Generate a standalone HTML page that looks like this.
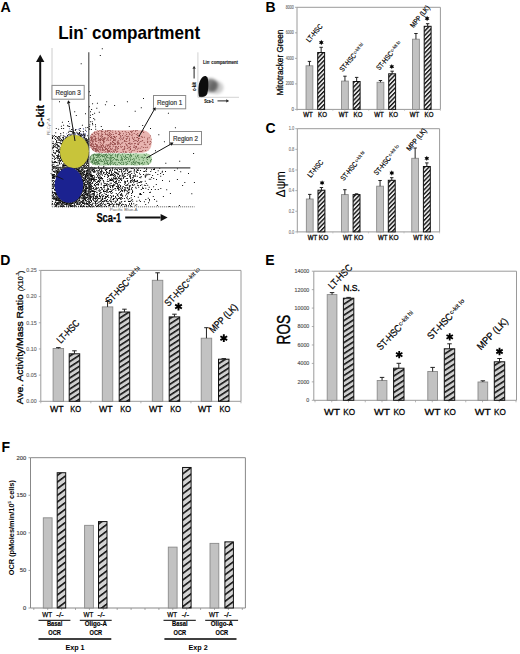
<!DOCTYPE html>
<html><head><meta charset="utf-8"><style>
html,body{margin:0;padding:0;background:#fff;}
svg{display:block;font-family:"Liberation Sans", sans-serif;}
</style></head><body>
<svg width="520" height="654" viewBox="0 0 520 654">
<defs>
<pattern id="hB" width="10" height="3.05" patternUnits="userSpaceOnUse" patternTransform="rotate(-46)"><rect width="10" height="3.05" fill="#e8e8e8"/><rect width="10" height="1.35" fill="#111"/></pattern>
<pattern id="hD" width="10" height="4.6" patternUnits="userSpaceOnUse" patternTransform="rotate(-33)"><rect width="10" height="4.6" fill="#cfcfcf"/><rect width="10" height="1.6" fill="#111"/></pattern>
<pattern id="hF" width="10" height="5.3" patternUnits="userSpaceOnUse" patternTransform="rotate(-37)"><rect width="10" height="5.3" fill="#d4d4d4"/><rect width="10" height="1.6" fill="#111"/></pattern>
</defs>
<rect width="520" height="654" fill="#fff"/>
<line x1="52" y1="48.5" x2="52" y2="207" stroke="#999" stroke-width="1" stroke-dasharray="1 1"/>
<line x1="52" y1="206.8" x2="194.6" y2="206.8" stroke="#777" stroke-width="1" stroke-dasharray="1.2 0.8"/>
<rect x="89.6" y="130.3" width="62" height="22.4" rx="9" ry="9" fill="#e8b4b0"/>
<rect x="89.6" y="153.4" width="62.4" height="11.8" rx="5.5" ry="5.5" fill="#b5d6ad"/>
<defs><filter id="soft" x="-5%" y="-5%" width="110%" height="110%"><feGaussianBlur stdDeviation="0.35"/></filter></defs>
<g filter="url(#soft)">
<path d="M101.8 48.2h1.0v1.0h-1.0zM99.8 54.9h1.0v1.0h-1.0zM80.7 63.2h1.0v1.0h-1.0zM88.9 91.2h1.0v1.0h-1.0zM58.8 93.8h1.0v1.0h-1.0zM89.8 95.0h1.0v1.0h-1.0zM79.8 97.3h1.0v1.0h-1.0zM143.0 98.0h1.0v1.0h-1.0zM59.0 101.3h1.0v1.0h-1.0zM106.2 101.3h1.0v1.0h-1.0zM126.9 101.2h1.0v1.0h-1.0zM92.1 103.3h1.0v1.0h-1.0zM96.9 102.7h1.0v1.0h-1.0zM104.9 104.2h1.0v1.0h-1.0zM114.1 105.1h1.0v1.0h-1.0zM89.0 106.3h1.0v1.0h-1.0zM140.8 107.2h1.0v1.0h-1.0zM96.3 107.7h1.0v1.0h-1.0zM91.1 109.0h1.0v1.0h-1.0zM74.2 111.2h1.0v1.0h-1.0zM90.0 111.2h1.0v1.0h-1.0zM134.7 110.8h1.0v1.0h-1.0zM98.8 111.8h1.0v1.0h-1.0zM85.0 113.2h1.0v1.0h-1.0zM94.1 112.8h1.0v1.0h-1.0zM167.9 112.8h1.0v1.0h-1.0zM92.2 113.9h1.0v1.0h-1.0zM75.8 115.0h1.0v1.0h-1.0zM90.0 114.8h1.0v1.0h-1.0zM89.8 117.1h1.0v1.0h-1.0zM93.2 118.0h1.0v1.0h-1.0zM94.2 119.3h1.0v1.0h-1.0zM68.0 120.9h1.0v1.0h-1.0zM89.9 121.3h1.0v1.0h-1.0zM91.7 121.2h1.0v1.0h-1.0zM61.9 121.8h1.0v1.0h-1.0zM92.0 123.0h1.0v1.0h-1.0zM89.3 124.3h1.0v1.0h-1.0zM92.2 124.2h1.0v1.0h-1.0zM95.0 124.3h1.0v1.0h-1.0zM63.1 124.7h1.0v1.0h-1.0zM67.0 125.2h1.0v1.0h-1.0zM81.9 124.8h1.0v1.0h-1.0zM142.2 125.0h1.0v1.0h-1.0zM60.9 125.8h1.0v1.0h-1.0zM67.9 125.8h1.0v1.0h-1.0zM69.1 125.9h1.0v1.0h-1.0zM89.1 126.1h1.0v1.0h-1.0zM95.1 126.3h1.0v1.0h-1.0zM100.8 126.1h1.0v1.0h-1.0zM128.8 126.1h1.0v1.0h-1.0zM85.3 127.2h1.0v1.0h-1.0zM87.2 126.9h1.0v1.0h-1.0zM174.9 127.2h1.0v1.0h-1.0zM55.8 128.1h1.0v1.0h-1.0zM61.1 127.9h1.0v1.0h-1.0zM63.1 127.9h1.0v1.0h-1.0zM79.9 127.9h1.0v1.0h-1.0zM88.8 128.2h1.0v1.0h-1.0zM150.0 128.0h1.0v1.0h-1.0zM58.1 128.7h1.0v1.0h-1.0zM71.1 128.9h1.0v1.0h-1.0zM71.7 129.0h1.0v1.0h-1.0zM75.1 129.1h1.0v1.0h-1.0zM89.1 128.8h1.0v1.0h-1.0zM90.9 129.1h1.0v1.0h-1.0zM95.2 128.8h1.0v1.0h-1.0zM102.1 129.1h1.0v1.0h-1.0zM74.8 130.1h1.0v1.0h-1.0zM78.9 129.8h1.0v1.0h-1.0zM85.1 129.8h1.0v1.0h-1.0zM68.8 130.7h1.0v1.0h-1.0zM70.0 130.7h1.0v1.0h-1.0zM70.9 131.1h1.0v1.0h-1.0zM72.1 131.3h1.0v1.0h-1.0zM80.1 130.8h1.0v1.0h-1.0zM82.8 130.9h1.0v1.0h-1.0zM55.2 132.3h1.0v1.0h-1.0zM62.9 132.3h1.0v1.0h-1.0zM67.9 131.8h1.0v1.0h-1.0zM71.9 131.7h1.0v1.0h-1.0zM72.8 132.1h1.0v1.0h-1.0zM74.2 131.9h1.0v1.0h-1.0zM76.3 131.7h1.0v1.0h-1.0zM79.0 132.1h1.0v1.0h-1.0zM60.2 132.9h1.0v1.0h-1.0zM72.2 133.3h1.0v1.0h-1.0zM72.8 133.2h1.0v1.0h-1.0zM74.2 132.8h1.0v1.0h-1.0zM76.8 133.1h1.0v1.0h-1.0zM78.3 133.1h1.0v1.0h-1.0zM79.2 133.0h1.0v1.0h-1.0zM83.2 133.2h1.0v1.0h-1.0zM68.0 134.2h1.0v1.0h-1.0zM69.3 133.8h1.0v1.0h-1.0zM71.3 133.7h1.0v1.0h-1.0zM78.1 134.0h1.0v1.0h-1.0zM78.7 133.9h1.0v1.0h-1.0zM80.3 134.3h1.0v1.0h-1.0zM81.2 133.9h1.0v1.0h-1.0zM83.1 133.9h1.0v1.0h-1.0zM84.2 133.8h1.0v1.0h-1.0zM158.3 134.2h1.0v1.0h-1.0zM51.9 135.3h1.0v1.0h-1.0zM53.8 135.0h1.0v1.0h-1.0zM60.3 134.7h1.0v1.0h-1.0zM62.8 135.2h1.0v1.0h-1.0zM67.0 135.0h1.0v1.0h-1.0zM70.2 134.9h1.0v1.0h-1.0zM70.7 134.9h1.0v1.0h-1.0zM74.2 134.8h1.0v1.0h-1.0zM79.2 135.3h1.0v1.0h-1.0zM79.8 135.0h1.0v1.0h-1.0zM80.7 134.9h1.0v1.0h-1.0zM82.1 135.1h1.0v1.0h-1.0zM83.9 135.1h1.0v1.0h-1.0zM87.2 135.2h1.0v1.0h-1.0zM52.7 136.1h1.0v1.0h-1.0zM55.0 136.0h1.0v1.0h-1.0zM55.8 136.2h1.0v1.0h-1.0zM57.9 136.1h1.0v1.0h-1.0zM59.3 135.9h1.0v1.0h-1.0zM63.7 135.8h1.0v1.0h-1.0zM67.2 136.3h1.0v1.0h-1.0zM74.9 136.3h1.0v1.0h-1.0zM76.2 135.9h1.0v1.0h-1.0zM76.8 135.9h1.0v1.0h-1.0zM77.9 136.2h1.0v1.0h-1.0zM78.7 135.8h1.0v1.0h-1.0zM80.0 136.0h1.0v1.0h-1.0zM81.0 136.2h1.0v1.0h-1.0zM84.3 136.0h1.0v1.0h-1.0zM52.0 137.0h1.0v1.0h-1.0zM56.9 137.1h1.0v1.0h-1.0zM58.9 136.8h1.0v1.0h-1.0zM62.2 137.1h1.0v1.0h-1.0zM62.9 136.9h1.0v1.0h-1.0zM65.3 137.2h1.0v1.0h-1.0zM65.9 137.0h1.0v1.0h-1.0zM66.8 137.1h1.0v1.0h-1.0zM67.8 137.0h1.0v1.0h-1.0zM71.3 137.2h1.0v1.0h-1.0zM71.8 137.0h1.0v1.0h-1.0zM72.7 137.0h1.0v1.0h-1.0zM74.0 136.7h1.0v1.0h-1.0zM76.1 137.3h1.0v1.0h-1.0zM80.0 136.9h1.0v1.0h-1.0zM83.1 136.7h1.0v1.0h-1.0zM84.1 137.1h1.0v1.0h-1.0zM88.0 137.3h1.0v1.0h-1.0zM193.0 136.9h1.0v1.0h-1.0zM52.0 138.0h1.0v1.0h-1.0zM53.9 137.8h1.0v1.0h-1.0zM56.8 137.9h1.0v1.0h-1.0zM58.2 137.8h1.0v1.0h-1.0zM59.9 137.8h1.0v1.0h-1.0zM62.8 138.1h1.0v1.0h-1.0zM64.9 138.1h1.0v1.0h-1.0zM67.1 138.0h1.0v1.0h-1.0zM71.1 138.0h1.0v1.0h-1.0zM71.7 138.1h1.0v1.0h-1.0zM72.9 137.8h1.0v1.0h-1.0zM74.1 138.0h1.0v1.0h-1.0zM75.0 138.0h1.0v1.0h-1.0zM76.9 138.0h1.0v1.0h-1.0zM79.1 137.8h1.0v1.0h-1.0zM82.0 138.0h1.0v1.0h-1.0zM84.2 137.8h1.0v1.0h-1.0zM85.2 138.3h1.0v1.0h-1.0zM85.8 138.0h1.0v1.0h-1.0zM88.1 137.9h1.0v1.0h-1.0zM181.8 137.9h1.0v1.0h-1.0zM55.0 139.0h1.0v1.0h-1.0zM57.8 139.2h1.0v1.0h-1.0zM58.9 138.7h1.0v1.0h-1.0zM61.1 138.9h1.0v1.0h-1.0zM63.1 139.1h1.0v1.0h-1.0zM65.0 139.3h1.0v1.0h-1.0zM67.1 138.8h1.0v1.0h-1.0zM68.8 139.0h1.0v1.0h-1.0zM70.8 139.1h1.0v1.0h-1.0zM73.7 139.1h1.0v1.0h-1.0zM75.2 138.9h1.0v1.0h-1.0zM79.2 139.0h1.0v1.0h-1.0zM79.9 139.3h1.0v1.0h-1.0zM81.1 138.9h1.0v1.0h-1.0zM82.2 138.8h1.0v1.0h-1.0zM83.1 139.0h1.0v1.0h-1.0zM84.8 139.3h1.0v1.0h-1.0zM86.1 139.2h1.0v1.0h-1.0zM86.7 139.1h1.0v1.0h-1.0zM88.1 138.9h1.0v1.0h-1.0zM187.1 139.3h1.0v1.0h-1.0zM56.2 140.1h1.0v1.0h-1.0zM58.7 140.1h1.0v1.0h-1.0zM60.1 139.8h1.0v1.0h-1.0zM61.3 139.7h1.0v1.0h-1.0zM61.9 140.1h1.0v1.0h-1.0zM62.8 139.8h1.0v1.0h-1.0zM64.3 140.3h1.0v1.0h-1.0zM64.8 140.1h1.0v1.0h-1.0zM65.9 139.9h1.0v1.0h-1.0zM67.3 140.0h1.0v1.0h-1.0zM67.9 140.3h1.0v1.0h-1.0zM68.7 140.1h1.0v1.0h-1.0zM70.1 140.2h1.0v1.0h-1.0zM71.2 140.0h1.0v1.0h-1.0zM72.8 140.0h1.0v1.0h-1.0zM75.0 140.1h1.0v1.0h-1.0zM75.9 139.9h1.0v1.0h-1.0zM76.8 139.7h1.0v1.0h-1.0zM77.9 140.2h1.0v1.0h-1.0zM78.9 139.8h1.0v1.0h-1.0zM79.8 140.3h1.0v1.0h-1.0zM80.8 139.8h1.0v1.0h-1.0zM82.2 139.9h1.0v1.0h-1.0zM83.2 139.8h1.0v1.0h-1.0zM83.9 140.0h1.0v1.0h-1.0zM84.8 140.2h1.0v1.0h-1.0zM86.0 139.9h1.0v1.0h-1.0zM86.8 140.1h1.0v1.0h-1.0zM52.7 141.2h1.0v1.0h-1.0zM56.0 140.9h1.0v1.0h-1.0zM60.3 140.8h1.0v1.0h-1.0zM61.9 141.2h1.0v1.0h-1.0zM63.0 141.1h1.0v1.0h-1.0zM63.9 141.2h1.0v1.0h-1.0zM64.9 141.2h1.0v1.0h-1.0zM65.9 141.0h1.0v1.0h-1.0zM67.2 141.2h1.0v1.0h-1.0zM68.1 141.2h1.0v1.0h-1.0zM69.1 140.9h1.0v1.0h-1.0zM70.0 141.3h1.0v1.0h-1.0zM70.9 141.2h1.0v1.0h-1.0zM73.2 140.8h1.0v1.0h-1.0zM73.7 141.1h1.0v1.0h-1.0zM75.0 141.1h1.0v1.0h-1.0zM75.8 140.9h1.0v1.0h-1.0zM77.2 140.8h1.0v1.0h-1.0zM77.8 141.0h1.0v1.0h-1.0zM78.7 140.9h1.0v1.0h-1.0zM80.0 141.3h1.0v1.0h-1.0zM80.8 141.3h1.0v1.0h-1.0zM82.9 141.1h1.0v1.0h-1.0zM84.1 141.2h1.0v1.0h-1.0zM85.0 141.0h1.0v1.0h-1.0zM86.1 141.2h1.0v1.0h-1.0zM86.8 141.1h1.0v1.0h-1.0zM88.2 140.9h1.0v1.0h-1.0zM163.9 141.3h1.0v1.0h-1.0zM55.9 142.0h1.0v1.0h-1.0zM57.1 142.2h1.0v1.0h-1.0zM57.8 142.0h1.0v1.0h-1.0zM59.0 142.2h1.0v1.0h-1.0zM59.7 142.2h1.0v1.0h-1.0zM62.1 142.2h1.0v1.0h-1.0zM62.9 142.0h1.0v1.0h-1.0zM64.0 142.2h1.0v1.0h-1.0zM64.7 142.0h1.0v1.0h-1.0zM65.8 142.0h1.0v1.0h-1.0zM67.1 141.9h1.0v1.0h-1.0zM68.3 141.8h1.0v1.0h-1.0zM68.8 141.9h1.0v1.0h-1.0zM69.8 142.1h1.0v1.0h-1.0zM70.9 142.1h1.0v1.0h-1.0zM72.2 142.2h1.0v1.0h-1.0zM74.2 141.9h1.0v1.0h-1.0zM74.8 142.0h1.0v1.0h-1.0zM76.2 141.9h1.0v1.0h-1.0zM76.8 142.1h1.0v1.0h-1.0zM78.1 141.9h1.0v1.0h-1.0zM79.0 142.2h1.0v1.0h-1.0zM80.2 142.1h1.0v1.0h-1.0zM80.8 141.9h1.0v1.0h-1.0zM82.1 142.2h1.0v1.0h-1.0zM83.1 142.0h1.0v1.0h-1.0zM83.8 141.9h1.0v1.0h-1.0zM85.0 142.0h1.0v1.0h-1.0zM86.0 142.0h1.0v1.0h-1.0zM87.1 141.9h1.0v1.0h-1.0zM52.2 142.9h1.0v1.0h-1.0zM53.2 143.2h1.0v1.0h-1.0zM55.3 142.9h1.0v1.0h-1.0zM60.2 142.9h1.0v1.0h-1.0zM61.0 142.9h1.0v1.0h-1.0zM62.1 142.8h1.0v1.0h-1.0zM62.7 142.9h1.0v1.0h-1.0zM64.0 143.1h1.0v1.0h-1.0zM65.9 143.0h1.0v1.0h-1.0zM67.3 142.8h1.0v1.0h-1.0zM67.9 142.8h1.0v1.0h-1.0zM69.0 142.9h1.0v1.0h-1.0zM69.9 142.8h1.0v1.0h-1.0zM70.9 143.0h1.0v1.0h-1.0zM72.1 143.0h1.0v1.0h-1.0zM72.8 143.1h1.0v1.0h-1.0zM73.7 142.9h1.0v1.0h-1.0zM74.8 142.9h1.0v1.0h-1.0zM75.9 142.7h1.0v1.0h-1.0zM77.2 143.0h1.0v1.0h-1.0zM78.1 143.3h1.0v1.0h-1.0zM79.0 143.2h1.0v1.0h-1.0zM79.9 143.1h1.0v1.0h-1.0zM81.2 142.8h1.0v1.0h-1.0zM81.9 142.9h1.0v1.0h-1.0zM83.1 142.8h1.0v1.0h-1.0zM84.2 142.8h1.0v1.0h-1.0zM85.1 142.8h1.0v1.0h-1.0zM86.2 142.7h1.0v1.0h-1.0zM86.8 142.8h1.0v1.0h-1.0zM88.1 143.3h1.0v1.0h-1.0zM54.2 144.3h1.0v1.0h-1.0zM55.7 144.0h1.0v1.0h-1.0zM56.8 143.9h1.0v1.0h-1.0zM60.8 144.1h1.0v1.0h-1.0zM62.9 144.1h1.0v1.0h-1.0zM63.7 144.0h1.0v1.0h-1.0zM64.8 144.3h1.0v1.0h-1.0zM66.0 144.1h1.0v1.0h-1.0zM66.8 143.7h1.0v1.0h-1.0zM68.3 144.2h1.0v1.0h-1.0zM69.2 143.9h1.0v1.0h-1.0zM70.0 144.3h1.0v1.0h-1.0zM71.2 144.2h1.0v1.0h-1.0zM72.1 144.1h1.0v1.0h-1.0zM73.3 143.8h1.0v1.0h-1.0zM74.2 144.2h1.0v1.0h-1.0zM75.1 143.7h1.0v1.0h-1.0zM76.1 143.8h1.0v1.0h-1.0zM77.0 144.2h1.0v1.0h-1.0zM78.3 144.1h1.0v1.0h-1.0zM79.1 144.1h1.0v1.0h-1.0zM79.9 144.2h1.0v1.0h-1.0zM81.2 143.8h1.0v1.0h-1.0zM82.2 144.1h1.0v1.0h-1.0zM83.0 143.9h1.0v1.0h-1.0zM85.3 144.1h1.0v1.0h-1.0zM86.1 143.7h1.0v1.0h-1.0zM87.1 143.8h1.0v1.0h-1.0zM88.0 144.3h1.0v1.0h-1.0zM52.9 144.9h1.0v1.0h-1.0zM55.2 145.2h1.0v1.0h-1.0zM56.9 144.8h1.0v1.0h-1.0zM58.2 145.1h1.0v1.0h-1.0zM60.9 144.8h1.0v1.0h-1.0zM62.1 144.8h1.0v1.0h-1.0zM63.1 144.7h1.0v1.0h-1.0zM63.9 144.8h1.0v1.0h-1.0zM65.3 145.1h1.0v1.0h-1.0zM67.8 145.0h1.0v1.0h-1.0zM70.1 144.8h1.0v1.0h-1.0zM71.1 144.7h1.0v1.0h-1.0zM72.0 145.0h1.0v1.0h-1.0zM73.3 145.0h1.0v1.0h-1.0zM75.0 145.0h1.0v1.0h-1.0zM76.2 144.7h1.0v1.0h-1.0zM77.2 144.8h1.0v1.0h-1.0zM78.2 145.1h1.0v1.0h-1.0zM79.1 145.0h1.0v1.0h-1.0zM80.1 144.7h1.0v1.0h-1.0zM81.1 144.8h1.0v1.0h-1.0zM81.8 144.9h1.0v1.0h-1.0zM82.8 145.1h1.0v1.0h-1.0zM83.8 144.8h1.0v1.0h-1.0zM84.8 145.2h1.0v1.0h-1.0zM87.1 145.2h1.0v1.0h-1.0zM88.3 144.8h1.0v1.0h-1.0zM53.1 146.2h1.0v1.0h-1.0zM54.2 145.9h1.0v1.0h-1.0zM57.3 145.8h1.0v1.0h-1.0zM57.9 146.0h1.0v1.0h-1.0zM59.0 146.2h1.0v1.0h-1.0zM61.1 145.9h1.0v1.0h-1.0zM62.3 145.8h1.0v1.0h-1.0zM62.8 146.2h1.0v1.0h-1.0zM65.2 146.1h1.0v1.0h-1.0zM65.8 145.7h1.0v1.0h-1.0zM67.7 145.8h1.0v1.0h-1.0zM68.8 145.8h1.0v1.0h-1.0zM69.7 146.2h1.0v1.0h-1.0zM71.3 145.8h1.0v1.0h-1.0zM72.1 146.1h1.0v1.0h-1.0zM73.0 145.7h1.0v1.0h-1.0zM73.8 145.9h1.0v1.0h-1.0zM74.8 146.1h1.0v1.0h-1.0zM76.3 145.9h1.0v1.0h-1.0zM76.7 146.0h1.0v1.0h-1.0zM78.2 146.1h1.0v1.0h-1.0zM79.0 145.7h1.0v1.0h-1.0zM80.2 146.3h1.0v1.0h-1.0zM81.0 145.8h1.0v1.0h-1.0zM81.8 145.9h1.0v1.0h-1.0zM83.0 145.9h1.0v1.0h-1.0zM84.2 146.2h1.0v1.0h-1.0zM86.1 145.7h1.0v1.0h-1.0zM87.2 146.2h1.0v1.0h-1.0zM87.8 145.7h1.0v1.0h-1.0zM52.1 146.8h1.0v1.0h-1.0zM53.0 147.3h1.0v1.0h-1.0zM54.8 146.7h1.0v1.0h-1.0zM56.0 147.3h1.0v1.0h-1.0zM57.2 147.2h1.0v1.0h-1.0zM60.1 147.3h1.0v1.0h-1.0zM61.3 147.1h1.0v1.0h-1.0zM61.9 147.0h1.0v1.0h-1.0zM63.1 147.0h1.0v1.0h-1.0zM63.9 146.8h1.0v1.0h-1.0zM65.0 146.7h1.0v1.0h-1.0zM66.3 146.8h1.0v1.0h-1.0zM66.7 146.8h1.0v1.0h-1.0zM67.7 146.7h1.0v1.0h-1.0zM68.9 147.1h1.0v1.0h-1.0zM69.9 147.0h1.0v1.0h-1.0zM70.8 146.9h1.0v1.0h-1.0zM72.2 147.3h1.0v1.0h-1.0zM73.0 147.3h1.0v1.0h-1.0zM73.8 146.9h1.0v1.0h-1.0zM75.2 147.3h1.0v1.0h-1.0zM76.2 146.9h1.0v1.0h-1.0zM77.0 147.0h1.0v1.0h-1.0zM77.8 147.1h1.0v1.0h-1.0zM79.1 146.9h1.0v1.0h-1.0zM79.8 146.7h1.0v1.0h-1.0zM81.1 146.8h1.0v1.0h-1.0zM82.2 147.1h1.0v1.0h-1.0zM83.1 146.9h1.0v1.0h-1.0zM84.0 147.2h1.0v1.0h-1.0zM84.9 146.9h1.0v1.0h-1.0zM86.1 147.3h1.0v1.0h-1.0zM87.0 146.7h1.0v1.0h-1.0zM88.2 147.2h1.0v1.0h-1.0zM52.0 148.2h1.0v1.0h-1.0zM57.1 148.0h1.0v1.0h-1.0zM59.7 147.7h1.0v1.0h-1.0zM61.3 148.0h1.0v1.0h-1.0zM62.3 148.0h1.0v1.0h-1.0zM63.1 147.7h1.0v1.0h-1.0zM64.0 148.2h1.0v1.0h-1.0zM64.9 148.0h1.0v1.0h-1.0zM66.0 147.9h1.0v1.0h-1.0zM67.1 148.0h1.0v1.0h-1.0zM68.0 148.1h1.0v1.0h-1.0zM69.2 148.1h1.0v1.0h-1.0zM70.0 148.1h1.0v1.0h-1.0zM71.2 148.2h1.0v1.0h-1.0zM72.3 147.8h1.0v1.0h-1.0zM72.8 148.0h1.0v1.0h-1.0zM74.3 147.8h1.0v1.0h-1.0zM75.3 148.0h1.0v1.0h-1.0zM75.8 148.2h1.0v1.0h-1.0zM77.2 147.8h1.0v1.0h-1.0zM79.0 148.2h1.0v1.0h-1.0zM80.3 148.3h1.0v1.0h-1.0zM80.8 147.9h1.0v1.0h-1.0zM82.1 147.7h1.0v1.0h-1.0zM82.8 148.0h1.0v1.0h-1.0zM84.0 148.2h1.0v1.0h-1.0zM84.7 148.3h1.0v1.0h-1.0zM86.8 148.1h1.0v1.0h-1.0zM87.7 148.2h1.0v1.0h-1.0zM57.8 149.0h1.0v1.0h-1.0zM59.2 148.7h1.0v1.0h-1.0zM59.8 149.1h1.0v1.0h-1.0zM60.8 149.1h1.0v1.0h-1.0zM61.9 149.2h1.0v1.0h-1.0zM62.9 149.2h1.0v1.0h-1.0zM64.0 149.1h1.0v1.0h-1.0zM65.0 149.0h1.0v1.0h-1.0zM66.2 149.0h1.0v1.0h-1.0zM67.2 149.1h1.0v1.0h-1.0zM68.3 148.8h1.0v1.0h-1.0zM69.0 149.0h1.0v1.0h-1.0zM70.3 149.0h1.0v1.0h-1.0zM70.8 149.1h1.0v1.0h-1.0zM72.1 148.9h1.0v1.0h-1.0zM75.2 148.8h1.0v1.0h-1.0zM76.3 149.3h1.0v1.0h-1.0zM76.7 148.8h1.0v1.0h-1.0zM77.7 149.1h1.0v1.0h-1.0zM79.1 149.2h1.0v1.0h-1.0zM79.8 149.1h1.0v1.0h-1.0zM80.8 148.9h1.0v1.0h-1.0zM82.3 149.0h1.0v1.0h-1.0zM83.2 148.8h1.0v1.0h-1.0zM83.8 149.3h1.0v1.0h-1.0zM85.8 149.2h1.0v1.0h-1.0zM86.7 148.8h1.0v1.0h-1.0zM88.0 149.2h1.0v1.0h-1.0zM53.0 150.2h1.0v1.0h-1.0zM55.9 150.1h1.0v1.0h-1.0zM56.8 150.2h1.0v1.0h-1.0zM58.0 150.1h1.0v1.0h-1.0zM59.8 150.2h1.0v1.0h-1.0zM61.1 150.3h1.0v1.0h-1.0zM61.8 149.8h1.0v1.0h-1.0zM63.0 149.8h1.0v1.0h-1.0zM64.2 149.7h1.0v1.0h-1.0zM64.7 149.8h1.0v1.0h-1.0zM65.9 149.8h1.0v1.0h-1.0zM66.9 149.9h1.0v1.0h-1.0zM68.3 150.2h1.0v1.0h-1.0zM68.7 150.2h1.0v1.0h-1.0zM70.3 150.2h1.0v1.0h-1.0zM70.7 150.2h1.0v1.0h-1.0zM72.1 149.8h1.0v1.0h-1.0zM73.0 149.8h1.0v1.0h-1.0zM73.8 149.9h1.0v1.0h-1.0zM74.7 150.3h1.0v1.0h-1.0zM76.1 149.9h1.0v1.0h-1.0zM77.2 150.0h1.0v1.0h-1.0zM77.8 149.9h1.0v1.0h-1.0zM78.9 150.2h1.0v1.0h-1.0zM81.1 149.8h1.0v1.0h-1.0zM81.8 150.1h1.0v1.0h-1.0zM83.0 149.8h1.0v1.0h-1.0zM83.8 149.9h1.0v1.0h-1.0zM85.1 149.9h1.0v1.0h-1.0zM85.8 150.3h1.0v1.0h-1.0zM87.2 150.0h1.0v1.0h-1.0zM155.0 150.3h1.0v1.0h-1.0zM56.0 151.2h1.0v1.0h-1.0zM57.2 151.0h1.0v1.0h-1.0zM58.3 150.8h1.0v1.0h-1.0zM58.9 151.2h1.0v1.0h-1.0zM62.0 151.2h1.0v1.0h-1.0zM63.0 151.3h1.0v1.0h-1.0zM63.8 150.8h1.0v1.0h-1.0zM65.0 151.2h1.0v1.0h-1.0zM67.2 150.9h1.0v1.0h-1.0zM68.1 151.2h1.0v1.0h-1.0zM68.8 150.8h1.0v1.0h-1.0zM69.9 150.9h1.0v1.0h-1.0zM70.8 151.0h1.0v1.0h-1.0zM71.7 150.9h1.0v1.0h-1.0zM72.7 151.0h1.0v1.0h-1.0zM75.1 151.1h1.0v1.0h-1.0zM76.0 151.0h1.0v1.0h-1.0zM77.2 150.7h1.0v1.0h-1.0zM77.9 151.2h1.0v1.0h-1.0zM78.7 151.3h1.0v1.0h-1.0zM80.0 150.9h1.0v1.0h-1.0zM81.3 151.2h1.0v1.0h-1.0zM82.2 150.9h1.0v1.0h-1.0zM83.0 150.9h1.0v1.0h-1.0zM84.0 151.2h1.0v1.0h-1.0zM84.9 150.8h1.0v1.0h-1.0zM85.8 150.8h1.0v1.0h-1.0zM87.0 150.9h1.0v1.0h-1.0zM53.1 152.0h1.0v1.0h-1.0zM54.8 152.2h1.0v1.0h-1.0zM58.0 152.3h1.0v1.0h-1.0zM58.7 152.2h1.0v1.0h-1.0zM59.7 152.2h1.0v1.0h-1.0zM60.8 151.7h1.0v1.0h-1.0zM61.9 152.1h1.0v1.0h-1.0zM62.8 151.8h1.0v1.0h-1.0zM64.1 152.1h1.0v1.0h-1.0zM65.1 151.8h1.0v1.0h-1.0zM66.1 152.0h1.0v1.0h-1.0zM67.1 151.9h1.0v1.0h-1.0zM67.9 152.1h1.0v1.0h-1.0zM69.3 152.1h1.0v1.0h-1.0zM69.7 152.1h1.0v1.0h-1.0zM71.0 151.8h1.0v1.0h-1.0zM73.0 152.2h1.0v1.0h-1.0zM74.0 151.7h1.0v1.0h-1.0zM75.2 151.9h1.0v1.0h-1.0zM76.2 151.9h1.0v1.0h-1.0zM76.9 151.9h1.0v1.0h-1.0zM77.9 152.0h1.0v1.0h-1.0zM79.1 151.9h1.0v1.0h-1.0zM79.9 151.9h1.0v1.0h-1.0zM80.7 152.2h1.0v1.0h-1.0zM82.3 151.7h1.0v1.0h-1.0zM83.0 152.0h1.0v1.0h-1.0zM86.9 152.2h1.0v1.0h-1.0zM88.1 152.0h1.0v1.0h-1.0zM53.9 152.8h1.0v1.0h-1.0zM55.0 153.3h1.0v1.0h-1.0zM60.1 153.3h1.0v1.0h-1.0zM61.7 153.2h1.0v1.0h-1.0zM63.3 153.2h1.0v1.0h-1.0zM64.9 153.0h1.0v1.0h-1.0zM68.2 153.0h1.0v1.0h-1.0zM69.8 153.3h1.0v1.0h-1.0zM71.0 152.7h1.0v1.0h-1.0zM71.8 153.2h1.0v1.0h-1.0zM74.2 152.8h1.0v1.0h-1.0zM74.7 153.2h1.0v1.0h-1.0zM76.3 153.0h1.0v1.0h-1.0zM76.8 152.9h1.0v1.0h-1.0zM77.9 153.0h1.0v1.0h-1.0zM80.9 152.9h1.0v1.0h-1.0zM81.9 152.9h1.0v1.0h-1.0zM83.2 153.2h1.0v1.0h-1.0zM84.1 153.0h1.0v1.0h-1.0zM85.2 152.8h1.0v1.0h-1.0zM86.1 153.0h1.0v1.0h-1.0zM86.8 153.1h1.0v1.0h-1.0zM87.9 152.9h1.0v1.0h-1.0zM193.1 153.0h1.0v1.0h-1.0zM51.8 153.9h1.0v1.0h-1.0zM57.9 154.0h1.0v1.0h-1.0zM60.2 154.2h1.0v1.0h-1.0zM61.0 154.1h1.0v1.0h-1.0zM61.7 154.0h1.0v1.0h-1.0zM62.9 153.7h1.0v1.0h-1.0zM64.7 154.0h1.0v1.0h-1.0zM65.8 153.8h1.0v1.0h-1.0zM66.9 154.2h1.0v1.0h-1.0zM68.0 153.7h1.0v1.0h-1.0zM70.0 153.8h1.0v1.0h-1.0zM70.8 153.9h1.0v1.0h-1.0zM72.1 154.0h1.0v1.0h-1.0zM72.9 154.2h1.0v1.0h-1.0zM73.7 154.2h1.0v1.0h-1.0zM75.3 153.9h1.0v1.0h-1.0zM76.3 154.1h1.0v1.0h-1.0zM77.3 153.7h1.0v1.0h-1.0zM77.9 153.8h1.0v1.0h-1.0zM79.2 154.2h1.0v1.0h-1.0zM80.2 154.3h1.0v1.0h-1.0zM81.1 154.3h1.0v1.0h-1.0zM82.2 153.9h1.0v1.0h-1.0zM83.8 153.8h1.0v1.0h-1.0zM85.1 154.1h1.0v1.0h-1.0zM86.1 154.0h1.0v1.0h-1.0zM87.9 154.0h1.0v1.0h-1.0zM52.3 154.9h1.0v1.0h-1.0zM56.2 155.1h1.0v1.0h-1.0zM56.8 155.3h1.0v1.0h-1.0zM57.8 155.1h1.0v1.0h-1.0zM59.8 154.8h1.0v1.0h-1.0zM61.3 154.7h1.0v1.0h-1.0zM61.9 155.3h1.0v1.0h-1.0zM62.7 155.0h1.0v1.0h-1.0zM64.0 155.1h1.0v1.0h-1.0zM65.2 155.0h1.0v1.0h-1.0zM65.8 155.1h1.0v1.0h-1.0zM66.7 155.0h1.0v1.0h-1.0zM69.0 155.3h1.0v1.0h-1.0zM70.1 155.0h1.0v1.0h-1.0zM70.9 154.9h1.0v1.0h-1.0zM72.0 155.1h1.0v1.0h-1.0zM72.9 154.8h1.0v1.0h-1.0zM74.0 155.0h1.0v1.0h-1.0zM74.9 155.0h1.0v1.0h-1.0zM76.9 155.2h1.0v1.0h-1.0zM78.0 155.0h1.0v1.0h-1.0zM79.3 155.0h1.0v1.0h-1.0zM80.2 154.8h1.0v1.0h-1.0zM81.1 154.9h1.0v1.0h-1.0zM81.8 155.3h1.0v1.0h-1.0zM83.1 154.7h1.0v1.0h-1.0zM83.8 155.0h1.0v1.0h-1.0zM85.0 154.9h1.0v1.0h-1.0zM86.7 154.7h1.0v1.0h-1.0zM88.0 155.3h1.0v1.0h-1.0zM52.9 155.8h1.0v1.0h-1.0zM53.9 155.8h1.0v1.0h-1.0zM57.1 155.8h1.0v1.0h-1.0zM58.2 156.1h1.0v1.0h-1.0zM59.3 155.8h1.0v1.0h-1.0zM60.0 155.8h1.0v1.0h-1.0zM60.9 156.2h1.0v1.0h-1.0zM62.0 156.2h1.0v1.0h-1.0zM63.1 156.0h1.0v1.0h-1.0zM64.1 156.1h1.0v1.0h-1.0zM65.1 155.7h1.0v1.0h-1.0zM65.9 155.7h1.0v1.0h-1.0zM67.0 156.1h1.0v1.0h-1.0zM67.7 155.9h1.0v1.0h-1.0zM69.2 156.1h1.0v1.0h-1.0zM70.0 155.8h1.0v1.0h-1.0zM71.1 156.2h1.0v1.0h-1.0zM72.2 156.0h1.0v1.0h-1.0zM73.1 156.3h1.0v1.0h-1.0zM74.2 156.1h1.0v1.0h-1.0zM75.1 155.7h1.0v1.0h-1.0zM76.2 155.9h1.0v1.0h-1.0zM76.7 156.3h1.0v1.0h-1.0zM78.0 156.1h1.0v1.0h-1.0zM81.0 156.2h1.0v1.0h-1.0zM82.1 156.2h1.0v1.0h-1.0zM83.0 156.3h1.0v1.0h-1.0zM85.3 156.2h1.0v1.0h-1.0zM86.2 156.3h1.0v1.0h-1.0zM86.8 156.3h1.0v1.0h-1.0zM87.8 156.0h1.0v1.0h-1.0zM54.1 157.3h1.0v1.0h-1.0zM56.2 157.2h1.0v1.0h-1.0zM57.1 156.8h1.0v1.0h-1.0zM57.9 156.7h1.0v1.0h-1.0zM60.0 157.1h1.0v1.0h-1.0zM61.0 157.2h1.0v1.0h-1.0zM62.2 157.1h1.0v1.0h-1.0zM62.9 157.0h1.0v1.0h-1.0zM64.0 157.0h1.0v1.0h-1.0zM65.0 157.2h1.0v1.0h-1.0zM66.1 157.0h1.0v1.0h-1.0zM67.9 157.3h1.0v1.0h-1.0zM68.9 157.0h1.0v1.0h-1.0zM70.3 156.9h1.0v1.0h-1.0zM70.8 157.0h1.0v1.0h-1.0zM72.2 156.9h1.0v1.0h-1.0zM74.1 157.0h1.0v1.0h-1.0zM75.0 157.1h1.0v1.0h-1.0zM76.0 156.9h1.0v1.0h-1.0zM77.1 157.2h1.0v1.0h-1.0zM78.2 156.9h1.0v1.0h-1.0zM79.0 157.0h1.0v1.0h-1.0zM80.2 156.8h1.0v1.0h-1.0zM81.2 156.7h1.0v1.0h-1.0zM81.7 157.1h1.0v1.0h-1.0zM83.2 157.0h1.0v1.0h-1.0zM84.1 157.0h1.0v1.0h-1.0zM84.7 157.1h1.0v1.0h-1.0zM86.0 156.8h1.0v1.0h-1.0zM86.7 156.9h1.0v1.0h-1.0zM88.1 157.2h1.0v1.0h-1.0zM52.2 158.1h1.0v1.0h-1.0zM54.9 157.9h1.0v1.0h-1.0zM57.0 158.2h1.0v1.0h-1.0zM58.2 158.0h1.0v1.0h-1.0zM59.0 158.2h1.0v1.0h-1.0zM60.3 157.9h1.0v1.0h-1.0zM60.8 157.8h1.0v1.0h-1.0zM62.2 157.7h1.0v1.0h-1.0zM63.9 157.7h1.0v1.0h-1.0zM64.9 157.9h1.0v1.0h-1.0zM66.1 157.7h1.0v1.0h-1.0zM66.7 158.2h1.0v1.0h-1.0zM69.1 157.9h1.0v1.0h-1.0zM70.0 157.7h1.0v1.0h-1.0zM72.3 157.8h1.0v1.0h-1.0zM72.7 158.3h1.0v1.0h-1.0zM73.8 158.1h1.0v1.0h-1.0zM75.2 158.2h1.0v1.0h-1.0zM75.9 157.9h1.0v1.0h-1.0zM77.0 157.8h1.0v1.0h-1.0zM77.8 157.9h1.0v1.0h-1.0zM79.3 158.0h1.0v1.0h-1.0zM80.2 158.0h1.0v1.0h-1.0zM81.0 157.9h1.0v1.0h-1.0zM82.0 157.8h1.0v1.0h-1.0zM83.0 157.7h1.0v1.0h-1.0zM84.2 158.1h1.0v1.0h-1.0zM85.2 158.0h1.0v1.0h-1.0zM86.3 158.1h1.0v1.0h-1.0zM87.1 158.2h1.0v1.0h-1.0zM54.1 158.9h1.0v1.0h-1.0zM59.2 158.8h1.0v1.0h-1.0zM60.9 159.0h1.0v1.0h-1.0zM62.2 159.1h1.0v1.0h-1.0zM63.9 158.7h1.0v1.0h-1.0zM65.3 159.2h1.0v1.0h-1.0zM65.8 159.1h1.0v1.0h-1.0zM67.2 158.8h1.0v1.0h-1.0zM68.2 158.8h1.0v1.0h-1.0zM68.9 158.8h1.0v1.0h-1.0zM70.0 159.0h1.0v1.0h-1.0zM72.2 158.8h1.0v1.0h-1.0zM72.8 159.1h1.0v1.0h-1.0zM74.0 159.0h1.0v1.0h-1.0zM75.2 159.1h1.0v1.0h-1.0zM75.7 158.8h1.0v1.0h-1.0zM77.8 159.2h1.0v1.0h-1.0zM80.0 158.9h1.0v1.0h-1.0zM80.9 159.3h1.0v1.0h-1.0zM81.9 159.0h1.0v1.0h-1.0zM82.8 159.3h1.0v1.0h-1.0zM84.3 159.0h1.0v1.0h-1.0zM85.0 159.0h1.0v1.0h-1.0zM86.2 159.3h1.0v1.0h-1.0zM86.7 158.7h1.0v1.0h-1.0zM87.7 159.0h1.0v1.0h-1.0zM57.7 160.3h1.0v1.0h-1.0zM58.8 159.8h1.0v1.0h-1.0zM60.0 160.1h1.0v1.0h-1.0zM60.7 159.9h1.0v1.0h-1.0zM61.9 160.3h1.0v1.0h-1.0zM63.2 160.1h1.0v1.0h-1.0zM63.9 160.1h1.0v1.0h-1.0zM65.2 159.9h1.0v1.0h-1.0zM66.1 159.9h1.0v1.0h-1.0zM67.0 160.1h1.0v1.0h-1.0zM68.2 159.9h1.0v1.0h-1.0zM69.8 159.8h1.0v1.0h-1.0zM72.0 159.9h1.0v1.0h-1.0zM73.3 159.8h1.0v1.0h-1.0zM74.2 160.0h1.0v1.0h-1.0zM75.2 160.3h1.0v1.0h-1.0zM76.2 160.3h1.0v1.0h-1.0zM77.0 160.2h1.0v1.0h-1.0zM78.2 160.2h1.0v1.0h-1.0zM78.9 160.1h1.0v1.0h-1.0zM80.3 159.9h1.0v1.0h-1.0zM81.0 159.9h1.0v1.0h-1.0zM82.9 160.0h1.0v1.0h-1.0zM83.7 160.2h1.0v1.0h-1.0zM84.7 160.1h1.0v1.0h-1.0zM85.8 159.7h1.0v1.0h-1.0zM87.0 160.1h1.0v1.0h-1.0zM51.7 160.7h1.0v1.0h-1.0zM53.9 161.3h1.0v1.0h-1.0zM54.9 161.0h1.0v1.0h-1.0zM58.8 160.7h1.0v1.0h-1.0zM60.0 160.8h1.0v1.0h-1.0zM62.1 161.1h1.0v1.0h-1.0zM63.0 160.9h1.0v1.0h-1.0zM64.2 160.9h1.0v1.0h-1.0zM64.8 161.2h1.0v1.0h-1.0zM65.7 160.9h1.0v1.0h-1.0zM68.1 161.1h1.0v1.0h-1.0zM68.8 161.2h1.0v1.0h-1.0zM70.2 161.0h1.0v1.0h-1.0zM70.9 161.1h1.0v1.0h-1.0zM72.0 160.7h1.0v1.0h-1.0zM74.1 160.9h1.0v1.0h-1.0zM75.1 160.7h1.0v1.0h-1.0zM76.2 160.9h1.0v1.0h-1.0zM76.7 161.1h1.0v1.0h-1.0zM78.0 161.1h1.0v1.0h-1.0zM79.1 160.9h1.0v1.0h-1.0zM81.2 161.2h1.0v1.0h-1.0zM81.8 161.3h1.0v1.0h-1.0zM82.7 160.7h1.0v1.0h-1.0zM83.7 160.8h1.0v1.0h-1.0zM84.8 160.9h1.0v1.0h-1.0zM85.7 160.9h1.0v1.0h-1.0zM87.0 160.8h1.0v1.0h-1.0zM179.2 160.8h1.0v1.0h-1.0zM51.9 162.0h1.0v1.0h-1.0zM53.2 161.9h1.0v1.0h-1.0zM54.2 162.1h1.0v1.0h-1.0zM55.2 161.7h1.0v1.0h-1.0zM56.0 162.1h1.0v1.0h-1.0zM57.3 162.2h1.0v1.0h-1.0zM58.9 162.1h1.0v1.0h-1.0zM63.7 162.0h1.0v1.0h-1.0zM64.8 161.9h1.0v1.0h-1.0zM66.2 162.1h1.0v1.0h-1.0zM68.0 161.8h1.0v1.0h-1.0zM70.2 161.9h1.0v1.0h-1.0zM71.3 162.3h1.0v1.0h-1.0zM72.0 162.3h1.0v1.0h-1.0zM72.8 161.9h1.0v1.0h-1.0zM73.7 162.1h1.0v1.0h-1.0zM75.3 161.8h1.0v1.0h-1.0zM75.9 161.8h1.0v1.0h-1.0zM76.7 161.9h1.0v1.0h-1.0zM78.0 162.1h1.0v1.0h-1.0zM79.1 161.8h1.0v1.0h-1.0zM80.1 162.2h1.0v1.0h-1.0zM81.1 162.3h1.0v1.0h-1.0zM81.9 162.3h1.0v1.0h-1.0zM83.2 162.2h1.0v1.0h-1.0zM83.8 161.9h1.0v1.0h-1.0zM84.9 161.8h1.0v1.0h-1.0zM86.2 162.3h1.0v1.0h-1.0zM87.0 161.8h1.0v1.0h-1.0zM59.0 163.1h1.0v1.0h-1.0zM60.9 162.8h1.0v1.0h-1.0zM63.2 163.2h1.0v1.0h-1.0zM64.2 163.0h1.0v1.0h-1.0zM65.3 163.1h1.0v1.0h-1.0zM67.0 163.1h1.0v1.0h-1.0zM68.2 163.1h1.0v1.0h-1.0zM69.3 163.0h1.0v1.0h-1.0zM70.0 162.8h1.0v1.0h-1.0zM71.2 162.9h1.0v1.0h-1.0zM72.0 163.1h1.0v1.0h-1.0zM72.8 162.9h1.0v1.0h-1.0zM74.0 162.7h1.0v1.0h-1.0zM75.2 163.1h1.0v1.0h-1.0zM75.9 162.9h1.0v1.0h-1.0zM77.2 162.9h1.0v1.0h-1.0zM78.2 162.8h1.0v1.0h-1.0zM79.0 163.1h1.0v1.0h-1.0zM80.3 163.2h1.0v1.0h-1.0zM81.2 163.1h1.0v1.0h-1.0zM82.0 162.8h1.0v1.0h-1.0zM83.2 163.1h1.0v1.0h-1.0zM83.9 162.9h1.0v1.0h-1.0zM85.2 162.8h1.0v1.0h-1.0zM86.3 162.7h1.0v1.0h-1.0zM86.7 163.1h1.0v1.0h-1.0zM87.9 162.9h1.0v1.0h-1.0zM165.3 162.8h1.0v1.0h-1.0zM51.9 163.8h1.0v1.0h-1.0zM53.3 163.7h1.0v1.0h-1.0zM59.3 163.7h1.0v1.0h-1.0zM62.2 164.2h1.0v1.0h-1.0zM63.2 163.8h1.0v1.0h-1.0zM63.8 164.2h1.0v1.0h-1.0zM65.2 163.7h1.0v1.0h-1.0zM65.7 164.1h1.0v1.0h-1.0zM66.8 163.9h1.0v1.0h-1.0zM68.1 164.2h1.0v1.0h-1.0zM68.7 164.1h1.0v1.0h-1.0zM70.1 164.2h1.0v1.0h-1.0zM70.7 164.1h1.0v1.0h-1.0zM72.0 163.8h1.0v1.0h-1.0zM72.8 163.9h1.0v1.0h-1.0zM74.0 163.9h1.0v1.0h-1.0zM75.2 163.8h1.0v1.0h-1.0zM75.7 164.1h1.0v1.0h-1.0zM77.1 163.7h1.0v1.0h-1.0zM79.2 164.2h1.0v1.0h-1.0zM79.8 163.8h1.0v1.0h-1.0zM80.9 164.1h1.0v1.0h-1.0zM82.0 164.1h1.0v1.0h-1.0zM82.7 163.8h1.0v1.0h-1.0zM84.0 163.8h1.0v1.0h-1.0zM85.9 164.0h1.0v1.0h-1.0zM51.7 165.0h1.0v1.0h-1.0zM56.1 165.3h1.0v1.0h-1.0zM57.1 164.8h1.0v1.0h-1.0zM57.8 164.8h1.0v1.0h-1.0zM62.3 165.2h1.0v1.0h-1.0zM63.0 165.0h1.0v1.0h-1.0zM64.1 164.9h1.0v1.0h-1.0zM64.9 165.0h1.0v1.0h-1.0zM65.9 164.9h1.0v1.0h-1.0zM67.2 164.8h1.0v1.0h-1.0zM68.1 165.0h1.0v1.0h-1.0zM68.8 165.0h1.0v1.0h-1.0zM69.9 165.0h1.0v1.0h-1.0zM70.9 165.1h1.0v1.0h-1.0zM72.8 164.8h1.0v1.0h-1.0zM74.2 165.0h1.0v1.0h-1.0zM75.1 164.8h1.0v1.0h-1.0zM76.0 164.8h1.0v1.0h-1.0zM77.1 165.2h1.0v1.0h-1.0zM78.0 165.2h1.0v1.0h-1.0zM79.1 165.2h1.0v1.0h-1.0zM80.2 165.3h1.0v1.0h-1.0zM81.1 164.9h1.0v1.0h-1.0zM82.0 165.0h1.0v1.0h-1.0zM83.1 165.1h1.0v1.0h-1.0zM83.9 165.2h1.0v1.0h-1.0zM85.2 165.1h1.0v1.0h-1.0zM86.9 165.1h1.0v1.0h-1.0zM87.9 164.8h1.0v1.0h-1.0zM52.3 166.1h1.0v1.0h-1.0zM53.1 165.9h1.0v1.0h-1.0zM54.0 165.8h1.0v1.0h-1.0zM55.2 166.0h1.0v1.0h-1.0zM62.2 166.3h1.0v1.0h-1.0zM63.1 165.8h1.0v1.0h-1.0zM64.3 165.8h1.0v1.0h-1.0zM65.8 165.7h1.0v1.0h-1.0zM67.1 165.8h1.0v1.0h-1.0zM67.9 166.2h1.0v1.0h-1.0zM69.1 166.1h1.0v1.0h-1.0zM71.2 166.2h1.0v1.0h-1.0zM72.3 165.8h1.0v1.0h-1.0zM73.0 166.1h1.0v1.0h-1.0zM74.2 166.1h1.0v1.0h-1.0zM74.9 166.3h1.0v1.0h-1.0zM75.7 166.2h1.0v1.0h-1.0zM77.2 166.0h1.0v1.0h-1.0zM78.2 166.1h1.0v1.0h-1.0zM80.1 166.0h1.0v1.0h-1.0zM80.9 166.3h1.0v1.0h-1.0zM82.8 166.2h1.0v1.0h-1.0zM83.9 165.8h1.0v1.0h-1.0zM85.8 166.0h1.0v1.0h-1.0zM87.9 166.0h1.0v1.0h-1.0zM98.1 166.3h1.0v1.0h-1.0zM103.3 165.9h1.0v1.0h-1.0zM52.1 167.2h1.0v1.0h-1.0zM53.1 167.3h1.0v1.0h-1.0zM54.1 167.2h1.0v1.0h-1.0zM55.8 166.9h1.0v1.0h-1.0zM57.1 166.7h1.0v1.0h-1.0zM57.8 166.8h1.0v1.0h-1.0zM59.3 167.1h1.0v1.0h-1.0zM59.8 166.7h1.0v1.0h-1.0zM62.2 166.7h1.0v1.0h-1.0zM63.2 167.2h1.0v1.0h-1.0zM64.0 167.2h1.0v1.0h-1.0zM64.8 166.9h1.0v1.0h-1.0zM65.9 167.3h1.0v1.0h-1.0zM66.9 167.0h1.0v1.0h-1.0zM68.2 167.0h1.0v1.0h-1.0zM68.9 167.0h1.0v1.0h-1.0zM70.0 167.2h1.0v1.0h-1.0zM70.8 167.2h1.0v1.0h-1.0zM72.1 166.9h1.0v1.0h-1.0zM73.9 167.0h1.0v1.0h-1.0zM76.0 167.3h1.0v1.0h-1.0zM78.0 167.0h1.0v1.0h-1.0zM79.0 167.1h1.0v1.0h-1.0zM80.0 166.8h1.0v1.0h-1.0zM80.9 167.2h1.0v1.0h-1.0zM82.2 167.2h1.0v1.0h-1.0zM83.3 167.0h1.0v1.0h-1.0zM83.7 166.8h1.0v1.0h-1.0zM85.0 166.7h1.0v1.0h-1.0zM85.8 167.3h1.0v1.0h-1.0zM86.7 166.9h1.0v1.0h-1.0zM88.2 167.0h1.0v1.0h-1.0zM89.9 167.0h1.0v1.0h-1.0zM90.9 166.8h1.0v1.0h-1.0zM91.9 166.9h1.0v1.0h-1.0zM93.7 167.1h1.0v1.0h-1.0zM98.2 166.9h1.0v1.0h-1.0zM103.1 167.1h1.0v1.0h-1.0zM105.3 167.2h1.0v1.0h-1.0zM112.2 167.2h1.0v1.0h-1.0zM52.9 168.0h1.0v1.0h-1.0zM55.2 168.3h1.0v1.0h-1.0zM56.0 167.9h1.0v1.0h-1.0zM57.7 168.1h1.0v1.0h-1.0zM60.2 167.8h1.0v1.0h-1.0zM62.3 167.8h1.0v1.0h-1.0zM62.7 168.1h1.0v1.0h-1.0zM64.2 167.9h1.0v1.0h-1.0zM65.0 167.9h1.0v1.0h-1.0zM66.1 168.2h1.0v1.0h-1.0zM67.0 168.0h1.0v1.0h-1.0zM67.9 167.8h1.0v1.0h-1.0zM69.2 167.8h1.0v1.0h-1.0zM70.1 168.1h1.0v1.0h-1.0zM71.3 167.8h1.0v1.0h-1.0zM72.1 167.7h1.0v1.0h-1.0zM73.3 167.8h1.0v1.0h-1.0zM74.2 168.1h1.0v1.0h-1.0zM74.9 168.0h1.0v1.0h-1.0zM76.0 168.0h1.0v1.0h-1.0zM76.8 167.8h1.0v1.0h-1.0zM78.0 167.8h1.0v1.0h-1.0zM79.0 168.0h1.0v1.0h-1.0zM81.9 168.0h1.0v1.0h-1.0zM83.8 167.9h1.0v1.0h-1.0zM84.7 167.9h1.0v1.0h-1.0zM85.7 168.0h1.0v1.0h-1.0zM87.2 168.0h1.0v1.0h-1.0zM89.1 168.3h1.0v1.0h-1.0zM89.7 167.8h1.0v1.0h-1.0zM91.3 168.2h1.0v1.0h-1.0zM92.2 168.3h1.0v1.0h-1.0zM92.9 168.2h1.0v1.0h-1.0zM94.1 168.1h1.0v1.0h-1.0zM94.8 167.7h1.0v1.0h-1.0zM95.7 167.9h1.0v1.0h-1.0zM98.2 167.9h1.0v1.0h-1.0zM99.7 167.9h1.0v1.0h-1.0zM100.9 167.9h1.0v1.0h-1.0zM102.0 167.8h1.0v1.0h-1.0zM102.9 167.8h1.0v1.0h-1.0zM103.9 168.2h1.0v1.0h-1.0zM105.8 168.2h1.0v1.0h-1.0zM107.0 168.2h1.0v1.0h-1.0zM108.2 167.9h1.0v1.0h-1.0zM108.8 168.1h1.0v1.0h-1.0zM111.9 168.0h1.0v1.0h-1.0zM115.0 168.3h1.0v1.0h-1.0zM118.3 167.8h1.0v1.0h-1.0zM123.2 167.9h1.0v1.0h-1.0zM123.8 167.9h1.0v1.0h-1.0zM125.0 168.2h1.0v1.0h-1.0zM125.8 167.9h1.0v1.0h-1.0zM127.1 167.8h1.0v1.0h-1.0zM130.7 167.9h1.0v1.0h-1.0zM131.7 168.1h1.0v1.0h-1.0zM132.9 167.8h1.0v1.0h-1.0zM136.1 168.2h1.0v1.0h-1.0zM138.2 168.1h1.0v1.0h-1.0zM144.1 168.1h1.0v1.0h-1.0zM146.0 167.8h1.0v1.0h-1.0zM153.9 168.1h1.0v1.0h-1.0zM159.2 168.0h1.0v1.0h-1.0zM176.9 168.2h1.0v1.0h-1.0zM51.8 168.9h1.0v1.0h-1.0zM56.9 168.8h1.0v1.0h-1.0zM58.1 169.1h1.0v1.0h-1.0zM59.7 168.9h1.0v1.0h-1.0zM61.1 168.8h1.0v1.0h-1.0zM62.0 169.2h1.0v1.0h-1.0zM63.2 169.0h1.0v1.0h-1.0zM64.0 169.0h1.0v1.0h-1.0zM65.2 168.7h1.0v1.0h-1.0zM65.8 169.0h1.0v1.0h-1.0zM66.9 168.9h1.0v1.0h-1.0zM67.8 168.7h1.0v1.0h-1.0zM68.9 169.1h1.0v1.0h-1.0zM70.2 168.8h1.0v1.0h-1.0zM71.0 169.1h1.0v1.0h-1.0zM72.3 168.7h1.0v1.0h-1.0zM72.8 169.3h1.0v1.0h-1.0zM74.1 169.1h1.0v1.0h-1.0zM74.7 169.3h1.0v1.0h-1.0zM76.2 168.9h1.0v1.0h-1.0zM77.1 169.0h1.0v1.0h-1.0zM78.2 168.9h1.0v1.0h-1.0zM78.7 169.3h1.0v1.0h-1.0zM81.1 169.1h1.0v1.0h-1.0zM82.3 169.1h1.0v1.0h-1.0zM82.8 169.2h1.0v1.0h-1.0zM87.0 169.3h1.0v1.0h-1.0zM88.0 168.8h1.0v1.0h-1.0zM88.8 169.3h1.0v1.0h-1.0zM90.3 168.8h1.0v1.0h-1.0zM92.2 169.3h1.0v1.0h-1.0zM93.1 168.9h1.0v1.0h-1.0zM93.7 168.8h1.0v1.0h-1.0zM99.2 169.0h1.0v1.0h-1.0zM101.1 168.8h1.0v1.0h-1.0zM104.8 168.7h1.0v1.0h-1.0zM106.0 169.0h1.0v1.0h-1.0zM110.0 168.7h1.0v1.0h-1.0zM111.9 169.2h1.0v1.0h-1.0zM114.1 169.2h1.0v1.0h-1.0zM115.8 168.9h1.0v1.0h-1.0zM116.9 168.8h1.0v1.0h-1.0zM119.1 169.1h1.0v1.0h-1.0zM120.1 168.8h1.0v1.0h-1.0zM121.0 168.8h1.0v1.0h-1.0zM122.9 169.0h1.0v1.0h-1.0zM125.1 168.7h1.0v1.0h-1.0zM126.0 168.8h1.0v1.0h-1.0zM127.3 169.3h1.0v1.0h-1.0zM133.9 169.1h1.0v1.0h-1.0zM137.1 169.2h1.0v1.0h-1.0zM146.1 169.0h1.0v1.0h-1.0zM151.1 169.2h1.0v1.0h-1.0zM153.0 168.9h1.0v1.0h-1.0zM154.0 169.1h1.0v1.0h-1.0zM52.3 169.7h1.0v1.0h-1.0zM54.7 169.8h1.0v1.0h-1.0zM56.1 169.9h1.0v1.0h-1.0zM57.3 170.2h1.0v1.0h-1.0zM57.8 169.7h1.0v1.0h-1.0zM59.2 170.3h1.0v1.0h-1.0zM61.0 169.8h1.0v1.0h-1.0zM62.2 169.9h1.0v1.0h-1.0zM63.1 169.8h1.0v1.0h-1.0zM63.9 169.7h1.0v1.0h-1.0zM65.7 170.2h1.0v1.0h-1.0zM67.0 170.2h1.0v1.0h-1.0zM68.3 170.2h1.0v1.0h-1.0zM69.2 169.9h1.0v1.0h-1.0zM69.7 170.1h1.0v1.0h-1.0zM71.0 170.0h1.0v1.0h-1.0zM71.9 169.8h1.0v1.0h-1.0zM72.9 169.7h1.0v1.0h-1.0zM73.8 169.8h1.0v1.0h-1.0zM76.0 169.7h1.0v1.0h-1.0zM77.2 169.8h1.0v1.0h-1.0zM78.1 170.0h1.0v1.0h-1.0zM79.2 170.2h1.0v1.0h-1.0zM80.2 169.8h1.0v1.0h-1.0zM81.2 169.8h1.0v1.0h-1.0zM82.3 169.9h1.0v1.0h-1.0zM84.1 170.2h1.0v1.0h-1.0zM85.9 170.0h1.0v1.0h-1.0zM87.0 170.1h1.0v1.0h-1.0zM88.2 170.0h1.0v1.0h-1.0zM88.7 170.0h1.0v1.0h-1.0zM90.8 169.8h1.0v1.0h-1.0zM92.1 169.9h1.0v1.0h-1.0zM94.1 169.9h1.0v1.0h-1.0zM96.2 169.9h1.0v1.0h-1.0zM96.7 169.7h1.0v1.0h-1.0zM98.0 170.2h1.0v1.0h-1.0zM98.9 169.8h1.0v1.0h-1.0zM101.1 169.9h1.0v1.0h-1.0zM105.0 170.0h1.0v1.0h-1.0zM109.0 169.9h1.0v1.0h-1.0zM110.1 170.1h1.0v1.0h-1.0zM111.9 170.0h1.0v1.0h-1.0zM117.0 170.0h1.0v1.0h-1.0zM121.3 170.1h1.0v1.0h-1.0zM124.8 170.1h1.0v1.0h-1.0zM126.8 170.1h1.0v1.0h-1.0zM133.8 170.0h1.0v1.0h-1.0zM136.9 170.1h1.0v1.0h-1.0zM138.1 169.8h1.0v1.0h-1.0zM140.0 170.1h1.0v1.0h-1.0zM145.3 170.2h1.0v1.0h-1.0zM157.7 170.2h1.0v1.0h-1.0zM174.2 170.0h1.0v1.0h-1.0zM52.9 171.1h1.0v1.0h-1.0zM53.8 171.0h1.0v1.0h-1.0zM54.9 171.2h1.0v1.0h-1.0zM56.2 170.9h1.0v1.0h-1.0zM57.1 170.9h1.0v1.0h-1.0zM58.1 171.2h1.0v1.0h-1.0zM58.9 170.7h1.0v1.0h-1.0zM59.8 171.0h1.0v1.0h-1.0zM61.1 170.7h1.0v1.0h-1.0zM63.0 171.0h1.0v1.0h-1.0zM63.7 170.8h1.0v1.0h-1.0zM65.2 171.0h1.0v1.0h-1.0zM66.2 171.2h1.0v1.0h-1.0zM66.9 171.2h1.0v1.0h-1.0zM68.1 170.8h1.0v1.0h-1.0zM68.8 171.3h1.0v1.0h-1.0zM70.0 171.3h1.0v1.0h-1.0zM70.7 171.0h1.0v1.0h-1.0zM71.9 171.3h1.0v1.0h-1.0zM73.0 171.0h1.0v1.0h-1.0zM73.7 170.8h1.0v1.0h-1.0zM75.0 170.9h1.0v1.0h-1.0zM76.2 171.2h1.0v1.0h-1.0zM76.7 171.1h1.0v1.0h-1.0zM77.9 171.0h1.0v1.0h-1.0zM79.0 171.0h1.0v1.0h-1.0zM80.1 171.1h1.0v1.0h-1.0zM81.2 170.9h1.0v1.0h-1.0zM82.9 171.1h1.0v1.0h-1.0zM84.0 171.2h1.0v1.0h-1.0zM85.3 170.8h1.0v1.0h-1.0zM86.0 171.2h1.0v1.0h-1.0zM87.1 171.3h1.0v1.0h-1.0zM87.8 171.1h1.0v1.0h-1.0zM89.3 170.9h1.0v1.0h-1.0zM90.0 170.8h1.0v1.0h-1.0zM91.7 170.7h1.0v1.0h-1.0zM93.1 170.8h1.0v1.0h-1.0zM93.9 171.1h1.0v1.0h-1.0zM95.2 171.2h1.0v1.0h-1.0zM97.2 171.2h1.0v1.0h-1.0zM99.8 170.9h1.0v1.0h-1.0zM100.9 171.0h1.0v1.0h-1.0zM102.2 170.8h1.0v1.0h-1.0zM106.1 170.8h1.0v1.0h-1.0zM108.9 171.2h1.0v1.0h-1.0zM110.8 171.0h1.0v1.0h-1.0zM114.3 171.0h1.0v1.0h-1.0zM117.8 171.2h1.0v1.0h-1.0zM119.0 171.2h1.0v1.0h-1.0zM120.9 170.9h1.0v1.0h-1.0zM123.1 171.3h1.0v1.0h-1.0zM124.3 171.1h1.0v1.0h-1.0zM127.2 170.8h1.0v1.0h-1.0zM129.2 170.9h1.0v1.0h-1.0zM130.2 170.8h1.0v1.0h-1.0zM130.7 170.8h1.0v1.0h-1.0zM133.7 171.3h1.0v1.0h-1.0zM135.8 170.8h1.0v1.0h-1.0zM143.3 171.0h1.0v1.0h-1.0zM144.0 171.1h1.0v1.0h-1.0zM145.8 170.9h1.0v1.0h-1.0zM150.2 171.1h1.0v1.0h-1.0zM161.9 170.8h1.0v1.0h-1.0zM165.0 170.9h1.0v1.0h-1.0zM180.2 171.2h1.0v1.0h-1.0zM54.3 172.1h1.0v1.0h-1.0zM55.8 172.2h1.0v1.0h-1.0zM56.9 172.1h1.0v1.0h-1.0zM57.8 172.0h1.0v1.0h-1.0zM59.0 172.0h1.0v1.0h-1.0zM60.3 171.8h1.0v1.0h-1.0zM61.0 171.8h1.0v1.0h-1.0zM61.9 172.0h1.0v1.0h-1.0zM62.7 172.3h1.0v1.0h-1.0zM63.8 171.9h1.0v1.0h-1.0zM64.9 171.9h1.0v1.0h-1.0zM66.0 171.9h1.0v1.0h-1.0zM67.2 171.9h1.0v1.0h-1.0zM68.3 172.1h1.0v1.0h-1.0zM68.8 172.3h1.0v1.0h-1.0zM69.8 172.3h1.0v1.0h-1.0zM71.2 172.3h1.0v1.0h-1.0zM71.9 172.2h1.0v1.0h-1.0zM72.8 172.3h1.0v1.0h-1.0zM73.7 171.9h1.0v1.0h-1.0zM74.7 172.2h1.0v1.0h-1.0zM76.0 172.1h1.0v1.0h-1.0zM76.7 172.2h1.0v1.0h-1.0zM77.8 172.2h1.0v1.0h-1.0zM79.1 171.8h1.0v1.0h-1.0zM80.0 172.2h1.0v1.0h-1.0zM81.3 172.2h1.0v1.0h-1.0zM81.7 171.9h1.0v1.0h-1.0zM82.7 172.1h1.0v1.0h-1.0zM84.1 172.3h1.0v1.0h-1.0zM86.1 171.8h1.0v1.0h-1.0zM86.7 171.9h1.0v1.0h-1.0zM89.2 171.7h1.0v1.0h-1.0zM90.3 171.9h1.0v1.0h-1.0zM93.1 171.8h1.0v1.0h-1.0zM94.1 171.8h1.0v1.0h-1.0zM97.9 172.3h1.0v1.0h-1.0zM100.3 172.1h1.0v1.0h-1.0zM100.8 171.8h1.0v1.0h-1.0zM103.1 172.1h1.0v1.0h-1.0zM103.7 171.9h1.0v1.0h-1.0zM105.9 171.8h1.0v1.0h-1.0zM106.9 171.9h1.0v1.0h-1.0zM108.7 172.2h1.0v1.0h-1.0zM111.1 172.1h1.0v1.0h-1.0zM114.2 171.9h1.0v1.0h-1.0zM115.1 172.0h1.0v1.0h-1.0zM115.8 172.1h1.0v1.0h-1.0zM121.3 171.7h1.0v1.0h-1.0zM128.1 172.1h1.0v1.0h-1.0zM129.3 171.9h1.0v1.0h-1.0zM136.1 171.7h1.0v1.0h-1.0zM136.8 172.1h1.0v1.0h-1.0zM155.1 172.0h1.0v1.0h-1.0zM161.7 171.8h1.0v1.0h-1.0zM56.2 173.0h1.0v1.0h-1.0zM57.1 172.8h1.0v1.0h-1.0zM57.9 173.0h1.0v1.0h-1.0zM59.2 173.1h1.0v1.0h-1.0zM59.7 173.1h1.0v1.0h-1.0zM61.1 172.7h1.0v1.0h-1.0zM61.8 173.2h1.0v1.0h-1.0zM63.0 172.9h1.0v1.0h-1.0zM63.9 173.1h1.0v1.0h-1.0zM64.9 172.9h1.0v1.0h-1.0zM66.2 173.0h1.0v1.0h-1.0zM67.0 173.1h1.0v1.0h-1.0zM67.9 173.2h1.0v1.0h-1.0zM68.7 172.8h1.0v1.0h-1.0zM70.1 173.1h1.0v1.0h-1.0zM71.3 173.2h1.0v1.0h-1.0zM72.2 173.1h1.0v1.0h-1.0zM73.3 172.8h1.0v1.0h-1.0zM74.0 172.9h1.0v1.0h-1.0zM74.8 173.0h1.0v1.0h-1.0zM76.0 173.0h1.0v1.0h-1.0zM77.3 173.0h1.0v1.0h-1.0zM78.1 173.3h1.0v1.0h-1.0zM79.2 173.0h1.0v1.0h-1.0zM79.8 173.2h1.0v1.0h-1.0zM80.7 172.9h1.0v1.0h-1.0zM82.0 173.2h1.0v1.0h-1.0zM83.1 173.0h1.0v1.0h-1.0zM86.0 173.0h1.0v1.0h-1.0zM87.0 173.1h1.0v1.0h-1.0zM87.9 172.8h1.0v1.0h-1.0zM89.0 173.0h1.0v1.0h-1.0zM90.2 173.2h1.0v1.0h-1.0zM97.3 172.7h1.0v1.0h-1.0zM97.9 172.8h1.0v1.0h-1.0zM99.1 172.8h1.0v1.0h-1.0zM100.7 172.8h1.0v1.0h-1.0zM103.1 173.0h1.0v1.0h-1.0zM105.9 173.0h1.0v1.0h-1.0zM108.2 173.0h1.0v1.0h-1.0zM109.0 173.1h1.0v1.0h-1.0zM111.2 173.2h1.0v1.0h-1.0zM112.8 173.1h1.0v1.0h-1.0zM115.7 173.0h1.0v1.0h-1.0zM116.8 172.7h1.0v1.0h-1.0zM117.9 173.3h1.0v1.0h-1.0zM121.9 173.0h1.0v1.0h-1.0zM124.2 173.0h1.0v1.0h-1.0zM125.2 172.8h1.0v1.0h-1.0zM126.9 172.9h1.0v1.0h-1.0zM131.2 172.9h1.0v1.0h-1.0zM133.9 172.7h1.0v1.0h-1.0zM139.0 172.8h1.0v1.0h-1.0zM160.1 173.1h1.0v1.0h-1.0zM188.0 172.9h1.0v1.0h-1.0zM52.2 173.9h1.0v1.0h-1.0zM53.2 174.1h1.0v1.0h-1.0zM54.0 174.0h1.0v1.0h-1.0zM56.1 174.0h1.0v1.0h-1.0zM56.9 174.2h1.0v1.0h-1.0zM58.2 174.0h1.0v1.0h-1.0zM59.0 174.2h1.0v1.0h-1.0zM59.8 174.2h1.0v1.0h-1.0zM61.0 174.1h1.0v1.0h-1.0zM62.1 174.2h1.0v1.0h-1.0zM63.2 174.2h1.0v1.0h-1.0zM64.1 173.8h1.0v1.0h-1.0zM64.8 174.0h1.0v1.0h-1.0zM66.0 174.2h1.0v1.0h-1.0zM66.9 174.3h1.0v1.0h-1.0zM67.8 174.3h1.0v1.0h-1.0zM69.1 174.2h1.0v1.0h-1.0zM70.2 174.1h1.0v1.0h-1.0zM71.0 174.1h1.0v1.0h-1.0zM71.8 174.1h1.0v1.0h-1.0zM73.0 174.3h1.0v1.0h-1.0zM74.3 173.7h1.0v1.0h-1.0zM75.3 174.3h1.0v1.0h-1.0zM75.9 174.0h1.0v1.0h-1.0zM77.0 173.7h1.0v1.0h-1.0zM78.0 174.0h1.0v1.0h-1.0zM79.2 174.3h1.0v1.0h-1.0zM79.8 173.8h1.0v1.0h-1.0zM81.1 173.8h1.0v1.0h-1.0zM81.8 173.7h1.0v1.0h-1.0zM83.1 174.1h1.0v1.0h-1.0zM84.1 173.9h1.0v1.0h-1.0zM85.2 173.7h1.0v1.0h-1.0zM85.8 174.1h1.0v1.0h-1.0zM86.7 174.1h1.0v1.0h-1.0zM88.1 173.9h1.0v1.0h-1.0zM89.3 174.0h1.0v1.0h-1.0zM90.2 174.1h1.0v1.0h-1.0zM91.1 173.8h1.0v1.0h-1.0zM96.0 173.8h1.0v1.0h-1.0zM97.9 173.9h1.0v1.0h-1.0zM99.8 173.7h1.0v1.0h-1.0zM101.3 173.8h1.0v1.0h-1.0zM104.3 174.2h1.0v1.0h-1.0zM105.3 173.9h1.0v1.0h-1.0zM107.1 173.9h1.0v1.0h-1.0zM110.2 174.0h1.0v1.0h-1.0zM111.2 173.9h1.0v1.0h-1.0zM112.1 174.1h1.0v1.0h-1.0zM113.9 174.1h1.0v1.0h-1.0zM117.2 173.8h1.0v1.0h-1.0zM118.2 173.9h1.0v1.0h-1.0zM121.7 173.7h1.0v1.0h-1.0zM123.8 174.2h1.0v1.0h-1.0zM128.3 173.7h1.0v1.0h-1.0zM129.8 173.9h1.0v1.0h-1.0zM134.9 174.3h1.0v1.0h-1.0zM139.8 173.9h1.0v1.0h-1.0zM143.0 174.0h1.0v1.0h-1.0zM145.8 173.8h1.0v1.0h-1.0zM147.2 174.2h1.0v1.0h-1.0zM147.7 173.8h1.0v1.0h-1.0zM149.3 174.0h1.0v1.0h-1.0zM157.3 174.1h1.0v1.0h-1.0zM162.9 173.9h1.0v1.0h-1.0zM51.8 174.9h1.0v1.0h-1.0zM52.8 174.9h1.0v1.0h-1.0zM56.2 175.3h1.0v1.0h-1.0zM56.9 175.1h1.0v1.0h-1.0zM57.8 174.7h1.0v1.0h-1.0zM58.8 174.8h1.0v1.0h-1.0zM59.9 175.1h1.0v1.0h-1.0zM61.2 175.1h1.0v1.0h-1.0zM61.7 174.9h1.0v1.0h-1.0zM63.2 175.0h1.0v1.0h-1.0zM64.2 174.8h1.0v1.0h-1.0zM64.7 175.2h1.0v1.0h-1.0zM65.7 175.0h1.0v1.0h-1.0zM67.2 174.9h1.0v1.0h-1.0zM68.2 175.0h1.0v1.0h-1.0zM69.1 175.2h1.0v1.0h-1.0zM70.0 174.8h1.0v1.0h-1.0zM71.0 175.3h1.0v1.0h-1.0zM71.8 175.0h1.0v1.0h-1.0zM73.1 175.2h1.0v1.0h-1.0zM73.9 175.0h1.0v1.0h-1.0zM75.0 175.2h1.0v1.0h-1.0zM75.9 174.9h1.0v1.0h-1.0zM77.2 175.0h1.0v1.0h-1.0zM78.2 174.9h1.0v1.0h-1.0zM78.7 175.1h1.0v1.0h-1.0zM80.3 174.8h1.0v1.0h-1.0zM80.8 174.8h1.0v1.0h-1.0zM81.8 175.2h1.0v1.0h-1.0zM82.9 175.1h1.0v1.0h-1.0zM84.9 174.9h1.0v1.0h-1.0zM85.8 174.9h1.0v1.0h-1.0zM87.0 174.9h1.0v1.0h-1.0zM88.0 175.2h1.0v1.0h-1.0zM89.2 174.8h1.0v1.0h-1.0zM89.9 175.0h1.0v1.0h-1.0zM91.0 175.1h1.0v1.0h-1.0zM92.0 175.1h1.0v1.0h-1.0zM93.1 174.9h1.0v1.0h-1.0zM97.1 174.9h1.0v1.0h-1.0zM98.7 174.9h1.0v1.0h-1.0zM101.9 174.8h1.0v1.0h-1.0zM107.1 175.2h1.0v1.0h-1.0zM108.2 175.0h1.0v1.0h-1.0zM109.8 174.9h1.0v1.0h-1.0zM110.7 174.9h1.0v1.0h-1.0zM112.3 174.8h1.0v1.0h-1.0zM113.0 174.9h1.0v1.0h-1.0zM114.8 174.7h1.0v1.0h-1.0zM119.1 175.2h1.0v1.0h-1.0zM120.2 175.2h1.0v1.0h-1.0zM122.3 174.8h1.0v1.0h-1.0zM122.7 174.9h1.0v1.0h-1.0zM126.9 174.8h1.0v1.0h-1.0zM129.3 175.2h1.0v1.0h-1.0zM129.9 174.7h1.0v1.0h-1.0zM132.8 175.0h1.0v1.0h-1.0zM134.3 175.2h1.0v1.0h-1.0zM144.7 174.7h1.0v1.0h-1.0zM145.7 175.3h1.0v1.0h-1.0zM152.1 175.1h1.0v1.0h-1.0zM52.1 175.7h1.0v1.0h-1.0zM53.1 175.9h1.0v1.0h-1.0zM53.9 175.9h1.0v1.0h-1.0zM54.9 176.2h1.0v1.0h-1.0zM56.1 176.1h1.0v1.0h-1.0zM56.9 176.2h1.0v1.0h-1.0zM57.9 176.1h1.0v1.0h-1.0zM58.9 176.2h1.0v1.0h-1.0zM59.8 175.9h1.0v1.0h-1.0zM61.1 175.9h1.0v1.0h-1.0zM62.0 176.1h1.0v1.0h-1.0zM63.1 176.0h1.0v1.0h-1.0zM63.9 175.8h1.0v1.0h-1.0zM64.7 176.0h1.0v1.0h-1.0zM65.9 176.1h1.0v1.0h-1.0zM66.9 175.9h1.0v1.0h-1.0zM67.9 176.2h1.0v1.0h-1.0zM68.9 175.9h1.0v1.0h-1.0zM70.0 176.0h1.0v1.0h-1.0zM71.0 175.9h1.0v1.0h-1.0zM72.0 176.2h1.0v1.0h-1.0zM72.8 176.1h1.0v1.0h-1.0zM74.3 175.8h1.0v1.0h-1.0zM75.0 175.8h1.0v1.0h-1.0zM76.1 176.1h1.0v1.0h-1.0zM77.2 175.8h1.0v1.0h-1.0zM78.1 176.2h1.0v1.0h-1.0zM78.7 176.1h1.0v1.0h-1.0zM80.1 175.8h1.0v1.0h-1.0zM81.2 176.1h1.0v1.0h-1.0zM81.7 176.1h1.0v1.0h-1.0zM84.3 175.7h1.0v1.0h-1.0zM85.0 175.9h1.0v1.0h-1.0zM86.2 176.0h1.0v1.0h-1.0zM86.9 176.2h1.0v1.0h-1.0zM89.8 176.0h1.0v1.0h-1.0zM90.9 176.0h1.0v1.0h-1.0zM91.9 176.0h1.0v1.0h-1.0zM94.1 175.8h1.0v1.0h-1.0zM97.1 175.8h1.0v1.0h-1.0zM99.8 175.7h1.0v1.0h-1.0zM104.1 176.1h1.0v1.0h-1.0zM108.0 175.9h1.0v1.0h-1.0zM113.8 175.7h1.0v1.0h-1.0zM114.8 175.8h1.0v1.0h-1.0zM117.0 175.8h1.0v1.0h-1.0zM118.9 175.9h1.0v1.0h-1.0zM121.8 175.8h1.0v1.0h-1.0zM123.3 176.2h1.0v1.0h-1.0zM124.1 176.2h1.0v1.0h-1.0zM124.8 176.0h1.0v1.0h-1.0zM129.2 176.0h1.0v1.0h-1.0zM129.8 176.0h1.0v1.0h-1.0zM133.3 175.9h1.0v1.0h-1.0zM134.9 175.8h1.0v1.0h-1.0zM136.8 175.7h1.0v1.0h-1.0zM140.7 176.1h1.0v1.0h-1.0zM144.8 176.0h1.0v1.0h-1.0zM160.2 175.7h1.0v1.0h-1.0zM52.0 177.1h1.0v1.0h-1.0zM52.9 176.9h1.0v1.0h-1.0zM53.9 177.2h1.0v1.0h-1.0zM55.9 177.1h1.0v1.0h-1.0zM56.9 177.1h1.0v1.0h-1.0zM57.9 177.0h1.0v1.0h-1.0zM59.3 177.2h1.0v1.0h-1.0zM60.2 176.8h1.0v1.0h-1.0zM60.9 177.1h1.0v1.0h-1.0zM62.1 177.1h1.0v1.0h-1.0zM62.8 177.1h1.0v1.0h-1.0zM63.9 177.0h1.0v1.0h-1.0zM66.1 177.0h1.0v1.0h-1.0zM67.0 176.9h1.0v1.0h-1.0zM67.9 177.1h1.0v1.0h-1.0zM68.9 176.8h1.0v1.0h-1.0zM69.8 177.0h1.0v1.0h-1.0zM70.7 177.3h1.0v1.0h-1.0zM71.9 177.3h1.0v1.0h-1.0zM73.0 176.9h1.0v1.0h-1.0zM73.7 177.1h1.0v1.0h-1.0zM75.0 176.7h1.0v1.0h-1.0zM76.2 176.8h1.0v1.0h-1.0zM77.1 177.3h1.0v1.0h-1.0zM77.7 176.8h1.0v1.0h-1.0zM78.9 177.0h1.0v1.0h-1.0zM80.0 176.9h1.0v1.0h-1.0zM81.0 177.3h1.0v1.0h-1.0zM81.8 177.3h1.0v1.0h-1.0zM82.8 177.0h1.0v1.0h-1.0zM84.3 177.2h1.0v1.0h-1.0zM84.9 177.1h1.0v1.0h-1.0zM85.7 176.7h1.0v1.0h-1.0zM86.8 176.8h1.0v1.0h-1.0zM88.0 176.8h1.0v1.0h-1.0zM89.3 177.0h1.0v1.0h-1.0zM91.3 177.2h1.0v1.0h-1.0zM92.2 176.8h1.0v1.0h-1.0zM92.7 177.2h1.0v1.0h-1.0zM94.2 176.9h1.0v1.0h-1.0zM96.2 177.1h1.0v1.0h-1.0zM98.0 176.8h1.0v1.0h-1.0zM99.1 176.8h1.0v1.0h-1.0zM100.2 177.2h1.0v1.0h-1.0zM101.0 177.1h1.0v1.0h-1.0zM107.1 177.1h1.0v1.0h-1.0zM113.0 177.2h1.0v1.0h-1.0zM115.2 177.2h1.0v1.0h-1.0zM115.8 177.2h1.0v1.0h-1.0zM118.2 176.9h1.0v1.0h-1.0zM123.0 177.2h1.0v1.0h-1.0zM129.8 177.1h1.0v1.0h-1.0zM131.9 177.2h1.0v1.0h-1.0zM132.9 177.2h1.0v1.0h-1.0zM139.2 177.0h1.0v1.0h-1.0zM140.3 177.2h1.0v1.0h-1.0zM144.9 176.7h1.0v1.0h-1.0zM151.1 176.9h1.0v1.0h-1.0zM52.2 178.1h1.0v1.0h-1.0zM53.0 177.8h1.0v1.0h-1.0zM53.9 178.0h1.0v1.0h-1.0zM56.2 178.0h1.0v1.0h-1.0zM57.2 178.2h1.0v1.0h-1.0zM57.7 178.2h1.0v1.0h-1.0zM58.7 178.2h1.0v1.0h-1.0zM60.2 177.9h1.0v1.0h-1.0zM61.2 177.9h1.0v1.0h-1.0zM62.0 177.8h1.0v1.0h-1.0zM62.8 178.2h1.0v1.0h-1.0zM63.9 178.3h1.0v1.0h-1.0zM65.2 178.0h1.0v1.0h-1.0zM66.0 177.8h1.0v1.0h-1.0zM67.0 177.8h1.0v1.0h-1.0zM67.9 178.1h1.0v1.0h-1.0zM69.1 177.8h1.0v1.0h-1.0zM70.1 177.7h1.0v1.0h-1.0zM71.3 178.2h1.0v1.0h-1.0zM71.9 178.0h1.0v1.0h-1.0zM72.8 177.8h1.0v1.0h-1.0zM74.0 177.7h1.0v1.0h-1.0zM74.7 178.0h1.0v1.0h-1.0zM75.9 177.8h1.0v1.0h-1.0zM76.9 178.2h1.0v1.0h-1.0zM77.7 178.1h1.0v1.0h-1.0zM79.0 178.3h1.0v1.0h-1.0zM79.9 177.9h1.0v1.0h-1.0zM81.1 178.2h1.0v1.0h-1.0zM83.2 177.9h1.0v1.0h-1.0zM83.7 177.9h1.0v1.0h-1.0zM85.0 178.0h1.0v1.0h-1.0zM86.9 178.0h1.0v1.0h-1.0zM87.9 177.9h1.0v1.0h-1.0zM89.2 178.1h1.0v1.0h-1.0zM89.8 178.1h1.0v1.0h-1.0zM91.0 178.2h1.0v1.0h-1.0zM91.8 178.3h1.0v1.0h-1.0zM93.1 178.0h1.0v1.0h-1.0zM93.8 178.3h1.0v1.0h-1.0zM98.1 177.8h1.0v1.0h-1.0zM98.8 178.2h1.0v1.0h-1.0zM100.0 178.3h1.0v1.0h-1.0zM101.1 178.1h1.0v1.0h-1.0zM102.1 178.0h1.0v1.0h-1.0zM108.8 178.2h1.0v1.0h-1.0zM111.2 177.7h1.0v1.0h-1.0zM113.3 178.3h1.0v1.0h-1.0zM114.2 177.8h1.0v1.0h-1.0zM115.2 178.3h1.0v1.0h-1.0zM116.3 178.2h1.0v1.0h-1.0zM118.1 177.8h1.0v1.0h-1.0zM119.1 177.8h1.0v1.0h-1.0zM119.7 178.0h1.0v1.0h-1.0zM120.9 177.8h1.0v1.0h-1.0zM122.8 177.9h1.0v1.0h-1.0zM125.8 178.0h1.0v1.0h-1.0zM127.1 178.1h1.0v1.0h-1.0zM130.1 177.9h1.0v1.0h-1.0zM153.2 178.0h1.0v1.0h-1.0zM56.1 178.9h1.0v1.0h-1.0zM57.2 178.8h1.0v1.0h-1.0zM58.0 179.0h1.0v1.0h-1.0zM59.1 179.0h1.0v1.0h-1.0zM59.8 179.0h1.0v1.0h-1.0zM60.9 178.8h1.0v1.0h-1.0zM62.1 178.8h1.0v1.0h-1.0zM63.1 179.2h1.0v1.0h-1.0zM64.3 179.0h1.0v1.0h-1.0zM65.2 179.0h1.0v1.0h-1.0zM66.3 178.8h1.0v1.0h-1.0zM67.3 179.0h1.0v1.0h-1.0zM68.0 179.3h1.0v1.0h-1.0zM68.9 179.1h1.0v1.0h-1.0zM70.2 178.7h1.0v1.0h-1.0zM70.9 179.1h1.0v1.0h-1.0zM72.0 179.2h1.0v1.0h-1.0zM73.1 178.8h1.0v1.0h-1.0zM74.3 179.2h1.0v1.0h-1.0zM74.9 179.2h1.0v1.0h-1.0zM75.8 178.9h1.0v1.0h-1.0zM77.0 178.7h1.0v1.0h-1.0zM78.3 179.0h1.0v1.0h-1.0zM78.8 178.7h1.0v1.0h-1.0zM79.7 179.0h1.0v1.0h-1.0zM81.2 178.9h1.0v1.0h-1.0zM82.1 179.0h1.0v1.0h-1.0zM82.7 179.2h1.0v1.0h-1.0zM84.0 178.8h1.0v1.0h-1.0zM84.9 178.7h1.0v1.0h-1.0zM85.9 178.9h1.0v1.0h-1.0zM88.8 178.8h1.0v1.0h-1.0zM89.8 179.0h1.0v1.0h-1.0zM91.0 178.9h1.0v1.0h-1.0zM92.0 179.0h1.0v1.0h-1.0zM93.0 179.1h1.0v1.0h-1.0zM93.9 178.9h1.0v1.0h-1.0zM95.2 178.9h1.0v1.0h-1.0zM95.9 179.0h1.0v1.0h-1.0zM99.0 179.3h1.0v1.0h-1.0zM101.7 179.2h1.0v1.0h-1.0zM107.1 179.2h1.0v1.0h-1.0zM110.0 178.9h1.0v1.0h-1.0zM111.1 178.8h1.0v1.0h-1.0zM112.1 179.0h1.0v1.0h-1.0zM114.7 178.8h1.0v1.0h-1.0zM116.9 178.7h1.0v1.0h-1.0zM119.9 179.0h1.0v1.0h-1.0zM121.2 179.2h1.0v1.0h-1.0zM131.8 179.1h1.0v1.0h-1.0zM134.0 178.9h1.0v1.0h-1.0zM148.8 178.8h1.0v1.0h-1.0zM150.2 178.8h1.0v1.0h-1.0zM156.0 179.0h1.0v1.0h-1.0zM176.9 178.9h1.0v1.0h-1.0zM51.8 180.2h1.0v1.0h-1.0zM52.9 180.1h1.0v1.0h-1.0zM55.1 180.2h1.0v1.0h-1.0zM55.9 180.1h1.0v1.0h-1.0zM57.2 180.2h1.0v1.0h-1.0zM58.2 179.8h1.0v1.0h-1.0zM59.0 179.9h1.0v1.0h-1.0zM59.9 180.1h1.0v1.0h-1.0zM61.2 179.9h1.0v1.0h-1.0zM62.2 179.7h1.0v1.0h-1.0zM63.1 180.1h1.0v1.0h-1.0zM63.7 180.1h1.0v1.0h-1.0zM64.9 179.8h1.0v1.0h-1.0zM65.8 180.2h1.0v1.0h-1.0zM66.7 180.3h1.0v1.0h-1.0zM68.3 180.2h1.0v1.0h-1.0zM69.1 179.9h1.0v1.0h-1.0zM69.7 180.1h1.0v1.0h-1.0zM71.2 180.0h1.0v1.0h-1.0zM72.2 179.8h1.0v1.0h-1.0zM73.1 180.1h1.0v1.0h-1.0zM74.2 180.2h1.0v1.0h-1.0zM74.8 180.2h1.0v1.0h-1.0zM76.0 179.8h1.0v1.0h-1.0zM77.2 180.0h1.0v1.0h-1.0zM77.8 179.8h1.0v1.0h-1.0zM79.1 180.2h1.0v1.0h-1.0zM80.0 180.3h1.0v1.0h-1.0zM81.0 180.0h1.0v1.0h-1.0zM82.1 179.9h1.0v1.0h-1.0zM83.1 180.1h1.0v1.0h-1.0zM84.0 179.9h1.0v1.0h-1.0zM85.2 180.3h1.0v1.0h-1.0zM86.3 179.8h1.0v1.0h-1.0zM86.8 179.8h1.0v1.0h-1.0zM88.1 180.2h1.0v1.0h-1.0zM89.0 179.8h1.0v1.0h-1.0zM90.3 180.1h1.0v1.0h-1.0zM91.0 180.1h1.0v1.0h-1.0zM93.1 180.3h1.0v1.0h-1.0zM93.9 180.0h1.0v1.0h-1.0zM97.8 180.1h1.0v1.0h-1.0zM99.9 180.0h1.0v1.0h-1.0zM102.9 180.0h1.0v1.0h-1.0zM109.0 179.8h1.0v1.0h-1.0zM110.0 180.0h1.0v1.0h-1.0zM110.9 179.9h1.0v1.0h-1.0zM111.9 179.8h1.0v1.0h-1.0zM112.9 179.8h1.0v1.0h-1.0zM116.1 180.3h1.0v1.0h-1.0zM118.1 180.3h1.0v1.0h-1.0zM119.0 180.2h1.0v1.0h-1.0zM121.0 179.9h1.0v1.0h-1.0zM127.1 180.1h1.0v1.0h-1.0zM130.2 180.1h1.0v1.0h-1.0zM131.3 180.0h1.0v1.0h-1.0zM133.1 180.2h1.0v1.0h-1.0zM134.1 180.0h1.0v1.0h-1.0zM136.9 180.0h1.0v1.0h-1.0zM162.0 180.0h1.0v1.0h-1.0zM52.1 180.8h1.0v1.0h-1.0zM54.0 180.8h1.0v1.0h-1.0zM54.8 180.9h1.0v1.0h-1.0zM56.2 180.9h1.0v1.0h-1.0zM56.9 180.9h1.0v1.0h-1.0zM57.8 181.2h1.0v1.0h-1.0zM58.9 181.0h1.0v1.0h-1.0zM60.1 180.9h1.0v1.0h-1.0zM60.9 181.0h1.0v1.0h-1.0zM61.8 180.7h1.0v1.0h-1.0zM63.2 181.2h1.0v1.0h-1.0zM63.8 180.8h1.0v1.0h-1.0zM65.0 180.8h1.0v1.0h-1.0zM66.3 181.0h1.0v1.0h-1.0zM66.8 181.1h1.0v1.0h-1.0zM68.3 181.1h1.0v1.0h-1.0zM69.0 180.8h1.0v1.0h-1.0zM70.2 181.2h1.0v1.0h-1.0zM70.8 180.9h1.0v1.0h-1.0zM71.8 180.8h1.0v1.0h-1.0zM73.0 181.1h1.0v1.0h-1.0zM73.8 181.0h1.0v1.0h-1.0zM74.8 181.0h1.0v1.0h-1.0zM76.1 180.7h1.0v1.0h-1.0zM76.9 181.2h1.0v1.0h-1.0zM77.9 181.0h1.0v1.0h-1.0zM79.3 181.1h1.0v1.0h-1.0zM80.2 181.1h1.0v1.0h-1.0zM81.1 180.9h1.0v1.0h-1.0zM82.0 181.0h1.0v1.0h-1.0zM83.1 181.0h1.0v1.0h-1.0zM85.3 181.2h1.0v1.0h-1.0zM87.0 181.0h1.0v1.0h-1.0zM87.8 181.1h1.0v1.0h-1.0zM89.7 181.2h1.0v1.0h-1.0zM91.0 180.8h1.0v1.0h-1.0zM93.3 181.1h1.0v1.0h-1.0zM94.9 180.7h1.0v1.0h-1.0zM97.2 181.1h1.0v1.0h-1.0zM98.0 181.1h1.0v1.0h-1.0zM99.2 180.8h1.0v1.0h-1.0zM103.2 180.9h1.0v1.0h-1.0zM106.8 180.9h1.0v1.0h-1.0zM108.2 181.1h1.0v1.0h-1.0zM112.9 181.1h1.0v1.0h-1.0zM114.9 181.1h1.0v1.0h-1.0zM116.0 181.2h1.0v1.0h-1.0zM124.0 180.8h1.0v1.0h-1.0zM125.1 180.9h1.0v1.0h-1.0zM126.9 181.1h1.0v1.0h-1.0zM130.1 181.0h1.0v1.0h-1.0zM132.1 180.7h1.0v1.0h-1.0zM133.9 181.2h1.0v1.0h-1.0zM135.1 180.9h1.0v1.0h-1.0zM135.8 180.8h1.0v1.0h-1.0zM136.8 181.0h1.0v1.0h-1.0zM140.0 181.2h1.0v1.0h-1.0zM141.3 181.0h1.0v1.0h-1.0zM144.8 180.7h1.0v1.0h-1.0zM169.0 180.7h1.0v1.0h-1.0zM53.2 182.1h1.0v1.0h-1.0zM55.1 181.8h1.0v1.0h-1.0zM55.8 182.2h1.0v1.0h-1.0zM57.3 181.8h1.0v1.0h-1.0zM57.8 181.7h1.0v1.0h-1.0zM59.2 181.7h1.0v1.0h-1.0zM60.2 182.1h1.0v1.0h-1.0zM61.2 181.8h1.0v1.0h-1.0zM62.1 182.2h1.0v1.0h-1.0zM63.0 181.8h1.0v1.0h-1.0zM64.1 182.2h1.0v1.0h-1.0zM64.9 181.9h1.0v1.0h-1.0zM65.7 181.7h1.0v1.0h-1.0zM67.3 181.7h1.0v1.0h-1.0zM67.9 182.1h1.0v1.0h-1.0zM69.0 181.7h1.0v1.0h-1.0zM70.1 181.8h1.0v1.0h-1.0zM70.8 181.9h1.0v1.0h-1.0zM72.2 181.9h1.0v1.0h-1.0zM73.2 181.8h1.0v1.0h-1.0zM74.0 182.0h1.0v1.0h-1.0zM74.7 181.8h1.0v1.0h-1.0zM75.8 182.2h1.0v1.0h-1.0zM77.1 181.8h1.0v1.0h-1.0zM78.1 181.9h1.0v1.0h-1.0zM79.0 182.0h1.0v1.0h-1.0zM80.2 182.2h1.0v1.0h-1.0zM80.8 182.1h1.0v1.0h-1.0zM82.0 181.9h1.0v1.0h-1.0zM83.2 181.8h1.0v1.0h-1.0zM84.3 182.2h1.0v1.0h-1.0zM85.2 181.8h1.0v1.0h-1.0zM86.1 181.8h1.0v1.0h-1.0zM87.1 181.8h1.0v1.0h-1.0zM88.1 182.1h1.0v1.0h-1.0zM89.0 182.0h1.0v1.0h-1.0zM90.0 182.0h1.0v1.0h-1.0zM92.1 181.9h1.0v1.0h-1.0zM96.0 182.1h1.0v1.0h-1.0zM96.9 181.7h1.0v1.0h-1.0zM99.1 181.7h1.0v1.0h-1.0zM103.2 181.8h1.0v1.0h-1.0zM114.0 182.1h1.0v1.0h-1.0zM115.1 181.8h1.0v1.0h-1.0zM118.2 182.1h1.0v1.0h-1.0zM119.8 181.9h1.0v1.0h-1.0zM124.3 182.1h1.0v1.0h-1.0zM124.8 182.1h1.0v1.0h-1.0zM129.8 181.8h1.0v1.0h-1.0zM130.7 181.8h1.0v1.0h-1.0zM133.1 182.2h1.0v1.0h-1.0zM138.3 182.1h1.0v1.0h-1.0zM139.1 182.1h1.0v1.0h-1.0zM140.7 181.9h1.0v1.0h-1.0zM184.3 181.9h1.0v1.0h-1.0zM193.9 182.0h1.0v1.0h-1.0zM53.0 182.8h1.0v1.0h-1.0zM55.2 182.9h1.0v1.0h-1.0zM56.2 183.2h1.0v1.0h-1.0zM57.1 182.8h1.0v1.0h-1.0zM57.8 183.2h1.0v1.0h-1.0zM58.9 182.7h1.0v1.0h-1.0zM60.3 183.0h1.0v1.0h-1.0zM61.2 183.3h1.0v1.0h-1.0zM62.1 183.0h1.0v1.0h-1.0zM63.3 182.8h1.0v1.0h-1.0zM64.1 182.9h1.0v1.0h-1.0zM65.2 183.0h1.0v1.0h-1.0zM65.8 183.3h1.0v1.0h-1.0zM67.2 182.8h1.0v1.0h-1.0zM68.0 183.0h1.0v1.0h-1.0zM69.2 182.8h1.0v1.0h-1.0zM70.7 183.1h1.0v1.0h-1.0zM72.0 183.2h1.0v1.0h-1.0zM73.0 182.9h1.0v1.0h-1.0zM73.7 183.3h1.0v1.0h-1.0zM75.1 183.0h1.0v1.0h-1.0zM75.9 182.9h1.0v1.0h-1.0zM77.1 182.8h1.0v1.0h-1.0zM77.7 182.9h1.0v1.0h-1.0zM78.9 182.8h1.0v1.0h-1.0zM79.8 182.9h1.0v1.0h-1.0zM80.9 183.0h1.0v1.0h-1.0zM82.0 183.1h1.0v1.0h-1.0zM83.1 183.1h1.0v1.0h-1.0zM84.1 183.2h1.0v1.0h-1.0zM87.1 182.9h1.0v1.0h-1.0zM87.8 183.3h1.0v1.0h-1.0zM88.9 183.1h1.0v1.0h-1.0zM89.8 182.8h1.0v1.0h-1.0zM91.2 183.0h1.0v1.0h-1.0zM92.1 182.8h1.0v1.0h-1.0zM94.9 182.9h1.0v1.0h-1.0zM97.8 183.0h1.0v1.0h-1.0zM100.8 182.8h1.0v1.0h-1.0zM103.8 183.0h1.0v1.0h-1.0zM105.3 183.1h1.0v1.0h-1.0zM106.8 183.2h1.0v1.0h-1.0zM109.7 182.8h1.0v1.0h-1.0zM110.9 182.8h1.0v1.0h-1.0zM115.3 182.9h1.0v1.0h-1.0zM115.9 182.7h1.0v1.0h-1.0zM116.9 183.0h1.0v1.0h-1.0zM124.9 182.7h1.0v1.0h-1.0zM128.1 182.7h1.0v1.0h-1.0zM136.7 182.7h1.0v1.0h-1.0zM145.8 183.0h1.0v1.0h-1.0zM52.0 183.8h1.0v1.0h-1.0zM53.0 184.2h1.0v1.0h-1.0zM54.2 184.1h1.0v1.0h-1.0zM55.1 184.1h1.0v1.0h-1.0zM56.1 183.9h1.0v1.0h-1.0zM57.1 184.2h1.0v1.0h-1.0zM58.3 184.1h1.0v1.0h-1.0zM58.8 183.9h1.0v1.0h-1.0zM59.9 183.9h1.0v1.0h-1.0zM61.0 183.8h1.0v1.0h-1.0zM61.9 184.1h1.0v1.0h-1.0zM62.8 183.8h1.0v1.0h-1.0zM64.0 184.1h1.0v1.0h-1.0zM64.7 184.2h1.0v1.0h-1.0zM66.3 184.1h1.0v1.0h-1.0zM67.1 184.0h1.0v1.0h-1.0zM68.2 184.0h1.0v1.0h-1.0zM69.3 184.0h1.0v1.0h-1.0zM70.2 183.9h1.0v1.0h-1.0zM70.7 184.0h1.0v1.0h-1.0zM72.3 183.8h1.0v1.0h-1.0zM73.1 184.1h1.0v1.0h-1.0zM74.3 184.0h1.0v1.0h-1.0zM75.0 184.1h1.0v1.0h-1.0zM76.0 183.9h1.0v1.0h-1.0zM76.9 183.9h1.0v1.0h-1.0zM78.0 184.2h1.0v1.0h-1.0zM78.9 183.9h1.0v1.0h-1.0zM80.0 183.8h1.0v1.0h-1.0zM81.0 184.2h1.0v1.0h-1.0zM82.1 184.3h1.0v1.0h-1.0zM83.2 183.7h1.0v1.0h-1.0zM83.9 183.9h1.0v1.0h-1.0zM85.1 184.1h1.0v1.0h-1.0zM86.2 184.0h1.0v1.0h-1.0zM86.8 183.8h1.0v1.0h-1.0zM88.0 183.9h1.0v1.0h-1.0zM89.1 183.7h1.0v1.0h-1.0zM90.1 184.1h1.0v1.0h-1.0zM94.0 183.9h1.0v1.0h-1.0zM96.1 184.1h1.0v1.0h-1.0zM96.9 184.0h1.0v1.0h-1.0zM98.1 184.1h1.0v1.0h-1.0zM100.8 184.2h1.0v1.0h-1.0zM105.9 184.0h1.0v1.0h-1.0zM108.3 184.1h1.0v1.0h-1.0zM113.1 183.8h1.0v1.0h-1.0zM114.3 184.2h1.0v1.0h-1.0zM117.2 183.9h1.0v1.0h-1.0zM118.9 184.3h1.0v1.0h-1.0zM124.1 183.8h1.0v1.0h-1.0zM127.2 183.9h1.0v1.0h-1.0zM131.9 184.0h1.0v1.0h-1.0zM134.1 184.3h1.0v1.0h-1.0zM141.3 184.3h1.0v1.0h-1.0zM155.8 183.9h1.0v1.0h-1.0zM52.2 184.8h1.0v1.0h-1.0zM54.3 184.7h1.0v1.0h-1.0zM55.9 185.1h1.0v1.0h-1.0zM57.2 185.1h1.0v1.0h-1.0zM58.1 185.1h1.0v1.0h-1.0zM59.0 185.0h1.0v1.0h-1.0zM59.9 184.7h1.0v1.0h-1.0zM61.3 185.1h1.0v1.0h-1.0zM62.2 185.1h1.0v1.0h-1.0zM62.8 184.7h1.0v1.0h-1.0zM63.9 185.2h1.0v1.0h-1.0zM65.1 185.1h1.0v1.0h-1.0zM66.1 185.1h1.0v1.0h-1.0zM67.2 185.1h1.0v1.0h-1.0zM67.7 185.0h1.0v1.0h-1.0zM69.2 185.2h1.0v1.0h-1.0zM70.2 184.8h1.0v1.0h-1.0zM70.9 185.2h1.0v1.0h-1.0zM71.8 184.9h1.0v1.0h-1.0zM72.7 184.7h1.0v1.0h-1.0zM73.7 184.9h1.0v1.0h-1.0zM75.0 185.2h1.0v1.0h-1.0zM75.8 184.7h1.0v1.0h-1.0zM77.2 184.7h1.0v1.0h-1.0zM79.1 185.2h1.0v1.0h-1.0zM79.7 185.1h1.0v1.0h-1.0zM80.8 185.1h1.0v1.0h-1.0zM81.9 184.9h1.0v1.0h-1.0zM83.3 184.9h1.0v1.0h-1.0zM83.9 184.7h1.0v1.0h-1.0zM84.9 184.8h1.0v1.0h-1.0zM86.2 184.7h1.0v1.0h-1.0zM88.3 185.1h1.0v1.0h-1.0zM89.3 185.1h1.0v1.0h-1.0zM89.7 184.7h1.0v1.0h-1.0zM91.1 184.8h1.0v1.0h-1.0zM93.8 184.9h1.0v1.0h-1.0zM95.2 185.0h1.0v1.0h-1.0zM97.8 184.8h1.0v1.0h-1.0zM103.3 184.9h1.0v1.0h-1.0zM104.2 184.8h1.0v1.0h-1.0zM105.0 185.0h1.0v1.0h-1.0zM105.8 184.9h1.0v1.0h-1.0zM107.2 184.8h1.0v1.0h-1.0zM109.7 184.8h1.0v1.0h-1.0zM111.3 184.9h1.0v1.0h-1.0zM111.9 185.1h1.0v1.0h-1.0zM113.0 185.1h1.0v1.0h-1.0zM113.7 184.8h1.0v1.0h-1.0zM117.2 185.3h1.0v1.0h-1.0zM117.9 185.3h1.0v1.0h-1.0zM120.1 185.0h1.0v1.0h-1.0zM125.3 184.9h1.0v1.0h-1.0zM126.1 184.8h1.0v1.0h-1.0zM127.3 184.8h1.0v1.0h-1.0zM129.0 185.2h1.0v1.0h-1.0zM130.1 185.2h1.0v1.0h-1.0zM132.3 184.9h1.0v1.0h-1.0zM132.7 184.8h1.0v1.0h-1.0zM137.1 184.8h1.0v1.0h-1.0zM137.8 185.0h1.0v1.0h-1.0zM140.0 184.9h1.0v1.0h-1.0zM143.9 184.7h1.0v1.0h-1.0zM145.2 185.0h1.0v1.0h-1.0zM147.2 184.8h1.0v1.0h-1.0zM182.1 185.1h1.0v1.0h-1.0zM52.2 186.2h1.0v1.0h-1.0zM53.0 185.8h1.0v1.0h-1.0zM53.9 185.8h1.0v1.0h-1.0zM55.1 186.2h1.0v1.0h-1.0zM57.9 185.7h1.0v1.0h-1.0zM59.1 185.7h1.0v1.0h-1.0zM60.0 186.1h1.0v1.0h-1.0zM61.2 186.2h1.0v1.0h-1.0zM62.2 186.1h1.0v1.0h-1.0zM64.1 186.1h1.0v1.0h-1.0zM64.9 185.8h1.0v1.0h-1.0zM65.9 185.8h1.0v1.0h-1.0zM66.9 185.9h1.0v1.0h-1.0zM68.8 185.8h1.0v1.0h-1.0zM70.2 185.7h1.0v1.0h-1.0zM70.8 186.0h1.0v1.0h-1.0zM71.7 186.2h1.0v1.0h-1.0zM73.1 185.9h1.0v1.0h-1.0zM74.0 186.3h1.0v1.0h-1.0zM74.8 186.0h1.0v1.0h-1.0zM75.9 186.1h1.0v1.0h-1.0zM77.2 186.2h1.0v1.0h-1.0zM77.8 185.9h1.0v1.0h-1.0zM79.2 186.0h1.0v1.0h-1.0zM80.0 186.1h1.0v1.0h-1.0zM81.3 185.7h1.0v1.0h-1.0zM82.1 186.1h1.0v1.0h-1.0zM82.8 186.0h1.0v1.0h-1.0zM83.7 185.7h1.0v1.0h-1.0zM85.1 186.0h1.0v1.0h-1.0zM86.0 186.1h1.0v1.0h-1.0zM88.1 186.2h1.0v1.0h-1.0zM88.9 186.0h1.0v1.0h-1.0zM89.9 185.8h1.0v1.0h-1.0zM90.9 185.8h1.0v1.0h-1.0zM91.9 186.0h1.0v1.0h-1.0zM95.1 186.3h1.0v1.0h-1.0zM103.8 185.7h1.0v1.0h-1.0zM107.1 186.2h1.0v1.0h-1.0zM109.2 185.7h1.0v1.0h-1.0zM109.8 185.7h1.0v1.0h-1.0zM112.0 186.0h1.0v1.0h-1.0zM112.7 186.3h1.0v1.0h-1.0zM115.9 185.9h1.0v1.0h-1.0zM117.3 186.0h1.0v1.0h-1.0zM118.0 185.9h1.0v1.0h-1.0zM120.0 185.9h1.0v1.0h-1.0zM122.8 186.1h1.0v1.0h-1.0zM129.1 186.0h1.0v1.0h-1.0zM153.1 186.2h1.0v1.0h-1.0zM53.0 187.3h1.0v1.0h-1.0zM55.7 186.8h1.0v1.0h-1.0zM57.0 186.9h1.0v1.0h-1.0zM58.2 187.0h1.0v1.0h-1.0zM58.8 187.0h1.0v1.0h-1.0zM60.3 187.2h1.0v1.0h-1.0zM62.0 187.2h1.0v1.0h-1.0zM62.8 187.0h1.0v1.0h-1.0zM64.1 187.2h1.0v1.0h-1.0zM65.0 187.1h1.0v1.0h-1.0zM65.7 186.7h1.0v1.0h-1.0zM67.0 186.8h1.0v1.0h-1.0zM67.7 187.1h1.0v1.0h-1.0zM68.8 186.9h1.0v1.0h-1.0zM70.1 187.0h1.0v1.0h-1.0zM71.1 186.9h1.0v1.0h-1.0zM72.3 187.3h1.0v1.0h-1.0zM72.8 187.0h1.0v1.0h-1.0zM73.9 187.2h1.0v1.0h-1.0zM74.7 187.1h1.0v1.0h-1.0zM76.2 187.0h1.0v1.0h-1.0zM76.9 187.0h1.0v1.0h-1.0zM78.1 187.0h1.0v1.0h-1.0zM78.8 187.2h1.0v1.0h-1.0zM80.0 186.8h1.0v1.0h-1.0zM80.8 186.8h1.0v1.0h-1.0zM82.2 187.2h1.0v1.0h-1.0zM83.0 186.9h1.0v1.0h-1.0zM84.3 187.2h1.0v1.0h-1.0zM84.9 187.3h1.0v1.0h-1.0zM86.2 186.9h1.0v1.0h-1.0zM87.2 186.8h1.0v1.0h-1.0zM88.1 186.8h1.0v1.0h-1.0zM89.0 187.1h1.0v1.0h-1.0zM89.8 186.8h1.0v1.0h-1.0zM90.8 187.0h1.0v1.0h-1.0zM93.2 186.9h1.0v1.0h-1.0zM96.0 187.2h1.0v1.0h-1.0zM97.8 186.9h1.0v1.0h-1.0zM100.1 186.9h1.0v1.0h-1.0zM101.0 187.0h1.0v1.0h-1.0zM103.1 186.7h1.0v1.0h-1.0zM103.9 187.3h1.0v1.0h-1.0zM110.0 186.9h1.0v1.0h-1.0zM112.1 187.3h1.0v1.0h-1.0zM117.2 187.2h1.0v1.0h-1.0zM117.7 187.1h1.0v1.0h-1.0zM119.1 187.0h1.0v1.0h-1.0zM121.8 186.8h1.0v1.0h-1.0zM124.0 187.2h1.0v1.0h-1.0zM125.3 186.9h1.0v1.0h-1.0zM127.2 187.1h1.0v1.0h-1.0zM128.9 186.7h1.0v1.0h-1.0zM131.8 186.9h1.0v1.0h-1.0zM135.2 186.8h1.0v1.0h-1.0zM138.2 186.8h1.0v1.0h-1.0zM142.1 186.7h1.0v1.0h-1.0zM148.7 186.8h1.0v1.0h-1.0zM51.9 188.1h1.0v1.0h-1.0zM52.7 188.1h1.0v1.0h-1.0zM54.8 187.8h1.0v1.0h-1.0zM56.0 187.7h1.0v1.0h-1.0zM56.9 187.9h1.0v1.0h-1.0zM57.9 188.0h1.0v1.0h-1.0zM58.8 187.9h1.0v1.0h-1.0zM59.8 188.0h1.0v1.0h-1.0zM61.2 187.8h1.0v1.0h-1.0zM62.1 187.8h1.0v1.0h-1.0zM63.0 188.3h1.0v1.0h-1.0zM64.2 188.0h1.0v1.0h-1.0zM65.0 188.1h1.0v1.0h-1.0zM66.2 187.9h1.0v1.0h-1.0zM67.2 187.8h1.0v1.0h-1.0zM67.8 188.3h1.0v1.0h-1.0zM69.1 188.0h1.0v1.0h-1.0zM70.2 187.8h1.0v1.0h-1.0zM71.2 187.7h1.0v1.0h-1.0zM71.8 188.1h1.0v1.0h-1.0zM73.2 187.8h1.0v1.0h-1.0zM73.9 187.7h1.0v1.0h-1.0zM75.1 188.3h1.0v1.0h-1.0zM76.2 188.1h1.0v1.0h-1.0zM76.7 187.9h1.0v1.0h-1.0zM78.0 188.0h1.0v1.0h-1.0zM79.0 188.2h1.0v1.0h-1.0zM80.2 188.2h1.0v1.0h-1.0zM80.9 188.1h1.0v1.0h-1.0zM81.9 187.7h1.0v1.0h-1.0zM83.0 188.0h1.0v1.0h-1.0zM85.0 187.8h1.0v1.0h-1.0zM86.0 187.9h1.0v1.0h-1.0zM87.0 187.9h1.0v1.0h-1.0zM87.7 188.1h1.0v1.0h-1.0zM89.1 188.0h1.0v1.0h-1.0zM89.9 188.2h1.0v1.0h-1.0zM90.7 188.2h1.0v1.0h-1.0zM91.7 188.0h1.0v1.0h-1.0zM93.0 188.0h1.0v1.0h-1.0zM95.1 188.3h1.0v1.0h-1.0zM95.9 188.1h1.0v1.0h-1.0zM97.3 188.1h1.0v1.0h-1.0zM101.3 188.3h1.0v1.0h-1.0zM107.1 187.8h1.0v1.0h-1.0zM107.8 188.1h1.0v1.0h-1.0zM114.2 188.3h1.0v1.0h-1.0zM115.1 187.9h1.0v1.0h-1.0zM117.0 188.0h1.0v1.0h-1.0zM118.1 188.1h1.0v1.0h-1.0zM120.1 187.8h1.0v1.0h-1.0zM121.8 188.1h1.0v1.0h-1.0zM125.2 187.7h1.0v1.0h-1.0zM127.2 187.9h1.0v1.0h-1.0zM128.8 188.2h1.0v1.0h-1.0zM131.0 187.8h1.0v1.0h-1.0zM135.7 187.8h1.0v1.0h-1.0zM142.2 188.0h1.0v1.0h-1.0zM142.9 188.0h1.0v1.0h-1.0zM145.3 187.8h1.0v1.0h-1.0zM160.3 187.9h1.0v1.0h-1.0zM54.0 188.9h1.0v1.0h-1.0zM55.3 189.2h1.0v1.0h-1.0zM56.1 189.1h1.0v1.0h-1.0zM56.8 188.8h1.0v1.0h-1.0zM58.0 188.7h1.0v1.0h-1.0zM58.9 189.0h1.0v1.0h-1.0zM60.1 188.7h1.0v1.0h-1.0zM60.9 188.9h1.0v1.0h-1.0zM62.3 189.1h1.0v1.0h-1.0zM62.8 188.9h1.0v1.0h-1.0zM63.9 188.9h1.0v1.0h-1.0zM65.1 189.1h1.0v1.0h-1.0zM66.1 188.9h1.0v1.0h-1.0zM67.3 189.1h1.0v1.0h-1.0zM67.8 189.2h1.0v1.0h-1.0zM69.1 189.1h1.0v1.0h-1.0zM69.8 189.1h1.0v1.0h-1.0zM70.7 188.8h1.0v1.0h-1.0zM71.8 189.3h1.0v1.0h-1.0zM73.1 189.0h1.0v1.0h-1.0zM74.2 189.2h1.0v1.0h-1.0zM75.2 188.7h1.0v1.0h-1.0zM75.8 188.8h1.0v1.0h-1.0zM76.7 188.8h1.0v1.0h-1.0zM78.0 188.9h1.0v1.0h-1.0zM78.7 188.7h1.0v1.0h-1.0zM80.2 189.2h1.0v1.0h-1.0zM81.2 188.9h1.0v1.0h-1.0zM82.1 189.3h1.0v1.0h-1.0zM82.9 189.3h1.0v1.0h-1.0zM84.2 188.9h1.0v1.0h-1.0zM85.0 188.8h1.0v1.0h-1.0zM86.0 189.2h1.0v1.0h-1.0zM88.2 188.8h1.0v1.0h-1.0zM89.0 188.9h1.0v1.0h-1.0zM89.9 188.9h1.0v1.0h-1.0zM91.0 188.8h1.0v1.0h-1.0zM93.9 189.2h1.0v1.0h-1.0zM94.8 188.8h1.0v1.0h-1.0zM95.9 189.2h1.0v1.0h-1.0zM99.1 188.8h1.0v1.0h-1.0zM101.2 188.7h1.0v1.0h-1.0zM102.1 188.8h1.0v1.0h-1.0zM104.2 189.2h1.0v1.0h-1.0zM106.7 189.1h1.0v1.0h-1.0zM107.9 188.9h1.0v1.0h-1.0zM109.8 188.9h1.0v1.0h-1.0zM112.8 189.0h1.0v1.0h-1.0zM118.1 188.7h1.0v1.0h-1.0zM119.3 189.2h1.0v1.0h-1.0zM121.0 189.2h1.0v1.0h-1.0zM123.7 189.1h1.0v1.0h-1.0zM124.9 189.3h1.0v1.0h-1.0zM128.2 188.9h1.0v1.0h-1.0zM129.2 189.2h1.0v1.0h-1.0zM131.2 189.0h1.0v1.0h-1.0zM140.8 189.0h1.0v1.0h-1.0zM147.8 189.0h1.0v1.0h-1.0zM151.0 189.1h1.0v1.0h-1.0zM154.8 189.1h1.0v1.0h-1.0zM157.8 189.0h1.0v1.0h-1.0zM166.2 189.2h1.0v1.0h-1.0zM54.2 189.7h1.0v1.0h-1.0zM55.2 190.1h1.0v1.0h-1.0zM56.1 190.2h1.0v1.0h-1.0zM57.3 190.0h1.0v1.0h-1.0zM58.0 190.0h1.0v1.0h-1.0zM58.7 189.9h1.0v1.0h-1.0zM59.9 189.7h1.0v1.0h-1.0zM60.8 190.1h1.0v1.0h-1.0zM61.7 190.2h1.0v1.0h-1.0zM62.7 190.1h1.0v1.0h-1.0zM64.0 190.2h1.0v1.0h-1.0zM65.3 190.2h1.0v1.0h-1.0zM66.0 189.8h1.0v1.0h-1.0zM66.9 190.3h1.0v1.0h-1.0zM67.8 190.1h1.0v1.0h-1.0zM68.9 190.1h1.0v1.0h-1.0zM70.3 189.8h1.0v1.0h-1.0zM71.0 190.0h1.0v1.0h-1.0zM71.8 190.3h1.0v1.0h-1.0zM72.8 189.9h1.0v1.0h-1.0zM74.0 190.3h1.0v1.0h-1.0zM74.9 189.9h1.0v1.0h-1.0zM75.7 189.9h1.0v1.0h-1.0zM77.3 190.2h1.0v1.0h-1.0zM78.2 190.0h1.0v1.0h-1.0zM79.0 190.3h1.0v1.0h-1.0zM79.7 190.2h1.0v1.0h-1.0zM80.8 189.8h1.0v1.0h-1.0zM81.9 190.1h1.0v1.0h-1.0zM83.2 190.2h1.0v1.0h-1.0zM83.9 190.1h1.0v1.0h-1.0zM85.0 190.0h1.0v1.0h-1.0zM85.9 189.8h1.0v1.0h-1.0zM87.8 189.9h1.0v1.0h-1.0zM89.2 190.2h1.0v1.0h-1.0zM90.8 190.1h1.0v1.0h-1.0zM92.1 190.1h1.0v1.0h-1.0zM92.8 189.8h1.0v1.0h-1.0zM97.8 190.2h1.0v1.0h-1.0zM99.3 190.3h1.0v1.0h-1.0zM100.1 190.3h1.0v1.0h-1.0zM103.0 190.1h1.0v1.0h-1.0zM106.0 190.2h1.0v1.0h-1.0zM106.8 189.9h1.0v1.0h-1.0zM111.2 189.7h1.0v1.0h-1.0zM111.8 189.7h1.0v1.0h-1.0zM115.3 189.7h1.0v1.0h-1.0zM118.1 189.8h1.0v1.0h-1.0zM121.1 189.9h1.0v1.0h-1.0zM122.2 189.9h1.0v1.0h-1.0zM124.0 189.9h1.0v1.0h-1.0zM124.8 189.7h1.0v1.0h-1.0zM126.2 190.2h1.0v1.0h-1.0zM128.1 189.8h1.0v1.0h-1.0zM132.0 190.2h1.0v1.0h-1.0zM52.1 190.8h1.0v1.0h-1.0zM56.3 191.2h1.0v1.0h-1.0zM56.9 191.2h1.0v1.0h-1.0zM58.3 190.8h1.0v1.0h-1.0zM59.0 190.9h1.0v1.0h-1.0zM60.1 190.9h1.0v1.0h-1.0zM61.3 191.3h1.0v1.0h-1.0zM62.2 190.7h1.0v1.0h-1.0zM63.0 191.2h1.0v1.0h-1.0zM63.7 191.0h1.0v1.0h-1.0zM64.8 191.1h1.0v1.0h-1.0zM65.8 190.8h1.0v1.0h-1.0zM66.7 190.8h1.0v1.0h-1.0zM67.9 191.1h1.0v1.0h-1.0zM69.1 190.9h1.0v1.0h-1.0zM71.1 190.9h1.0v1.0h-1.0zM71.9 191.3h1.0v1.0h-1.0zM72.9 191.0h1.0v1.0h-1.0zM74.9 191.0h1.0v1.0h-1.0zM76.3 190.8h1.0v1.0h-1.0zM76.8 191.2h1.0v1.0h-1.0zM77.9 191.1h1.0v1.0h-1.0zM79.1 191.3h1.0v1.0h-1.0zM80.1 191.2h1.0v1.0h-1.0zM81.3 191.0h1.0v1.0h-1.0zM81.7 191.2h1.0v1.0h-1.0zM82.8 191.1h1.0v1.0h-1.0zM84.2 190.8h1.0v1.0h-1.0zM85.0 190.9h1.0v1.0h-1.0zM85.7 191.0h1.0v1.0h-1.0zM87.3 190.8h1.0v1.0h-1.0zM88.1 191.1h1.0v1.0h-1.0zM89.0 190.7h1.0v1.0h-1.0zM90.0 191.0h1.0v1.0h-1.0zM91.2 190.9h1.0v1.0h-1.0zM92.2 190.9h1.0v1.0h-1.0zM93.1 191.1h1.0v1.0h-1.0zM94.0 191.0h1.0v1.0h-1.0zM95.2 190.9h1.0v1.0h-1.0zM99.0 190.8h1.0v1.0h-1.0zM103.0 191.1h1.0v1.0h-1.0zM103.9 191.1h1.0v1.0h-1.0zM105.0 191.1h1.0v1.0h-1.0zM106.8 191.3h1.0v1.0h-1.0zM108.9 191.1h1.0v1.0h-1.0zM109.9 191.0h1.0v1.0h-1.0zM111.0 191.1h1.0v1.0h-1.0zM120.0 191.0h1.0v1.0h-1.0zM121.8 190.9h1.0v1.0h-1.0zM123.9 191.2h1.0v1.0h-1.0zM127.0 190.8h1.0v1.0h-1.0zM132.1 190.9h1.0v1.0h-1.0zM52.0 192.1h1.0v1.0h-1.0zM53.3 192.1h1.0v1.0h-1.0zM54.1 192.0h1.0v1.0h-1.0zM55.1 192.3h1.0v1.0h-1.0zM56.0 191.7h1.0v1.0h-1.0zM57.0 191.9h1.0v1.0h-1.0zM57.7 192.0h1.0v1.0h-1.0zM58.8 192.3h1.0v1.0h-1.0zM60.3 191.8h1.0v1.0h-1.0zM60.9 191.8h1.0v1.0h-1.0zM62.0 191.7h1.0v1.0h-1.0zM63.1 191.7h1.0v1.0h-1.0zM63.7 191.9h1.0v1.0h-1.0zM64.9 191.8h1.0v1.0h-1.0zM66.1 191.9h1.0v1.0h-1.0zM67.0 192.1h1.0v1.0h-1.0zM67.8 192.0h1.0v1.0h-1.0zM68.8 191.9h1.0v1.0h-1.0zM70.3 192.0h1.0v1.0h-1.0zM71.1 192.2h1.0v1.0h-1.0zM71.9 191.7h1.0v1.0h-1.0zM73.1 191.9h1.0v1.0h-1.0zM73.8 191.9h1.0v1.0h-1.0zM74.8 191.8h1.0v1.0h-1.0zM76.2 192.1h1.0v1.0h-1.0zM78.1 192.0h1.0v1.0h-1.0zM78.8 192.2h1.0v1.0h-1.0zM79.7 192.1h1.0v1.0h-1.0zM81.1 192.3h1.0v1.0h-1.0zM81.8 191.8h1.0v1.0h-1.0zM83.8 191.9h1.0v1.0h-1.0zM84.7 191.8h1.0v1.0h-1.0zM85.7 191.8h1.0v1.0h-1.0zM87.7 192.2h1.0v1.0h-1.0zM88.7 192.0h1.0v1.0h-1.0zM90.1 192.0h1.0v1.0h-1.0zM93.8 191.8h1.0v1.0h-1.0zM96.2 192.1h1.0v1.0h-1.0zM96.7 192.3h1.0v1.0h-1.0zM100.2 192.1h1.0v1.0h-1.0zM100.7 192.1h1.0v1.0h-1.0zM106.1 191.7h1.0v1.0h-1.0zM107.7 192.1h1.0v1.0h-1.0zM109.9 191.7h1.0v1.0h-1.0zM112.1 192.2h1.0v1.0h-1.0zM119.2 192.1h1.0v1.0h-1.0zM127.9 192.1h1.0v1.0h-1.0zM128.7 191.8h1.0v1.0h-1.0zM132.0 192.1h1.0v1.0h-1.0zM143.1 192.0h1.0v1.0h-1.0zM149.2 192.0h1.0v1.0h-1.0zM150.0 191.8h1.0v1.0h-1.0zM52.2 193.2h1.0v1.0h-1.0zM54.2 193.1h1.0v1.0h-1.0zM54.8 193.1h1.0v1.0h-1.0zM55.8 193.0h1.0v1.0h-1.0zM56.8 192.8h1.0v1.0h-1.0zM58.3 192.9h1.0v1.0h-1.0zM58.8 193.1h1.0v1.0h-1.0zM59.9 192.8h1.0v1.0h-1.0zM61.1 192.8h1.0v1.0h-1.0zM62.1 193.2h1.0v1.0h-1.0zM63.0 193.0h1.0v1.0h-1.0zM64.0 192.9h1.0v1.0h-1.0zM65.0 193.2h1.0v1.0h-1.0zM65.9 193.0h1.0v1.0h-1.0zM67.0 193.2h1.0v1.0h-1.0zM67.9 193.2h1.0v1.0h-1.0zM68.7 192.9h1.0v1.0h-1.0zM69.7 193.3h1.0v1.0h-1.0zM70.9 193.1h1.0v1.0h-1.0zM72.2 193.2h1.0v1.0h-1.0zM73.3 192.9h1.0v1.0h-1.0zM74.1 192.7h1.0v1.0h-1.0zM74.9 193.0h1.0v1.0h-1.0zM76.2 193.1h1.0v1.0h-1.0zM77.3 193.1h1.0v1.0h-1.0zM77.8 192.7h1.0v1.0h-1.0zM78.7 193.3h1.0v1.0h-1.0zM80.1 192.7h1.0v1.0h-1.0zM80.9 193.1h1.0v1.0h-1.0zM82.9 193.0h1.0v1.0h-1.0zM84.2 192.8h1.0v1.0h-1.0zM85.2 192.8h1.0v1.0h-1.0zM85.9 193.0h1.0v1.0h-1.0zM87.1 193.0h1.0v1.0h-1.0zM88.1 193.0h1.0v1.0h-1.0zM88.7 193.1h1.0v1.0h-1.0zM91.8 192.9h1.0v1.0h-1.0zM93.0 192.9h1.0v1.0h-1.0zM94.0 192.7h1.0v1.0h-1.0zM99.0 192.9h1.0v1.0h-1.0zM99.8 192.8h1.0v1.0h-1.0zM103.8 192.8h1.0v1.0h-1.0zM110.8 193.1h1.0v1.0h-1.0zM115.8 192.9h1.0v1.0h-1.0zM118.2 193.3h1.0v1.0h-1.0zM121.1 193.1h1.0v1.0h-1.0zM126.7 192.7h1.0v1.0h-1.0zM127.8 193.2h1.0v1.0h-1.0zM131.1 192.9h1.0v1.0h-1.0zM139.3 193.2h1.0v1.0h-1.0zM140.0 193.0h1.0v1.0h-1.0zM169.9 193.1h1.0v1.0h-1.0zM191.3 193.2h1.0v1.0h-1.0zM53.1 194.1h1.0v1.0h-1.0zM54.9 194.1h1.0v1.0h-1.0zM56.0 194.0h1.0v1.0h-1.0zM57.2 193.7h1.0v1.0h-1.0zM57.9 193.9h1.0v1.0h-1.0zM59.0 193.7h1.0v1.0h-1.0zM59.9 193.7h1.0v1.0h-1.0zM61.1 193.9h1.0v1.0h-1.0zM61.8 194.2h1.0v1.0h-1.0zM63.2 194.1h1.0v1.0h-1.0zM63.9 193.9h1.0v1.0h-1.0zM65.3 193.9h1.0v1.0h-1.0zM66.3 194.3h1.0v1.0h-1.0zM67.1 194.0h1.0v1.0h-1.0zM68.1 193.9h1.0v1.0h-1.0zM68.8 193.8h1.0v1.0h-1.0zM70.2 193.8h1.0v1.0h-1.0zM71.2 194.2h1.0v1.0h-1.0zM72.2 194.1h1.0v1.0h-1.0zM73.1 193.8h1.0v1.0h-1.0zM74.0 193.8h1.0v1.0h-1.0zM75.1 194.0h1.0v1.0h-1.0zM76.2 193.7h1.0v1.0h-1.0zM77.2 194.1h1.0v1.0h-1.0zM78.2 194.1h1.0v1.0h-1.0zM78.7 194.2h1.0v1.0h-1.0zM79.9 193.8h1.0v1.0h-1.0zM81.2 194.3h1.0v1.0h-1.0zM82.0 194.1h1.0v1.0h-1.0zM83.3 194.2h1.0v1.0h-1.0zM84.3 194.3h1.0v1.0h-1.0zM85.0 194.1h1.0v1.0h-1.0zM86.2 193.9h1.0v1.0h-1.0zM87.0 194.0h1.0v1.0h-1.0zM88.9 194.3h1.0v1.0h-1.0zM90.1 193.7h1.0v1.0h-1.0zM91.2 194.2h1.0v1.0h-1.0zM91.9 194.2h1.0v1.0h-1.0zM93.0 193.8h1.0v1.0h-1.0zM93.8 194.1h1.0v1.0h-1.0zM97.0 194.3h1.0v1.0h-1.0zM98.8 194.3h1.0v1.0h-1.0zM101.8 194.3h1.0v1.0h-1.0zM105.2 193.8h1.0v1.0h-1.0zM106.0 194.1h1.0v1.0h-1.0zM116.9 194.1h1.0v1.0h-1.0zM120.1 194.1h1.0v1.0h-1.0zM121.3 194.1h1.0v1.0h-1.0zM125.9 193.8h1.0v1.0h-1.0zM139.1 193.7h1.0v1.0h-1.0zM140.1 194.0h1.0v1.0h-1.0zM140.8 193.9h1.0v1.0h-1.0zM51.8 194.9h1.0v1.0h-1.0zM53.1 194.8h1.0v1.0h-1.0zM55.2 194.8h1.0v1.0h-1.0zM55.8 194.8h1.0v1.0h-1.0zM56.9 194.7h1.0v1.0h-1.0zM58.0 195.2h1.0v1.0h-1.0zM59.2 194.9h1.0v1.0h-1.0zM60.2 195.3h1.0v1.0h-1.0zM61.3 195.2h1.0v1.0h-1.0zM61.8 195.1h1.0v1.0h-1.0zM62.7 195.1h1.0v1.0h-1.0zM64.2 195.1h1.0v1.0h-1.0zM64.9 194.8h1.0v1.0h-1.0zM66.1 194.9h1.0v1.0h-1.0zM67.1 195.2h1.0v1.0h-1.0zM67.9 195.3h1.0v1.0h-1.0zM69.1 195.0h1.0v1.0h-1.0zM70.1 195.3h1.0v1.0h-1.0zM70.9 195.0h1.0v1.0h-1.0zM72.0 194.8h1.0v1.0h-1.0zM73.3 194.7h1.0v1.0h-1.0zM74.1 194.8h1.0v1.0h-1.0zM75.0 195.0h1.0v1.0h-1.0zM76.2 194.7h1.0v1.0h-1.0zM77.2 195.2h1.0v1.0h-1.0zM78.2 194.8h1.0v1.0h-1.0zM78.8 195.2h1.0v1.0h-1.0zM80.2 195.3h1.0v1.0h-1.0zM81.1 195.2h1.0v1.0h-1.0zM82.1 194.9h1.0v1.0h-1.0zM83.2 194.8h1.0v1.0h-1.0zM83.9 195.0h1.0v1.0h-1.0zM85.8 194.7h1.0v1.0h-1.0zM86.9 195.1h1.0v1.0h-1.0zM88.1 194.9h1.0v1.0h-1.0zM89.2 195.1h1.0v1.0h-1.0zM89.9 195.2h1.0v1.0h-1.0zM93.1 195.2h1.0v1.0h-1.0zM94.0 194.7h1.0v1.0h-1.0zM95.9 194.8h1.0v1.0h-1.0zM99.0 195.1h1.0v1.0h-1.0zM100.9 194.8h1.0v1.0h-1.0zM103.2 195.2h1.0v1.0h-1.0zM107.1 195.0h1.0v1.0h-1.0zM107.9 194.8h1.0v1.0h-1.0zM110.2 194.9h1.0v1.0h-1.0zM112.8 195.1h1.0v1.0h-1.0zM116.8 195.1h1.0v1.0h-1.0zM120.2 194.9h1.0v1.0h-1.0zM121.2 194.8h1.0v1.0h-1.0zM122.1 195.2h1.0v1.0h-1.0zM125.1 195.3h1.0v1.0h-1.0zM131.1 194.9h1.0v1.0h-1.0zM52.2 196.2h1.0v1.0h-1.0zM52.7 196.3h1.0v1.0h-1.0zM53.8 195.9h1.0v1.0h-1.0zM55.8 196.2h1.0v1.0h-1.0zM56.7 195.9h1.0v1.0h-1.0zM58.1 196.1h1.0v1.0h-1.0zM58.9 195.8h1.0v1.0h-1.0zM59.8 196.2h1.0v1.0h-1.0zM60.8 196.1h1.0v1.0h-1.0zM62.1 195.7h1.0v1.0h-1.0zM62.8 195.9h1.0v1.0h-1.0zM64.0 195.9h1.0v1.0h-1.0zM65.1 196.2h1.0v1.0h-1.0zM66.0 196.0h1.0v1.0h-1.0zM66.9 195.8h1.0v1.0h-1.0zM67.9 196.3h1.0v1.0h-1.0zM68.9 196.0h1.0v1.0h-1.0zM70.0 196.1h1.0v1.0h-1.0zM70.7 196.2h1.0v1.0h-1.0zM72.0 196.2h1.0v1.0h-1.0zM73.3 196.1h1.0v1.0h-1.0zM74.2 196.2h1.0v1.0h-1.0zM74.8 196.1h1.0v1.0h-1.0zM75.8 195.8h1.0v1.0h-1.0zM77.2 196.3h1.0v1.0h-1.0zM78.2 196.0h1.0v1.0h-1.0zM79.2 195.9h1.0v1.0h-1.0zM79.9 196.0h1.0v1.0h-1.0zM82.3 196.2h1.0v1.0h-1.0zM83.1 195.8h1.0v1.0h-1.0zM83.9 195.9h1.0v1.0h-1.0zM85.2 196.3h1.0v1.0h-1.0zM87.1 196.2h1.0v1.0h-1.0zM89.1 196.1h1.0v1.0h-1.0zM90.0 196.0h1.0v1.0h-1.0zM90.9 196.3h1.0v1.0h-1.0zM91.9 196.3h1.0v1.0h-1.0zM93.1 196.2h1.0v1.0h-1.0zM94.9 196.1h1.0v1.0h-1.0zM95.8 196.1h1.0v1.0h-1.0zM96.9 195.9h1.0v1.0h-1.0zM99.0 195.9h1.0v1.0h-1.0zM100.1 196.1h1.0v1.0h-1.0zM102.1 196.0h1.0v1.0h-1.0zM102.9 195.8h1.0v1.0h-1.0zM105.0 196.0h1.0v1.0h-1.0zM106.2 195.9h1.0v1.0h-1.0zM107.2 196.1h1.0v1.0h-1.0zM111.1 196.0h1.0v1.0h-1.0zM112.8 196.1h1.0v1.0h-1.0zM115.0 196.1h1.0v1.0h-1.0zM117.9 195.7h1.0v1.0h-1.0zM122.1 195.8h1.0v1.0h-1.0zM127.0 195.7h1.0v1.0h-1.0zM134.0 196.0h1.0v1.0h-1.0zM152.8 195.9h1.0v1.0h-1.0zM162.9 195.9h1.0v1.0h-1.0zM52.8 197.1h1.0v1.0h-1.0zM53.9 196.8h1.0v1.0h-1.0zM55.1 196.8h1.0v1.0h-1.0zM56.2 196.8h1.0v1.0h-1.0zM56.9 196.9h1.0v1.0h-1.0zM58.0 197.3h1.0v1.0h-1.0zM58.8 197.2h1.0v1.0h-1.0zM60.0 196.9h1.0v1.0h-1.0zM61.1 196.8h1.0v1.0h-1.0zM62.2 196.8h1.0v1.0h-1.0zM62.9 196.8h1.0v1.0h-1.0zM64.2 197.0h1.0v1.0h-1.0zM65.1 196.9h1.0v1.0h-1.0zM66.1 197.1h1.0v1.0h-1.0zM67.0 196.9h1.0v1.0h-1.0zM68.0 196.8h1.0v1.0h-1.0zM68.8 197.3h1.0v1.0h-1.0zM70.2 197.3h1.0v1.0h-1.0zM71.1 196.8h1.0v1.0h-1.0zM71.9 197.2h1.0v1.0h-1.0zM73.0 196.9h1.0v1.0h-1.0zM73.7 196.9h1.0v1.0h-1.0zM75.9 196.9h1.0v1.0h-1.0zM76.8 197.0h1.0v1.0h-1.0zM78.2 197.2h1.0v1.0h-1.0zM78.9 196.9h1.0v1.0h-1.0zM79.9 197.2h1.0v1.0h-1.0zM81.3 197.0h1.0v1.0h-1.0zM83.1 197.0h1.0v1.0h-1.0zM83.8 196.9h1.0v1.0h-1.0zM84.9 197.3h1.0v1.0h-1.0zM86.0 196.9h1.0v1.0h-1.0zM86.9 197.1h1.0v1.0h-1.0zM89.3 197.0h1.0v1.0h-1.0zM90.2 196.7h1.0v1.0h-1.0zM90.7 197.1h1.0v1.0h-1.0zM93.0 197.2h1.0v1.0h-1.0zM94.8 197.2h1.0v1.0h-1.0zM95.9 196.8h1.0v1.0h-1.0zM97.1 197.1h1.0v1.0h-1.0zM99.9 196.8h1.0v1.0h-1.0zM101.9 196.7h1.0v1.0h-1.0zM104.8 197.2h1.0v1.0h-1.0zM105.8 197.1h1.0v1.0h-1.0zM108.2 196.9h1.0v1.0h-1.0zM110.8 196.9h1.0v1.0h-1.0zM115.2 197.0h1.0v1.0h-1.0zM119.3 197.1h1.0v1.0h-1.0zM120.9 197.0h1.0v1.0h-1.0zM126.1 197.3h1.0v1.0h-1.0zM130.7 197.2h1.0v1.0h-1.0zM137.8 196.8h1.0v1.0h-1.0zM52.1 198.0h1.0v1.0h-1.0zM53.2 197.9h1.0v1.0h-1.0zM54.2 197.9h1.0v1.0h-1.0zM55.3 198.1h1.0v1.0h-1.0zM56.0 198.0h1.0v1.0h-1.0zM57.2 197.9h1.0v1.0h-1.0zM58.3 198.1h1.0v1.0h-1.0zM59.3 198.1h1.0v1.0h-1.0zM60.2 198.1h1.0v1.0h-1.0zM61.1 197.8h1.0v1.0h-1.0zM61.9 197.7h1.0v1.0h-1.0zM63.2 198.0h1.0v1.0h-1.0zM64.0 197.9h1.0v1.0h-1.0zM64.7 197.7h1.0v1.0h-1.0zM66.0 198.1h1.0v1.0h-1.0zM66.9 197.9h1.0v1.0h-1.0zM68.1 197.8h1.0v1.0h-1.0zM69.1 198.1h1.0v1.0h-1.0zM69.9 198.0h1.0v1.0h-1.0zM70.7 198.0h1.0v1.0h-1.0zM72.1 197.8h1.0v1.0h-1.0zM73.0 198.3h1.0v1.0h-1.0zM74.1 198.0h1.0v1.0h-1.0zM74.9 198.3h1.0v1.0h-1.0zM75.8 198.1h1.0v1.0h-1.0zM77.9 198.3h1.0v1.0h-1.0zM79.2 198.0h1.0v1.0h-1.0zM81.2 198.2h1.0v1.0h-1.0zM82.1 197.8h1.0v1.0h-1.0zM82.8 198.1h1.0v1.0h-1.0zM83.9 198.0h1.0v1.0h-1.0zM84.9 198.3h1.0v1.0h-1.0zM86.2 197.8h1.0v1.0h-1.0zM88.0 198.1h1.0v1.0h-1.0zM89.2 197.8h1.0v1.0h-1.0zM90.0 197.9h1.0v1.0h-1.0zM92.3 198.3h1.0v1.0h-1.0zM92.8 198.2h1.0v1.0h-1.0zM94.2 198.1h1.0v1.0h-1.0zM95.0 198.0h1.0v1.0h-1.0zM96.1 197.9h1.0v1.0h-1.0zM97.9 198.0h1.0v1.0h-1.0zM98.9 197.9h1.0v1.0h-1.0zM100.3 198.2h1.0v1.0h-1.0zM102.0 198.0h1.0v1.0h-1.0zM103.8 197.9h1.0v1.0h-1.0zM104.9 198.2h1.0v1.0h-1.0zM110.3 197.7h1.0v1.0h-1.0zM113.0 198.1h1.0v1.0h-1.0zM114.2 198.0h1.0v1.0h-1.0zM116.1 198.2h1.0v1.0h-1.0zM117.7 198.1h1.0v1.0h-1.0zM118.7 197.9h1.0v1.0h-1.0zM119.8 197.8h1.0v1.0h-1.0zM121.8 198.0h1.0v1.0h-1.0zM123.9 198.0h1.0v1.0h-1.0zM126.9 197.7h1.0v1.0h-1.0zM129.1 198.0h1.0v1.0h-1.0zM147.8 197.7h1.0v1.0h-1.0zM53.2 198.8h1.0v1.0h-1.0zM53.8 198.7h1.0v1.0h-1.0zM55.1 199.1h1.0v1.0h-1.0zM56.1 198.9h1.0v1.0h-1.0zM57.1 199.3h1.0v1.0h-1.0zM57.9 199.0h1.0v1.0h-1.0zM59.2 198.9h1.0v1.0h-1.0zM59.9 199.2h1.0v1.0h-1.0zM61.2 198.7h1.0v1.0h-1.0zM62.1 199.1h1.0v1.0h-1.0zM62.8 199.0h1.0v1.0h-1.0zM64.1 198.8h1.0v1.0h-1.0zM64.7 198.8h1.0v1.0h-1.0zM65.8 198.9h1.0v1.0h-1.0zM66.9 199.1h1.0v1.0h-1.0zM68.1 198.9h1.0v1.0h-1.0zM69.0 199.0h1.0v1.0h-1.0zM70.0 199.2h1.0v1.0h-1.0zM71.1 199.1h1.0v1.0h-1.0zM71.9 198.8h1.0v1.0h-1.0zM72.9 198.8h1.0v1.0h-1.0zM73.8 198.9h1.0v1.0h-1.0zM75.1 198.8h1.0v1.0h-1.0zM76.0 198.9h1.0v1.0h-1.0zM76.9 199.0h1.0v1.0h-1.0zM79.1 199.2h1.0v1.0h-1.0zM82.9 199.2h1.0v1.0h-1.0zM84.1 199.1h1.0v1.0h-1.0zM84.9 199.2h1.0v1.0h-1.0zM87.2 198.9h1.0v1.0h-1.0zM89.3 198.8h1.0v1.0h-1.0zM89.8 198.9h1.0v1.0h-1.0zM92.2 198.7h1.0v1.0h-1.0zM92.8 199.1h1.0v1.0h-1.0zM95.1 199.3h1.0v1.0h-1.0zM97.2 198.7h1.0v1.0h-1.0zM101.3 199.2h1.0v1.0h-1.0zM102.2 199.0h1.0v1.0h-1.0zM106.9 199.0h1.0v1.0h-1.0zM110.2 199.2h1.0v1.0h-1.0zM112.3 198.9h1.0v1.0h-1.0zM113.0 199.1h1.0v1.0h-1.0zM117.0 199.0h1.0v1.0h-1.0zM120.0 198.8h1.0v1.0h-1.0zM120.8 198.8h1.0v1.0h-1.0zM127.7 199.2h1.0v1.0h-1.0zM131.7 198.9h1.0v1.0h-1.0zM145.3 199.0h1.0v1.0h-1.0zM149.0 198.9h1.0v1.0h-1.0zM154.0 198.9h1.0v1.0h-1.0zM55.3 199.9h1.0v1.0h-1.0zM56.1 200.1h1.0v1.0h-1.0zM57.2 200.1h1.0v1.0h-1.0zM58.1 200.1h1.0v1.0h-1.0zM58.9 200.0h1.0v1.0h-1.0zM59.8 200.1h1.0v1.0h-1.0zM60.8 200.2h1.0v1.0h-1.0zM61.9 200.2h1.0v1.0h-1.0zM62.7 200.1h1.0v1.0h-1.0zM64.1 200.0h1.0v1.0h-1.0zM65.1 200.2h1.0v1.0h-1.0zM66.0 200.2h1.0v1.0h-1.0zM66.9 200.0h1.0v1.0h-1.0zM68.1 199.9h1.0v1.0h-1.0zM69.1 199.7h1.0v1.0h-1.0zM69.8 200.1h1.0v1.0h-1.0zM71.3 200.3h1.0v1.0h-1.0zM71.8 199.8h1.0v1.0h-1.0zM73.0 200.1h1.0v1.0h-1.0zM74.1 200.1h1.0v1.0h-1.0zM75.0 200.0h1.0v1.0h-1.0zM75.9 200.0h1.0v1.0h-1.0zM77.2 199.7h1.0v1.0h-1.0zM78.2 199.8h1.0v1.0h-1.0zM79.1 200.0h1.0v1.0h-1.0zM82.2 199.8h1.0v1.0h-1.0zM83.0 200.2h1.0v1.0h-1.0zM84.8 200.1h1.0v1.0h-1.0zM85.8 199.9h1.0v1.0h-1.0zM89.9 199.8h1.0v1.0h-1.0zM90.9 199.9h1.0v1.0h-1.0zM93.1 199.9h1.0v1.0h-1.0zM95.9 200.2h1.0v1.0h-1.0zM97.0 199.8h1.0v1.0h-1.0zM100.3 200.3h1.0v1.0h-1.0zM101.0 200.1h1.0v1.0h-1.0zM103.8 200.0h1.0v1.0h-1.0zM105.1 200.2h1.0v1.0h-1.0zM106.1 200.0h1.0v1.0h-1.0zM109.2 200.1h1.0v1.0h-1.0zM116.9 200.1h1.0v1.0h-1.0zM130.8 199.9h1.0v1.0h-1.0zM138.9 199.8h1.0v1.0h-1.0zM149.0 200.2h1.0v1.0h-1.0zM52.1 200.9h1.0v1.0h-1.0zM55.2 201.3h1.0v1.0h-1.0zM58.3 200.7h1.0v1.0h-1.0zM59.2 201.3h1.0v1.0h-1.0zM60.1 201.2h1.0v1.0h-1.0zM61.2 201.3h1.0v1.0h-1.0zM61.9 201.2h1.0v1.0h-1.0zM63.1 201.2h1.0v1.0h-1.0zM63.9 201.2h1.0v1.0h-1.0zM65.0 201.0h1.0v1.0h-1.0zM65.9 201.3h1.0v1.0h-1.0zM67.2 201.2h1.0v1.0h-1.0zM67.9 201.2h1.0v1.0h-1.0zM69.1 200.9h1.0v1.0h-1.0zM69.8 201.1h1.0v1.0h-1.0zM70.9 201.1h1.0v1.0h-1.0zM72.1 201.1h1.0v1.0h-1.0zM73.1 200.7h1.0v1.0h-1.0zM74.2 200.9h1.0v1.0h-1.0zM75.2 201.3h1.0v1.0h-1.0zM76.2 200.9h1.0v1.0h-1.0zM76.8 201.3h1.0v1.0h-1.0zM78.1 201.3h1.0v1.0h-1.0zM80.2 200.8h1.0v1.0h-1.0zM81.2 201.0h1.0v1.0h-1.0zM82.0 200.8h1.0v1.0h-1.0zM83.1 200.8h1.0v1.0h-1.0zM85.7 201.3h1.0v1.0h-1.0zM87.2 201.0h1.0v1.0h-1.0zM88.3 201.2h1.0v1.0h-1.0zM89.0 201.0h1.0v1.0h-1.0zM91.0 201.0h1.0v1.0h-1.0zM94.1 200.8h1.0v1.0h-1.0zM94.9 201.1h1.0v1.0h-1.0zM96.2 201.0h1.0v1.0h-1.0zM98.9 201.3h1.0v1.0h-1.0zM100.2 200.9h1.0v1.0h-1.0zM101.9 200.9h1.0v1.0h-1.0zM102.8 201.2h1.0v1.0h-1.0zM103.8 201.0h1.0v1.0h-1.0zM106.2 201.1h1.0v1.0h-1.0zM106.7 201.3h1.0v1.0h-1.0zM107.8 201.2h1.0v1.0h-1.0zM109.9 201.0h1.0v1.0h-1.0zM111.2 200.7h1.0v1.0h-1.0zM113.2 200.8h1.0v1.0h-1.0zM114.9 200.8h1.0v1.0h-1.0zM115.8 200.8h1.0v1.0h-1.0zM121.2 200.9h1.0v1.0h-1.0zM124.1 201.1h1.0v1.0h-1.0zM124.7 200.8h1.0v1.0h-1.0zM128.0 201.0h1.0v1.0h-1.0zM129.0 201.1h1.0v1.0h-1.0zM129.9 201.1h1.0v1.0h-1.0zM132.2 200.8h1.0v1.0h-1.0zM136.3 200.7h1.0v1.0h-1.0zM139.9 201.0h1.0v1.0h-1.0zM143.9 201.3h1.0v1.0h-1.0zM156.2 200.8h1.0v1.0h-1.0zM54.7 201.9h1.0v1.0h-1.0zM55.7 202.2h1.0v1.0h-1.0zM57.1 202.1h1.0v1.0h-1.0zM57.9 202.1h1.0v1.0h-1.0zM59.1 202.1h1.0v1.0h-1.0zM60.1 202.1h1.0v1.0h-1.0zM62.0 202.2h1.0v1.0h-1.0zM62.9 202.1h1.0v1.0h-1.0zM64.0 201.9h1.0v1.0h-1.0zM64.8 202.0h1.0v1.0h-1.0zM66.0 201.7h1.0v1.0h-1.0zM66.8 202.0h1.0v1.0h-1.0zM68.2 202.3h1.0v1.0h-1.0zM69.3 202.2h1.0v1.0h-1.0zM70.1 202.1h1.0v1.0h-1.0zM71.3 202.3h1.0v1.0h-1.0zM71.9 201.9h1.0v1.0h-1.0zM73.0 202.2h1.0v1.0h-1.0zM74.1 201.8h1.0v1.0h-1.0zM75.0 202.0h1.0v1.0h-1.0zM75.9 201.7h1.0v1.0h-1.0zM77.2 202.0h1.0v1.0h-1.0zM78.9 201.8h1.0v1.0h-1.0zM79.7 202.3h1.0v1.0h-1.0zM80.7 202.1h1.0v1.0h-1.0zM82.0 202.1h1.0v1.0h-1.0zM83.1 202.2h1.0v1.0h-1.0zM83.8 201.8h1.0v1.0h-1.0zM86.0 201.7h1.0v1.0h-1.0zM88.1 201.7h1.0v1.0h-1.0zM88.9 202.1h1.0v1.0h-1.0zM90.1 201.9h1.0v1.0h-1.0zM95.0 202.1h1.0v1.0h-1.0zM98.2 201.8h1.0v1.0h-1.0zM101.0 202.2h1.0v1.0h-1.0zM110.8 201.8h1.0v1.0h-1.0zM114.8 202.1h1.0v1.0h-1.0zM119.2 201.7h1.0v1.0h-1.0zM120.7 201.8h1.0v1.0h-1.0zM148.0 202.3h1.0v1.0h-1.0zM51.9 202.9h1.0v1.0h-1.0zM54.0 203.2h1.0v1.0h-1.0zM56.1 203.0h1.0v1.0h-1.0zM57.1 203.1h1.0v1.0h-1.0zM57.9 203.1h1.0v1.0h-1.0zM59.3 203.1h1.0v1.0h-1.0zM59.7 203.2h1.0v1.0h-1.0zM61.2 202.9h1.0v1.0h-1.0zM61.8 202.9h1.0v1.0h-1.0zM63.2 202.9h1.0v1.0h-1.0zM63.9 203.3h1.0v1.0h-1.0zM65.1 202.8h1.0v1.0h-1.0zM66.1 203.1h1.0v1.0h-1.0zM67.0 202.7h1.0v1.0h-1.0zM67.9 202.8h1.0v1.0h-1.0zM68.9 203.0h1.0v1.0h-1.0zM70.1 202.9h1.0v1.0h-1.0zM71.1 203.0h1.0v1.0h-1.0zM72.0 203.0h1.0v1.0h-1.0zM72.8 202.8h1.0v1.0h-1.0zM74.2 203.1h1.0v1.0h-1.0zM76.0 203.2h1.0v1.0h-1.0zM77.1 203.0h1.0v1.0h-1.0zM78.7 203.0h1.0v1.0h-1.0zM80.0 202.8h1.0v1.0h-1.0zM82.1 202.9h1.0v1.0h-1.0zM82.9 202.9h1.0v1.0h-1.0zM83.9 202.9h1.0v1.0h-1.0zM85.3 203.1h1.0v1.0h-1.0zM86.2 203.1h1.0v1.0h-1.0zM87.0 203.1h1.0v1.0h-1.0zM89.1 203.1h1.0v1.0h-1.0zM91.9 202.7h1.0v1.0h-1.0zM93.3 202.8h1.0v1.0h-1.0zM94.9 203.1h1.0v1.0h-1.0zM96.2 203.3h1.0v1.0h-1.0zM97.1 202.7h1.0v1.0h-1.0zM99.8 202.9h1.0v1.0h-1.0zM101.3 203.2h1.0v1.0h-1.0zM102.9 202.7h1.0v1.0h-1.0zM107.0 203.0h1.0v1.0h-1.0zM108.1 203.0h1.0v1.0h-1.0zM108.8 203.3h1.0v1.0h-1.0zM111.8 202.9h1.0v1.0h-1.0zM116.1 203.3h1.0v1.0h-1.0zM118.8 202.7h1.0v1.0h-1.0zM119.8 202.9h1.0v1.0h-1.0zM129.0 203.3h1.0v1.0h-1.0zM131.0 202.8h1.0v1.0h-1.0zM133.2 203.2h1.0v1.0h-1.0zM51.7 204.1h1.0v1.0h-1.0zM53.7 204.2h1.0v1.0h-1.0zM55.3 203.9h1.0v1.0h-1.0zM55.9 204.1h1.0v1.0h-1.0zM57.2 204.0h1.0v1.0h-1.0zM57.8 204.3h1.0v1.0h-1.0zM58.8 204.2h1.0v1.0h-1.0zM60.9 203.9h1.0v1.0h-1.0zM62.2 204.0h1.0v1.0h-1.0zM63.8 204.0h1.0v1.0h-1.0zM65.1 203.9h1.0v1.0h-1.0zM66.1 204.0h1.0v1.0h-1.0zM66.8 203.7h1.0v1.0h-1.0zM67.8 204.3h1.0v1.0h-1.0zM68.8 203.8h1.0v1.0h-1.0zM69.7 203.9h1.0v1.0h-1.0zM70.9 203.8h1.0v1.0h-1.0zM73.9 203.9h1.0v1.0h-1.0zM76.1 203.7h1.0v1.0h-1.0zM76.9 204.1h1.0v1.0h-1.0zM78.0 203.8h1.0v1.0h-1.0zM79.1 204.0h1.0v1.0h-1.0zM81.1 204.0h1.0v1.0h-1.0zM84.2 204.1h1.0v1.0h-1.0zM85.8 204.3h1.0v1.0h-1.0zM86.9 203.9h1.0v1.0h-1.0zM88.2 204.0h1.0v1.0h-1.0zM89.9 203.9h1.0v1.0h-1.0zM91.1 204.3h1.0v1.0h-1.0zM92.0 204.3h1.0v1.0h-1.0zM95.2 204.2h1.0v1.0h-1.0zM98.1 204.2h1.0v1.0h-1.0zM99.2 204.2h1.0v1.0h-1.0zM99.9 204.2h1.0v1.0h-1.0zM102.2 204.2h1.0v1.0h-1.0zM104.1 203.9h1.0v1.0h-1.0zM105.3 203.7h1.0v1.0h-1.0zM108.9 204.2h1.0v1.0h-1.0zM110.1 204.1h1.0v1.0h-1.0zM111.2 203.8h1.0v1.0h-1.0zM112.8 203.9h1.0v1.0h-1.0zM114.2 203.7h1.0v1.0h-1.0zM116.1 204.2h1.0v1.0h-1.0zM117.1 203.8h1.0v1.0h-1.0zM117.9 203.9h1.0v1.0h-1.0zM119.0 204.2h1.0v1.0h-1.0zM121.2 204.3h1.0v1.0h-1.0zM121.9 203.8h1.0v1.0h-1.0zM123.2 203.9h1.0v1.0h-1.0zM125.2 203.9h1.0v1.0h-1.0zM129.0 203.8h1.0v1.0h-1.0zM131.1 203.8h1.0v1.0h-1.0zM136.2 204.3h1.0v1.0h-1.0zM145.2 204.1h1.0v1.0h-1.0zM55.2 205.1h1.0v1.0h-1.0zM56.2 205.1h1.0v1.0h-1.0zM60.1 205.3h1.0v1.0h-1.0zM60.8 204.8h1.0v1.0h-1.0zM62.3 205.0h1.0v1.0h-1.0zM63.0 205.3h1.0v1.0h-1.0zM66.1 205.2h1.0v1.0h-1.0zM67.8 204.7h1.0v1.0h-1.0zM68.9 205.2h1.0v1.0h-1.0zM69.9 204.9h1.0v1.0h-1.0zM70.9 205.2h1.0v1.0h-1.0zM72.1 204.9h1.0v1.0h-1.0zM73.8 204.9h1.0v1.0h-1.0zM74.9 205.2h1.0v1.0h-1.0zM79.9 204.8h1.0v1.0h-1.0zM80.9 205.2h1.0v1.0h-1.0zM82.8 205.1h1.0v1.0h-1.0zM88.3 205.2h1.0v1.0h-1.0zM89.0 205.0h1.0v1.0h-1.0zM91.2 204.9h1.0v1.0h-1.0zM95.1 205.0h1.0v1.0h-1.0zM96.9 205.2h1.0v1.0h-1.0zM97.9 205.1h1.0v1.0h-1.0zM100.1 204.8h1.0v1.0h-1.0zM100.8 205.0h1.0v1.0h-1.0zM104.8 205.2h1.0v1.0h-1.0zM108.2 205.1h1.0v1.0h-1.0zM109.1 205.2h1.0v1.0h-1.0zM112.8 205.1h1.0v1.0h-1.0zM118.1 205.3h1.0v1.0h-1.0zM120.9 205.0h1.0v1.0h-1.0zM125.9 204.7h1.0v1.0h-1.0zM128.0 205.3h1.0v1.0h-1.0zM130.1 204.9h1.0v1.0h-1.0zM134.8 204.8h1.0v1.0h-1.0zM156.9 204.9h1.0v1.0h-1.0zM178.9 205.1h1.0v1.0h-1.0zM54.8 206.0h1.0v1.0h-1.0zM55.9 205.8h1.0v1.0h-1.0zM57.8 206.2h1.0v1.0h-1.0zM59.7 206.1h1.0v1.0h-1.0zM61.1 206.0h1.0v1.0h-1.0zM62.1 206.2h1.0v1.0h-1.0zM63.3 206.1h1.0v1.0h-1.0zM63.8 205.8h1.0v1.0h-1.0zM66.2 205.8h1.0v1.0h-1.0zM68.0 206.3h1.0v1.0h-1.0zM70.1 206.1h1.0v1.0h-1.0zM71.0 206.0h1.0v1.0h-1.0zM71.7 205.8h1.0v1.0h-1.0zM72.8 205.8h1.0v1.0h-1.0zM74.1 206.2h1.0v1.0h-1.0zM75.8 205.8h1.0v1.0h-1.0zM78.0 205.8h1.0v1.0h-1.0zM80.0 206.0h1.0v1.0h-1.0zM81.3 206.1h1.0v1.0h-1.0zM81.7 206.2h1.0v1.0h-1.0zM83.1 205.9h1.0v1.0h-1.0zM83.9 205.7h1.0v1.0h-1.0zM85.9 206.0h1.0v1.0h-1.0zM86.9 206.2h1.0v1.0h-1.0zM89.2 206.0h1.0v1.0h-1.0zM90.1 206.3h1.0v1.0h-1.0zM90.7 206.3h1.0v1.0h-1.0zM92.2 206.3h1.0v1.0h-1.0zM93.1 205.8h1.0v1.0h-1.0zM96.0 206.1h1.0v1.0h-1.0zM97.2 206.0h1.0v1.0h-1.0zM99.2 205.9h1.0v1.0h-1.0zM101.2 206.3h1.0v1.0h-1.0zM103.7 206.1h1.0v1.0h-1.0zM106.0 206.1h1.0v1.0h-1.0zM112.7 206.0h1.0v1.0h-1.0zM124.1 205.8h1.0v1.0h-1.0zM125.7 205.8h1.0v1.0h-1.0zM130.8 206.1h1.0v1.0h-1.0zM168.8 205.9h1.0v1.0h-1.0z" fill="#000" fill-opacity="0.95"/>
<defs><clipPath id="cr"><rect x="89.6" y="130.3" width="62" height="22.4" rx="9" ry="9"/></clipPath><clipPath id="cg"><rect x="89.6" y="153.4" width="62.4" height="11.8" rx="5.5" ry="5.5"/></clipPath></defs>
<g clip-path="url(#cr)">
<path d="M93.1 129.8h1.0v1.0h-1.0zM95.3 129.8h1.0v1.0h-1.0zM97.0 130.0h1.0v1.0h-1.0zM99.3 129.9h1.0v1.0h-1.0zM99.7 129.7h1.0v1.0h-1.0zM101.0 130.2h1.0v1.0h-1.0zM105.2 129.9h1.0v1.0h-1.0zM107.0 130.1h1.0v1.0h-1.0zM108.0 130.1h1.0v1.0h-1.0zM109.1 130.1h1.0v1.0h-1.0zM109.8 130.1h1.0v1.0h-1.0zM112.2 129.7h1.0v1.0h-1.0zM133.0 129.9h1.0v1.0h-1.0zM134.9 129.7h1.0v1.0h-1.0zM136.0 129.7h1.0v1.0h-1.0zM136.9 130.0h1.0v1.0h-1.0zM142.8 129.9h1.0v1.0h-1.0zM150.1 129.9h1.0v1.0h-1.0zM93.8 131.2h1.0v1.0h-1.0zM97.9 130.9h1.0v1.0h-1.0zM100.9 131.2h1.0v1.0h-1.0zM102.2 131.1h1.0v1.0h-1.0zM105.1 130.9h1.0v1.0h-1.0zM106.8 131.1h1.0v1.0h-1.0zM110.3 130.8h1.0v1.0h-1.0zM115.0 130.8h1.0v1.0h-1.0zM118.0 130.7h1.0v1.0h-1.0zM121.9 130.9h1.0v1.0h-1.0zM124.7 131.1h1.0v1.0h-1.0zM130.1 130.9h1.0v1.0h-1.0zM130.8 130.7h1.0v1.0h-1.0zM132.0 130.8h1.0v1.0h-1.0zM135.0 130.7h1.0v1.0h-1.0zM141.1 131.1h1.0v1.0h-1.0zM142.1 131.1h1.0v1.0h-1.0zM89.2 132.0h1.0v1.0h-1.0zM93.7 131.7h1.0v1.0h-1.0zM95.7 131.7h1.0v1.0h-1.0zM104.3 132.0h1.0v1.0h-1.0zM108.9 132.1h1.0v1.0h-1.0zM112.2 131.8h1.0v1.0h-1.0zM119.0 131.7h1.0v1.0h-1.0zM125.7 132.2h1.0v1.0h-1.0zM127.9 132.0h1.0v1.0h-1.0zM131.1 131.9h1.0v1.0h-1.0zM140.7 131.9h1.0v1.0h-1.0zM143.2 132.1h1.0v1.0h-1.0zM90.8 133.0h1.0v1.0h-1.0zM94.0 132.8h1.0v1.0h-1.0zM96.8 132.7h1.0v1.0h-1.0zM98.3 133.1h1.0v1.0h-1.0zM101.3 132.8h1.0v1.0h-1.0zM105.0 133.3h1.0v1.0h-1.0zM108.7 132.8h1.0v1.0h-1.0zM110.1 133.2h1.0v1.0h-1.0zM115.0 132.8h1.0v1.0h-1.0zM116.0 132.8h1.0v1.0h-1.0zM119.3 133.0h1.0v1.0h-1.0zM119.8 132.8h1.0v1.0h-1.0zM122.9 133.2h1.0v1.0h-1.0zM129.0 133.3h1.0v1.0h-1.0zM133.7 133.1h1.0v1.0h-1.0zM137.2 133.0h1.0v1.0h-1.0zM150.8 133.2h1.0v1.0h-1.0zM89.0 133.9h1.0v1.0h-1.0zM90.7 134.1h1.0v1.0h-1.0zM91.9 134.1h1.0v1.0h-1.0zM95.3 133.9h1.0v1.0h-1.0zM97.9 134.0h1.0v1.0h-1.0zM101.3 134.3h1.0v1.0h-1.0zM102.2 134.1h1.0v1.0h-1.0zM104.9 133.8h1.0v1.0h-1.0zM105.7 133.9h1.0v1.0h-1.0zM107.0 133.8h1.0v1.0h-1.0zM108.8 134.0h1.0v1.0h-1.0zM110.9 133.9h1.0v1.0h-1.0zM112.8 133.9h1.0v1.0h-1.0zM118.1 133.9h1.0v1.0h-1.0zM119.0 133.9h1.0v1.0h-1.0zM126.1 134.1h1.0v1.0h-1.0zM129.3 134.0h1.0v1.0h-1.0zM131.7 133.7h1.0v1.0h-1.0zM135.8 134.1h1.0v1.0h-1.0zM151.1 133.9h1.0v1.0h-1.0zM89.9 134.8h1.0v1.0h-1.0zM93.7 135.2h1.0v1.0h-1.0zM98.3 135.2h1.0v1.0h-1.0zM100.8 135.2h1.0v1.0h-1.0zM107.3 135.2h1.0v1.0h-1.0zM108.1 135.1h1.0v1.0h-1.0zM109.8 135.0h1.0v1.0h-1.0zM119.8 134.9h1.0v1.0h-1.0zM122.0 135.0h1.0v1.0h-1.0zM124.7 135.2h1.0v1.0h-1.0zM131.3 135.1h1.0v1.0h-1.0zM137.1 134.8h1.0v1.0h-1.0zM138.0 135.2h1.0v1.0h-1.0zM150.0 135.2h1.0v1.0h-1.0zM90.9 136.2h1.0v1.0h-1.0zM92.7 135.8h1.0v1.0h-1.0zM94.1 135.9h1.0v1.0h-1.0zM94.7 136.1h1.0v1.0h-1.0zM99.9 135.8h1.0v1.0h-1.0zM102.0 136.0h1.0v1.0h-1.0zM109.1 135.9h1.0v1.0h-1.0zM111.0 136.3h1.0v1.0h-1.0zM112.9 136.1h1.0v1.0h-1.0zM114.0 136.0h1.0v1.0h-1.0zM115.9 136.1h1.0v1.0h-1.0zM120.3 135.9h1.0v1.0h-1.0zM126.2 136.1h1.0v1.0h-1.0zM127.1 136.2h1.0v1.0h-1.0zM128.2 135.8h1.0v1.0h-1.0zM139.2 135.7h1.0v1.0h-1.0zM141.0 136.2h1.0v1.0h-1.0zM89.8 136.7h1.0v1.0h-1.0zM90.8 137.1h1.0v1.0h-1.0zM92.2 137.0h1.0v1.0h-1.0zM94.9 137.2h1.0v1.0h-1.0zM97.9 136.7h1.0v1.0h-1.0zM101.1 136.7h1.0v1.0h-1.0zM104.3 136.9h1.0v1.0h-1.0zM107.7 137.0h1.0v1.0h-1.0zM110.0 137.0h1.0v1.0h-1.0zM111.2 137.1h1.0v1.0h-1.0zM114.0 137.1h1.0v1.0h-1.0zM114.9 137.3h1.0v1.0h-1.0zM119.8 137.2h1.0v1.0h-1.0zM123.3 136.7h1.0v1.0h-1.0zM131.9 136.7h1.0v1.0h-1.0zM134.0 137.2h1.0v1.0h-1.0zM136.3 137.1h1.0v1.0h-1.0zM137.1 137.0h1.0v1.0h-1.0zM142.0 136.7h1.0v1.0h-1.0zM143.9 136.8h1.0v1.0h-1.0zM148.7 137.2h1.0v1.0h-1.0zM89.1 137.9h1.0v1.0h-1.0zM90.9 137.9h1.0v1.0h-1.0zM92.0 138.3h1.0v1.0h-1.0zM94.9 137.9h1.0v1.0h-1.0zM95.8 138.2h1.0v1.0h-1.0zM97.8 138.1h1.0v1.0h-1.0zM99.9 138.1h1.0v1.0h-1.0zM102.1 137.8h1.0v1.0h-1.0zM103.2 137.8h1.0v1.0h-1.0zM103.8 138.0h1.0v1.0h-1.0zM105.3 137.8h1.0v1.0h-1.0zM107.3 138.1h1.0v1.0h-1.0zM110.8 137.7h1.0v1.0h-1.0zM112.2 138.1h1.0v1.0h-1.0zM112.9 138.1h1.0v1.0h-1.0zM118.8 138.0h1.0v1.0h-1.0zM121.3 137.8h1.0v1.0h-1.0zM122.9 137.7h1.0v1.0h-1.0zM125.7 138.0h1.0v1.0h-1.0zM126.9 137.8h1.0v1.0h-1.0zM129.0 137.8h1.0v1.0h-1.0zM132.3 137.9h1.0v1.0h-1.0zM138.0 137.9h1.0v1.0h-1.0zM139.2 138.0h1.0v1.0h-1.0zM147.1 137.7h1.0v1.0h-1.0zM89.2 139.1h1.0v1.0h-1.0zM91.0 139.0h1.0v1.0h-1.0zM92.8 139.2h1.0v1.0h-1.0zM93.8 138.8h1.0v1.0h-1.0zM94.9 138.9h1.0v1.0h-1.0zM98.2 139.2h1.0v1.0h-1.0zM99.2 139.0h1.0v1.0h-1.0zM100.2 139.3h1.0v1.0h-1.0zM101.2 138.7h1.0v1.0h-1.0zM102.7 139.1h1.0v1.0h-1.0zM103.8 139.0h1.0v1.0h-1.0zM107.1 139.2h1.0v1.0h-1.0zM110.2 139.2h1.0v1.0h-1.0zM113.2 139.2h1.0v1.0h-1.0zM113.7 138.9h1.0v1.0h-1.0zM115.2 138.8h1.0v1.0h-1.0zM120.2 139.2h1.0v1.0h-1.0zM122.2 139.1h1.0v1.0h-1.0zM125.9 138.9h1.0v1.0h-1.0zM129.0 139.2h1.0v1.0h-1.0zM133.0 139.1h1.0v1.0h-1.0zM137.8 138.8h1.0v1.0h-1.0zM147.1 139.2h1.0v1.0h-1.0zM151.1 138.7h1.0v1.0h-1.0zM88.8 140.0h1.0v1.0h-1.0zM90.1 140.2h1.0v1.0h-1.0zM90.9 140.2h1.0v1.0h-1.0zM91.7 139.9h1.0v1.0h-1.0zM94.7 140.1h1.0v1.0h-1.0zM97.8 139.9h1.0v1.0h-1.0zM99.2 140.2h1.0v1.0h-1.0zM100.1 139.9h1.0v1.0h-1.0zM102.1 140.1h1.0v1.0h-1.0zM103.2 139.9h1.0v1.0h-1.0zM106.1 139.8h1.0v1.0h-1.0zM108.0 139.8h1.0v1.0h-1.0zM109.8 139.8h1.0v1.0h-1.0zM113.0 139.9h1.0v1.0h-1.0zM113.8 140.0h1.0v1.0h-1.0zM114.9 140.2h1.0v1.0h-1.0zM118.1 140.2h1.0v1.0h-1.0zM124.0 140.0h1.0v1.0h-1.0zM128.8 140.2h1.0v1.0h-1.0zM134.2 139.8h1.0v1.0h-1.0zM135.3 140.0h1.0v1.0h-1.0zM135.8 140.2h1.0v1.0h-1.0zM138.0 140.1h1.0v1.0h-1.0zM142.1 140.0h1.0v1.0h-1.0zM88.9 141.2h1.0v1.0h-1.0zM91.9 140.9h1.0v1.0h-1.0zM93.0 140.8h1.0v1.0h-1.0zM95.2 140.9h1.0v1.0h-1.0zM96.1 140.8h1.0v1.0h-1.0zM103.0 140.9h1.0v1.0h-1.0zM104.1 141.2h1.0v1.0h-1.0zM112.0 141.0h1.0v1.0h-1.0zM116.9 140.8h1.0v1.0h-1.0zM123.8 141.1h1.0v1.0h-1.0zM125.1 140.8h1.0v1.0h-1.0zM126.3 140.9h1.0v1.0h-1.0zM133.3 141.1h1.0v1.0h-1.0zM137.0 140.9h1.0v1.0h-1.0zM139.8 141.1h1.0v1.0h-1.0zM141.3 140.8h1.0v1.0h-1.0zM147.2 141.1h1.0v1.0h-1.0zM149.8 140.9h1.0v1.0h-1.0zM89.2 141.9h1.0v1.0h-1.0zM89.8 142.0h1.0v1.0h-1.0zM92.3 142.0h1.0v1.0h-1.0zM98.2 142.2h1.0v1.0h-1.0zM99.9 141.7h1.0v1.0h-1.0zM103.3 141.9h1.0v1.0h-1.0zM110.0 142.3h1.0v1.0h-1.0zM112.3 141.8h1.0v1.0h-1.0zM113.1 142.0h1.0v1.0h-1.0zM116.8 142.0h1.0v1.0h-1.0zM117.9 141.8h1.0v1.0h-1.0zM122.2 142.2h1.0v1.0h-1.0zM129.3 142.2h1.0v1.0h-1.0zM138.9 142.3h1.0v1.0h-1.0zM143.7 142.1h1.0v1.0h-1.0zM147.1 141.9h1.0v1.0h-1.0zM151.1 141.8h1.0v1.0h-1.0zM88.8 142.8h1.0v1.0h-1.0zM91.1 143.1h1.0v1.0h-1.0zM92.3 143.2h1.0v1.0h-1.0zM94.9 142.9h1.0v1.0h-1.0zM100.7 142.8h1.0v1.0h-1.0zM102.9 142.8h1.0v1.0h-1.0zM109.9 142.7h1.0v1.0h-1.0zM111.1 142.7h1.0v1.0h-1.0zM114.1 142.8h1.0v1.0h-1.0zM114.9 142.9h1.0v1.0h-1.0zM117.1 142.8h1.0v1.0h-1.0zM117.9 143.2h1.0v1.0h-1.0zM118.8 142.7h1.0v1.0h-1.0zM121.1 142.8h1.0v1.0h-1.0zM125.1 143.2h1.0v1.0h-1.0zM128.0 143.1h1.0v1.0h-1.0zM128.9 143.2h1.0v1.0h-1.0zM130.9 143.2h1.0v1.0h-1.0zM131.7 143.2h1.0v1.0h-1.0zM134.0 143.3h1.0v1.0h-1.0zM134.9 143.1h1.0v1.0h-1.0zM137.8 142.8h1.0v1.0h-1.0zM149.8 143.2h1.0v1.0h-1.0zM89.2 143.8h1.0v1.0h-1.0zM89.7 143.7h1.0v1.0h-1.0zM90.8 144.3h1.0v1.0h-1.0zM91.7 143.7h1.0v1.0h-1.0zM93.2 144.0h1.0v1.0h-1.0zM95.1 144.0h1.0v1.0h-1.0zM96.3 144.0h1.0v1.0h-1.0zM99.8 144.2h1.0v1.0h-1.0zM102.2 143.9h1.0v1.0h-1.0zM105.7 144.2h1.0v1.0h-1.0zM107.7 144.0h1.0v1.0h-1.0zM109.3 143.7h1.0v1.0h-1.0zM110.1 144.3h1.0v1.0h-1.0zM111.9 144.1h1.0v1.0h-1.0zM112.8 144.3h1.0v1.0h-1.0zM114.0 143.8h1.0v1.0h-1.0zM114.8 144.0h1.0v1.0h-1.0zM117.2 144.0h1.0v1.0h-1.0zM119.8 143.9h1.0v1.0h-1.0zM126.2 143.9h1.0v1.0h-1.0zM129.8 143.8h1.0v1.0h-1.0zM137.1 143.7h1.0v1.0h-1.0zM138.0 143.9h1.0v1.0h-1.0zM143.9 143.7h1.0v1.0h-1.0zM145.2 144.2h1.0v1.0h-1.0zM149.2 144.1h1.0v1.0h-1.0zM89.0 145.2h1.0v1.0h-1.0zM90.0 144.9h1.0v1.0h-1.0zM91.1 145.0h1.0v1.0h-1.0zM92.9 145.3h1.0v1.0h-1.0zM96.2 145.0h1.0v1.0h-1.0zM96.9 144.8h1.0v1.0h-1.0zM101.0 145.1h1.0v1.0h-1.0zM102.2 144.8h1.0v1.0h-1.0zM103.0 145.3h1.0v1.0h-1.0zM106.9 144.9h1.0v1.0h-1.0zM108.2 145.0h1.0v1.0h-1.0zM126.3 145.0h1.0v1.0h-1.0zM133.8 145.2h1.0v1.0h-1.0zM90.8 146.2h1.0v1.0h-1.0zM92.0 145.9h1.0v1.0h-1.0zM93.2 145.7h1.0v1.0h-1.0zM94.0 146.1h1.0v1.0h-1.0zM94.7 145.9h1.0v1.0h-1.0zM96.1 145.8h1.0v1.0h-1.0zM97.3 145.8h1.0v1.0h-1.0zM98.7 145.9h1.0v1.0h-1.0zM100.3 145.8h1.0v1.0h-1.0zM101.0 146.3h1.0v1.0h-1.0zM103.2 146.2h1.0v1.0h-1.0zM105.2 145.8h1.0v1.0h-1.0zM106.9 146.2h1.0v1.0h-1.0zM109.2 145.8h1.0v1.0h-1.0zM109.9 146.3h1.0v1.0h-1.0zM112.8 145.8h1.0v1.0h-1.0zM114.8 146.0h1.0v1.0h-1.0zM116.0 146.2h1.0v1.0h-1.0zM118.0 146.1h1.0v1.0h-1.0zM120.2 145.7h1.0v1.0h-1.0zM121.8 146.0h1.0v1.0h-1.0zM124.1 146.1h1.0v1.0h-1.0zM127.2 145.8h1.0v1.0h-1.0zM129.8 145.9h1.0v1.0h-1.0zM134.9 146.3h1.0v1.0h-1.0zM136.0 146.0h1.0v1.0h-1.0zM141.3 146.2h1.0v1.0h-1.0zM89.8 147.2h1.0v1.0h-1.0zM93.2 146.9h1.0v1.0h-1.0zM96.2 146.8h1.0v1.0h-1.0zM96.7 146.8h1.0v1.0h-1.0zM98.3 147.0h1.0v1.0h-1.0zM98.7 146.8h1.0v1.0h-1.0zM100.0 147.2h1.0v1.0h-1.0zM101.3 146.7h1.0v1.0h-1.0zM101.8 147.1h1.0v1.0h-1.0zM104.2 147.0h1.0v1.0h-1.0zM104.9 146.8h1.0v1.0h-1.0zM108.8 146.7h1.0v1.0h-1.0zM115.2 147.1h1.0v1.0h-1.0zM117.1 147.3h1.0v1.0h-1.0zM120.7 146.9h1.0v1.0h-1.0zM124.2 146.8h1.0v1.0h-1.0zM127.8 147.2h1.0v1.0h-1.0zM129.2 147.1h1.0v1.0h-1.0zM133.0 146.8h1.0v1.0h-1.0zM134.3 147.1h1.0v1.0h-1.0zM136.0 146.8h1.0v1.0h-1.0zM143.1 147.1h1.0v1.0h-1.0zM145.3 146.9h1.0v1.0h-1.0zM146.9 146.8h1.0v1.0h-1.0zM88.9 147.9h1.0v1.0h-1.0zM90.2 148.3h1.0v1.0h-1.0zM91.7 147.7h1.0v1.0h-1.0zM93.1 148.1h1.0v1.0h-1.0zM93.8 148.1h1.0v1.0h-1.0zM94.9 148.0h1.0v1.0h-1.0zM95.8 147.9h1.0v1.0h-1.0zM97.9 148.3h1.0v1.0h-1.0zM102.0 148.1h1.0v1.0h-1.0zM105.2 148.0h1.0v1.0h-1.0zM106.1 148.1h1.0v1.0h-1.0zM107.9 148.1h1.0v1.0h-1.0zM110.2 148.1h1.0v1.0h-1.0zM111.9 147.8h1.0v1.0h-1.0zM115.3 148.2h1.0v1.0h-1.0zM117.8 148.0h1.0v1.0h-1.0zM124.2 147.9h1.0v1.0h-1.0zM126.8 148.0h1.0v1.0h-1.0zM129.9 147.9h1.0v1.0h-1.0zM135.0 148.2h1.0v1.0h-1.0zM137.8 147.8h1.0v1.0h-1.0zM139.7 147.7h1.0v1.0h-1.0zM150.0 148.2h1.0v1.0h-1.0zM89.1 149.3h1.0v1.0h-1.0zM89.8 148.9h1.0v1.0h-1.0zM92.0 149.0h1.0v1.0h-1.0zM93.3 148.8h1.0v1.0h-1.0zM94.9 148.9h1.0v1.0h-1.0zM95.8 148.9h1.0v1.0h-1.0zM97.0 148.8h1.0v1.0h-1.0zM99.0 148.8h1.0v1.0h-1.0zM100.1 148.8h1.0v1.0h-1.0zM101.8 149.1h1.0v1.0h-1.0zM103.2 149.1h1.0v1.0h-1.0zM104.9 149.1h1.0v1.0h-1.0zM105.8 148.7h1.0v1.0h-1.0zM107.0 148.9h1.0v1.0h-1.0zM109.8 148.7h1.0v1.0h-1.0zM111.2 149.1h1.0v1.0h-1.0zM114.2 149.2h1.0v1.0h-1.0zM115.0 148.8h1.0v1.0h-1.0zM116.8 148.8h1.0v1.0h-1.0zM122.2 149.2h1.0v1.0h-1.0zM123.3 148.8h1.0v1.0h-1.0zM123.8 149.1h1.0v1.0h-1.0zM130.0 148.9h1.0v1.0h-1.0zM136.8 148.8h1.0v1.0h-1.0zM149.9 149.0h1.0v1.0h-1.0zM92.1 150.2h1.0v1.0h-1.0zM92.8 150.1h1.0v1.0h-1.0zM94.8 149.9h1.0v1.0h-1.0zM96.1 150.0h1.0v1.0h-1.0zM97.2 150.1h1.0v1.0h-1.0zM97.8 150.3h1.0v1.0h-1.0zM100.2 150.2h1.0v1.0h-1.0zM101.9 150.1h1.0v1.0h-1.0zM103.3 150.2h1.0v1.0h-1.0zM103.8 149.9h1.0v1.0h-1.0zM107.0 150.0h1.0v1.0h-1.0zM107.8 149.9h1.0v1.0h-1.0zM109.2 150.1h1.0v1.0h-1.0zM112.8 149.8h1.0v1.0h-1.0zM115.0 149.9h1.0v1.0h-1.0zM128.8 149.7h1.0v1.0h-1.0zM132.3 150.0h1.0v1.0h-1.0zM133.8 149.7h1.0v1.0h-1.0zM142.3 150.0h1.0v1.0h-1.0zM145.1 150.0h1.0v1.0h-1.0zM147.9 150.2h1.0v1.0h-1.0zM89.0 151.1h1.0v1.0h-1.0zM90.3 150.8h1.0v1.0h-1.0zM91.2 151.0h1.0v1.0h-1.0zM92.0 150.7h1.0v1.0h-1.0zM93.1 151.0h1.0v1.0h-1.0zM94.8 151.1h1.0v1.0h-1.0zM96.2 150.8h1.0v1.0h-1.0zM98.2 151.0h1.0v1.0h-1.0zM105.1 151.2h1.0v1.0h-1.0zM106.8 151.2h1.0v1.0h-1.0zM107.9 150.9h1.0v1.0h-1.0zM109.0 150.9h1.0v1.0h-1.0zM111.2 151.1h1.0v1.0h-1.0zM113.2 150.9h1.0v1.0h-1.0zM113.8 151.3h1.0v1.0h-1.0zM116.3 150.8h1.0v1.0h-1.0zM117.2 151.2h1.0v1.0h-1.0zM122.7 150.8h1.0v1.0h-1.0zM125.3 150.9h1.0v1.0h-1.0zM130.9 150.8h1.0v1.0h-1.0zM137.0 151.2h1.0v1.0h-1.0zM139.1 150.9h1.0v1.0h-1.0zM140.2 150.9h1.0v1.0h-1.0zM141.3 151.0h1.0v1.0h-1.0zM150.0 151.3h1.0v1.0h-1.0zM89.1 152.2h1.0v1.0h-1.0zM89.7 151.8h1.0v1.0h-1.0zM93.0 151.9h1.0v1.0h-1.0zM94.0 152.0h1.0v1.0h-1.0zM94.9 152.1h1.0v1.0h-1.0zM96.1 151.9h1.0v1.0h-1.0zM99.3 151.9h1.0v1.0h-1.0zM101.3 152.2h1.0v1.0h-1.0zM102.2 152.1h1.0v1.0h-1.0zM104.3 152.2h1.0v1.0h-1.0zM106.8 152.3h1.0v1.0h-1.0zM107.8 152.2h1.0v1.0h-1.0zM109.9 151.7h1.0v1.0h-1.0zM111.9 152.1h1.0v1.0h-1.0zM113.9 151.9h1.0v1.0h-1.0zM116.0 152.1h1.0v1.0h-1.0zM119.9 152.2h1.0v1.0h-1.0zM121.1 152.1h1.0v1.0h-1.0zM123.1 151.8h1.0v1.0h-1.0zM125.0 151.9h1.0v1.0h-1.0zM126.1 151.9h1.0v1.0h-1.0zM129.2 152.0h1.0v1.0h-1.0zM130.7 151.9h1.0v1.0h-1.0zM147.8 152.2h1.0v1.0h-1.0z" fill="#7a2a2a" fill-opacity="0.75"/>
</g><g clip-path="url(#cg)">
<path d="M88.8 153.0h1.0v1.0h-1.0zM90.8 152.7h1.0v1.0h-1.0zM93.3 153.1h1.0v1.0h-1.0zM94.0 152.9h1.0v1.0h-1.0zM97.8 153.1h1.0v1.0h-1.0zM98.9 152.9h1.0v1.0h-1.0zM101.0 153.3h1.0v1.0h-1.0zM105.9 153.3h1.0v1.0h-1.0zM108.0 153.2h1.0v1.0h-1.0zM110.2 153.2h1.0v1.0h-1.0zM112.8 153.1h1.0v1.0h-1.0zM118.0 152.8h1.0v1.0h-1.0zM118.8 153.1h1.0v1.0h-1.0zM122.2 153.1h1.0v1.0h-1.0zM124.1 152.8h1.0v1.0h-1.0zM130.1 152.9h1.0v1.0h-1.0zM134.8 152.8h1.0v1.0h-1.0zM136.0 152.7h1.0v1.0h-1.0zM146.0 153.3h1.0v1.0h-1.0zM148.8 153.1h1.0v1.0h-1.0zM89.2 154.2h1.0v1.0h-1.0zM89.9 154.1h1.0v1.0h-1.0zM90.9 153.8h1.0v1.0h-1.0zM92.3 154.2h1.0v1.0h-1.0zM92.8 154.1h1.0v1.0h-1.0zM94.2 154.1h1.0v1.0h-1.0zM94.8 154.1h1.0v1.0h-1.0zM96.3 153.8h1.0v1.0h-1.0zM97.3 153.8h1.0v1.0h-1.0zM98.2 154.3h1.0v1.0h-1.0zM98.9 153.8h1.0v1.0h-1.0zM99.7 153.8h1.0v1.0h-1.0zM102.8 154.3h1.0v1.0h-1.0zM103.8 154.2h1.0v1.0h-1.0zM105.1 153.9h1.0v1.0h-1.0zM105.9 154.2h1.0v1.0h-1.0zM109.1 153.8h1.0v1.0h-1.0zM112.1 154.3h1.0v1.0h-1.0zM115.0 153.8h1.0v1.0h-1.0zM117.0 154.2h1.0v1.0h-1.0zM118.1 154.2h1.0v1.0h-1.0zM121.9 154.2h1.0v1.0h-1.0zM126.7 153.9h1.0v1.0h-1.0zM128.1 154.0h1.0v1.0h-1.0zM130.1 154.0h1.0v1.0h-1.0zM132.9 153.8h1.0v1.0h-1.0zM143.8 154.2h1.0v1.0h-1.0zM89.0 154.8h1.0v1.0h-1.0zM91.3 155.2h1.0v1.0h-1.0zM93.0 154.8h1.0v1.0h-1.0zM95.2 154.7h1.0v1.0h-1.0zM96.2 155.1h1.0v1.0h-1.0zM96.7 154.8h1.0v1.0h-1.0zM98.0 155.1h1.0v1.0h-1.0zM99.2 154.7h1.0v1.0h-1.0zM101.1 155.1h1.0v1.0h-1.0zM102.1 155.2h1.0v1.0h-1.0zM105.1 155.0h1.0v1.0h-1.0zM107.1 154.9h1.0v1.0h-1.0zM109.9 155.1h1.0v1.0h-1.0zM111.1 154.9h1.0v1.0h-1.0zM114.9 155.2h1.0v1.0h-1.0zM116.9 154.9h1.0v1.0h-1.0zM120.2 154.8h1.0v1.0h-1.0zM125.0 154.8h1.0v1.0h-1.0zM129.7 154.9h1.0v1.0h-1.0zM130.9 155.1h1.0v1.0h-1.0zM137.2 154.9h1.0v1.0h-1.0zM137.7 154.8h1.0v1.0h-1.0zM144.8 155.0h1.0v1.0h-1.0zM89.0 155.9h1.0v1.0h-1.0zM89.9 156.1h1.0v1.0h-1.0zM93.0 155.8h1.0v1.0h-1.0zM97.0 155.8h1.0v1.0h-1.0zM98.1 155.7h1.0v1.0h-1.0zM99.9 155.9h1.0v1.0h-1.0zM101.9 156.3h1.0v1.0h-1.0zM102.9 155.9h1.0v1.0h-1.0zM104.0 155.8h1.0v1.0h-1.0zM106.0 156.0h1.0v1.0h-1.0zM110.3 156.3h1.0v1.0h-1.0zM115.2 155.8h1.0v1.0h-1.0zM117.0 155.9h1.0v1.0h-1.0zM120.9 156.3h1.0v1.0h-1.0zM123.0 155.7h1.0v1.0h-1.0zM125.1 156.0h1.0v1.0h-1.0zM129.1 155.8h1.0v1.0h-1.0zM130.8 156.1h1.0v1.0h-1.0zM135.1 155.8h1.0v1.0h-1.0zM137.2 156.0h1.0v1.0h-1.0zM149.2 156.1h1.0v1.0h-1.0zM89.0 157.0h1.0v1.0h-1.0zM90.1 157.2h1.0v1.0h-1.0zM93.1 157.2h1.0v1.0h-1.0zM93.8 157.2h1.0v1.0h-1.0zM95.9 156.9h1.0v1.0h-1.0zM97.3 156.9h1.0v1.0h-1.0zM98.9 157.2h1.0v1.0h-1.0zM104.2 157.2h1.0v1.0h-1.0zM106.1 157.3h1.0v1.0h-1.0zM107.1 156.8h1.0v1.0h-1.0zM107.8 157.3h1.0v1.0h-1.0zM109.8 157.0h1.0v1.0h-1.0zM110.8 156.7h1.0v1.0h-1.0zM112.1 157.0h1.0v1.0h-1.0zM113.0 157.1h1.0v1.0h-1.0zM117.0 156.8h1.0v1.0h-1.0zM120.8 156.9h1.0v1.0h-1.0zM124.1 156.8h1.0v1.0h-1.0zM125.8 157.1h1.0v1.0h-1.0zM126.9 156.9h1.0v1.0h-1.0zM129.8 157.2h1.0v1.0h-1.0zM135.8 157.2h1.0v1.0h-1.0zM138.2 157.3h1.0v1.0h-1.0zM140.8 156.7h1.0v1.0h-1.0zM142.0 156.7h1.0v1.0h-1.0zM144.1 156.9h1.0v1.0h-1.0zM149.1 156.9h1.0v1.0h-1.0zM88.9 158.2h1.0v1.0h-1.0zM90.3 158.1h1.0v1.0h-1.0zM92.9 158.3h1.0v1.0h-1.0zM93.9 157.8h1.0v1.0h-1.0zM104.8 157.9h1.0v1.0h-1.0zM109.1 157.7h1.0v1.0h-1.0zM110.3 158.2h1.0v1.0h-1.0zM111.2 158.3h1.0v1.0h-1.0zM114.0 158.0h1.0v1.0h-1.0zM121.1 158.3h1.0v1.0h-1.0zM122.1 157.8h1.0v1.0h-1.0zM125.1 158.0h1.0v1.0h-1.0zM128.2 157.8h1.0v1.0h-1.0zM133.3 157.9h1.0v1.0h-1.0zM135.8 157.8h1.0v1.0h-1.0zM142.9 157.7h1.0v1.0h-1.0zM89.9 159.0h1.0v1.0h-1.0zM92.2 158.7h1.0v1.0h-1.0zM93.0 159.0h1.0v1.0h-1.0zM95.1 158.9h1.0v1.0h-1.0zM96.1 159.2h1.0v1.0h-1.0zM98.2 159.1h1.0v1.0h-1.0zM100.0 158.7h1.0v1.0h-1.0zM103.0 159.1h1.0v1.0h-1.0zM105.3 158.9h1.0v1.0h-1.0zM109.7 159.0h1.0v1.0h-1.0zM113.1 159.3h1.0v1.0h-1.0zM115.1 159.2h1.0v1.0h-1.0zM115.9 158.9h1.0v1.0h-1.0zM117.2 159.1h1.0v1.0h-1.0zM120.7 159.0h1.0v1.0h-1.0zM121.9 159.2h1.0v1.0h-1.0zM124.0 159.0h1.0v1.0h-1.0zM125.8 159.0h1.0v1.0h-1.0zM128.0 159.2h1.0v1.0h-1.0zM130.2 158.8h1.0v1.0h-1.0zM131.9 159.0h1.0v1.0h-1.0zM133.8 159.2h1.0v1.0h-1.0zM138.8 159.2h1.0v1.0h-1.0zM146.9 159.1h1.0v1.0h-1.0zM150.9 158.9h1.0v1.0h-1.0zM91.8 160.0h1.0v1.0h-1.0zM93.0 159.7h1.0v1.0h-1.0zM94.1 160.3h1.0v1.0h-1.0zM95.1 160.1h1.0v1.0h-1.0zM96.0 160.1h1.0v1.0h-1.0zM98.2 159.8h1.0v1.0h-1.0zM99.1 160.1h1.0v1.0h-1.0zM100.9 159.8h1.0v1.0h-1.0zM103.2 159.8h1.0v1.0h-1.0zM104.8 159.8h1.0v1.0h-1.0zM106.3 159.9h1.0v1.0h-1.0zM106.7 160.0h1.0v1.0h-1.0zM108.1 160.2h1.0v1.0h-1.0zM109.9 160.0h1.0v1.0h-1.0zM111.8 160.2h1.0v1.0h-1.0zM116.1 159.8h1.0v1.0h-1.0zM117.8 160.0h1.0v1.0h-1.0zM120.3 159.9h1.0v1.0h-1.0zM121.9 159.9h1.0v1.0h-1.0zM129.9 159.8h1.0v1.0h-1.0zM133.8 159.8h1.0v1.0h-1.0zM142.8 159.8h1.0v1.0h-1.0zM150.1 159.9h1.0v1.0h-1.0zM89.0 161.0h1.0v1.0h-1.0zM91.2 161.1h1.0v1.0h-1.0zM92.2 161.2h1.0v1.0h-1.0zM93.7 161.3h1.0v1.0h-1.0zM96.3 161.3h1.0v1.0h-1.0zM97.1 161.0h1.0v1.0h-1.0zM97.8 161.1h1.0v1.0h-1.0zM99.8 160.8h1.0v1.0h-1.0zM101.1 161.1h1.0v1.0h-1.0zM102.0 161.1h1.0v1.0h-1.0zM104.0 161.1h1.0v1.0h-1.0zM106.3 160.9h1.0v1.0h-1.0zM110.2 161.1h1.0v1.0h-1.0zM111.1 160.8h1.0v1.0h-1.0zM127.3 160.9h1.0v1.0h-1.0zM129.0 160.9h1.0v1.0h-1.0zM132.8 161.0h1.0v1.0h-1.0zM135.9 161.3h1.0v1.0h-1.0zM146.2 161.3h1.0v1.0h-1.0zM150.1 161.2h1.0v1.0h-1.0zM89.3 162.2h1.0v1.0h-1.0zM90.7 161.8h1.0v1.0h-1.0zM92.0 162.0h1.0v1.0h-1.0zM94.1 162.0h1.0v1.0h-1.0zM95.3 161.9h1.0v1.0h-1.0zM95.9 162.2h1.0v1.0h-1.0zM96.9 161.7h1.0v1.0h-1.0zM97.9 162.2h1.0v1.0h-1.0zM103.7 161.7h1.0v1.0h-1.0zM107.0 161.9h1.0v1.0h-1.0zM109.9 162.1h1.0v1.0h-1.0zM112.1 162.2h1.0v1.0h-1.0zM113.8 162.2h1.0v1.0h-1.0zM115.2 162.2h1.0v1.0h-1.0zM118.2 162.1h1.0v1.0h-1.0zM119.2 162.2h1.0v1.0h-1.0zM121.1 161.7h1.0v1.0h-1.0zM122.7 161.8h1.0v1.0h-1.0zM125.2 161.8h1.0v1.0h-1.0zM125.8 162.2h1.0v1.0h-1.0zM131.0 162.2h1.0v1.0h-1.0zM132.7 162.1h1.0v1.0h-1.0zM133.7 161.7h1.0v1.0h-1.0zM134.9 161.8h1.0v1.0h-1.0zM137.2 162.0h1.0v1.0h-1.0zM137.8 162.2h1.0v1.0h-1.0zM138.7 162.0h1.0v1.0h-1.0zM141.9 162.0h1.0v1.0h-1.0zM144.0 162.2h1.0v1.0h-1.0zM147.0 162.2h1.0v1.0h-1.0zM89.0 163.2h1.0v1.0h-1.0zM92.8 163.3h1.0v1.0h-1.0zM94.1 162.9h1.0v1.0h-1.0zM94.9 163.2h1.0v1.0h-1.0zM96.8 163.2h1.0v1.0h-1.0zM98.0 163.0h1.0v1.0h-1.0zM98.9 163.2h1.0v1.0h-1.0zM104.1 163.1h1.0v1.0h-1.0zM104.9 162.8h1.0v1.0h-1.0zM106.0 162.8h1.0v1.0h-1.0zM107.1 163.0h1.0v1.0h-1.0zM109.2 162.8h1.0v1.0h-1.0zM109.7 162.8h1.0v1.0h-1.0zM110.8 162.8h1.0v1.0h-1.0zM113.7 162.9h1.0v1.0h-1.0zM120.0 163.1h1.0v1.0h-1.0zM123.2 162.8h1.0v1.0h-1.0zM126.8 163.0h1.0v1.0h-1.0zM131.8 163.2h1.0v1.0h-1.0zM134.2 163.2h1.0v1.0h-1.0zM134.9 163.2h1.0v1.0h-1.0zM138.1 162.7h1.0v1.0h-1.0zM139.1 163.2h1.0v1.0h-1.0zM140.8 163.0h1.0v1.0h-1.0zM141.8 162.7h1.0v1.0h-1.0zM147.9 163.2h1.0v1.0h-1.0zM88.8 164.2h1.0v1.0h-1.0zM91.9 164.0h1.0v1.0h-1.0zM94.9 163.7h1.0v1.0h-1.0zM96.7 164.0h1.0v1.0h-1.0zM103.3 164.2h1.0v1.0h-1.0zM107.2 164.0h1.0v1.0h-1.0zM108.1 163.9h1.0v1.0h-1.0zM109.9 163.9h1.0v1.0h-1.0zM112.8 164.0h1.0v1.0h-1.0zM115.1 163.9h1.0v1.0h-1.0zM117.0 164.3h1.0v1.0h-1.0zM121.2 164.3h1.0v1.0h-1.0zM122.8 163.9h1.0v1.0h-1.0zM126.1 164.1h1.0v1.0h-1.0zM131.1 164.2h1.0v1.0h-1.0zM133.1 164.0h1.0v1.0h-1.0zM139.1 164.3h1.0v1.0h-1.0zM143.2 163.8h1.0v1.0h-1.0zM147.8 164.2h1.0v1.0h-1.0zM151.3 164.1h1.0v1.0h-1.0zM89.0 164.7h1.0v1.0h-1.0zM90.0 165.0h1.0v1.0h-1.0zM91.1 165.1h1.0v1.0h-1.0zM98.8 164.8h1.0v1.0h-1.0zM100.3 164.9h1.0v1.0h-1.0zM101.1 164.9h1.0v1.0h-1.0zM102.8 164.9h1.0v1.0h-1.0zM104.3 165.3h1.0v1.0h-1.0zM104.9 164.8h1.0v1.0h-1.0zM105.9 165.2h1.0v1.0h-1.0zM107.9 165.2h1.0v1.0h-1.0zM110.0 165.0h1.0v1.0h-1.0zM115.0 164.7h1.0v1.0h-1.0zM115.8 165.0h1.0v1.0h-1.0zM116.8 164.8h1.0v1.0h-1.0zM118.3 165.3h1.0v1.0h-1.0zM118.9 165.0h1.0v1.0h-1.0zM125.3 164.7h1.0v1.0h-1.0zM134.0 165.1h1.0v1.0h-1.0zM135.2 165.0h1.0v1.0h-1.0zM135.8 165.0h1.0v1.0h-1.0zM136.8 165.2h1.0v1.0h-1.0zM141.9 164.8h1.0v1.0h-1.0z" fill="#2a5f2a" fill-opacity="0.75"/>
</g>
<path d="M69.1 123.2h1.0v1.0h-1.0zM69.0 128.3h1.0v1.0h-1.0zM72.7 127.8h1.0v1.0h-1.0zM79.1 128.1h1.0v1.0h-1.0zM82.9 128.1h1.0v1.0h-1.0zM76.2 129.1h1.0v1.0h-1.0zM78.2 128.8h1.0v1.0h-1.0zM83.1 128.7h1.0v1.0h-1.0zM72.2 129.9h1.0v1.0h-1.0zM86.0 130.9h1.0v1.0h-1.0zM77.3 132.0h1.0v1.0h-1.0zM83.0 132.3h1.0v1.0h-1.0zM66.2 133.3h1.0v1.0h-1.0zM74.9 133.2h1.0v1.0h-1.0zM79.8 133.0h1.0v1.0h-1.0zM81.2 133.2h1.0v1.0h-1.0zM84.9 133.3h1.0v1.0h-1.0zM70.1 134.1h1.0v1.0h-1.0zM73.8 133.8h1.0v1.0h-1.0zM75.1 134.3h1.0v1.0h-1.0zM77.0 134.2h1.0v1.0h-1.0zM81.9 134.2h1.0v1.0h-1.0zM84.9 134.3h1.0v1.0h-1.0zM69.2 135.1h1.0v1.0h-1.0zM75.1 134.9h1.0v1.0h-1.0zM76.0 135.2h1.0v1.0h-1.0zM77.9 134.7h1.0v1.0h-1.0zM83.0 135.1h1.0v1.0h-1.0zM85.1 135.0h1.0v1.0h-1.0zM65.0 136.0h1.0v1.0h-1.0zM65.9 136.3h1.0v1.0h-1.0zM68.1 136.1h1.0v1.0h-1.0zM69.1 136.1h1.0v1.0h-1.0zM70.0 136.3h1.0v1.0h-1.0zM72.1 135.9h1.0v1.0h-1.0zM73.3 136.2h1.0v1.0h-1.0zM73.8 136.2h1.0v1.0h-1.0zM82.7 135.9h1.0v1.0h-1.0zM68.8 137.2h1.0v1.0h-1.0zM70.3 137.0h1.0v1.0h-1.0zM76.9 137.2h1.0v1.0h-1.0zM77.9 137.0h1.0v1.0h-1.0zM79.2 137.3h1.0v1.0h-1.0zM81.0 136.8h1.0v1.0h-1.0zM82.0 137.3h1.0v1.0h-1.0zM63.7 138.3h1.0v1.0h-1.0zM65.8 137.9h1.0v1.0h-1.0zM67.8 137.8h1.0v1.0h-1.0zM69.2 138.0h1.0v1.0h-1.0zM69.8 138.2h1.0v1.0h-1.0zM80.1 137.9h1.0v1.0h-1.0zM80.8 137.9h1.0v1.0h-1.0zM83.1 138.0h1.0v1.0h-1.0zM63.9 138.8h1.0v1.0h-1.0zM65.8 139.3h1.0v1.0h-1.0zM68.1 138.7h1.0v1.0h-1.0zM69.8 139.0h1.0v1.0h-1.0zM73.0 139.0h1.0v1.0h-1.0zM75.7 139.1h1.0v1.0h-1.0zM77.2 139.1h1.0v1.0h-1.0zM78.3 139.2h1.0v1.0h-1.0zM83.8 139.0h1.0v1.0h-1.0z" fill="#5a5f9a" fill-opacity="0.8"/>
</g>
<line x1="88.8" y1="52.3" x2="88.8" y2="206.6" stroke="#444" stroke-width="1.1"/>
<line x1="52" y1="167.8" x2="190.3" y2="167.8" stroke="#444" stroke-width="1.2"/>
<ellipse cx="74.4" cy="151.5" rx="14.4" ry="16.6" fill="#c8c43a"/>
<ellipse cx="68.9" cy="185.2" rx="14.2" ry="17.6" fill="#1b2290"/>
<line x1="50.5" y1="173.5" x2="63.4" y2="179.4" stroke="#111" stroke-width="0.8"/>
<rect x="52.0" y="85.4" width="32.2" height="13.8" fill="#fff" stroke="#8a8a8a" stroke-width="1"/>
<text x="68.10" y="95.30" font-size="7.9" text-anchor="middle" fill="#333" stroke="#333" stroke-width="0.2" textLength="25.4" lengthAdjust="spacingAndGlyphs">Region 3</text>
<rect x="153.5" y="95.5" width="32.2" height="13.3" fill="#fff" stroke="#8a8a8a" stroke-width="1"/>
<text x="169.60" y="105.15" font-size="7.9" text-anchor="middle" fill="#333" stroke="#333" stroke-width="0.2" textLength="25.4" lengthAdjust="spacingAndGlyphs">Region 1</text>
<rect x="169.5" y="131.5" width="32.0" height="13.1" fill="#fff" stroke="#8a8a8a" stroke-width="1"/>
<text x="185.50" y="141.05" font-size="7.9" text-anchor="middle" fill="#333" stroke="#333" stroke-width="0.2" textLength="25.2" lengthAdjust="spacingAndGlyphs">Region 2</text>
<line x1="75.0" y1="141.0" x2="68.73" y2="103.36" stroke="#111" stroke-width="1.0"/>
<path d="M68.20 100.20L70.50 103.06L66.95 103.65Z" fill="#111"/>
<line x1="138.9" y1="136.6" x2="154.02" y2="109.98" stroke="#111" stroke-width="1.0"/>
<path d="M155.60 107.20L155.58 110.87L152.45 109.09Z" fill="#111"/>
<line x1="146.3" y1="158.0" x2="170.72" y2="144.18" stroke="#111" stroke-width="1.0"/>
<path d="M173.50 142.60L171.60 145.74L169.83 142.61Z" fill="#111"/>
<line x1="40.2" y1="100.6" x2="40.20" y2="62.00" stroke="#111" stroke-width="2.0"/>
<path d="M40.20 54.40L44.40 62.00L36.00 62.00Z" fill="#111"/>
<text x="40.1" y="116.0" font-size="10.4" font-weight="bold" text-anchor="middle" dominant-baseline="central" stroke="#000" stroke-width="0.2" transform="rotate(-90 40.1 116.0)" textLength="22" lengthAdjust="spacingAndGlyphs">c-kit</text>
<text x="96.4" y="221.8" font-size="12.4" font-weight="bold" stroke="#000" stroke-width="0.25" textLength="24.8" lengthAdjust="spacingAndGlyphs">Sca-1</text>
<line x1="125.2" y1="217.6" x2="160.60" y2="217.60" stroke="#111" stroke-width="2.0"/>
<path d="M167.60 217.60L160.60 221.20L160.60 214.00Z" fill="#111"/>
<text x="109.8" y="210.6" font-size="3.3" fill="#666" textLength="27.8" lengthAdjust="spacingAndGlyphs">Pacific Blue-A</text>
<text x="50.3" y="126.8" font-size="3.4" fill="#777" text-anchor="middle" transform="rotate(-90 50.3 126.8)" textLength="17" lengthAdjust="spacingAndGlyphs">PE-Cy7-A</text>
<text x="58.2" y="39.4" font-size="18.4" font-weight="bold" textLength="142" lengthAdjust="spacingAndGlyphs">Lin<tspan font-size="11" dy="-8.5">-</tspan><tspan dy="8.5"> compartment</tspan></text>
<defs><filter id="b2" x="-50%" y="-50%" width="200%" height="200%"><feGaussianBlur stdDeviation="1.6"/></filter><filter id="b05" x="-20%" y="-20%" width="140%" height="140%"><feGaussianBlur stdDeviation="0.45"/></filter></defs>
<g filter="url(#b2)"><ellipse cx="210.5" cy="85.5" rx="7.5" ry="7" fill="#000" fill-opacity="0.5"/><ellipse cx="216.5" cy="87.5" rx="7" ry="6.5" fill="#000" fill-opacity="0.2"/></g>
<path filter="url(#b05)" d="M199 96.8 C197.5 92 197.8 84 201 79 C203 75.5 206 75 207.5 77.5 C208.8 82 208.5 90 207.2 94 C205.5 97.5 201 97.5 199 96.8 Z" fill="#111"/>
<path d="M197.9 52.3V97.3H239" fill="none" stroke="#c8c8c8" stroke-width="0.8"/>
<text x="203" y="64.4" font-size="4.8" font-weight="bold" fill="#222" stroke="#222" stroke-width="0.12" textLength="35" lengthAdjust="spacingAndGlyphs">Lin<tspan font-size="3" dy="-2">-</tspan><tspan dy="2"> compartment</tspan></text>
<line x1="194.1" y1="78.5" x2="194.10" y2="68.80" stroke="#222" stroke-width="1.0"/>
<path d="M194.10 65.80L195.70 68.80L192.50 68.80Z" fill="#222"/>
<text x="194.6" y="86.6" font-size="4.8" font-weight="bold" text-anchor="middle" dominant-baseline="central" fill="#111" stroke="#111" stroke-width="0.15" transform="rotate(-90 194.6 86.6)" textLength="8.8" lengthAdjust="spacingAndGlyphs">c-kit</text>
<text x="204.2" y="102.6" font-size="4.9" font-weight="bold" fill="#111" stroke="#111" stroke-width="0.15" textLength="9.4" lengthAdjust="spacingAndGlyphs">Sca-1</text>
<line x1="217.5" y1="100.9" x2="226.20" y2="100.90" stroke="#222" stroke-width="1.0"/>
<path d="M229.20 100.90L226.20 102.50L226.20 99.30Z" fill="#222"/>
<text x="0.50" y="12.40" font-size="14.2" font-weight="bold" text-anchor="start" fill="#000">A</text>
<text x="265.50" y="11.70" font-size="14.0" font-weight="bold" text-anchor="start" fill="#000">B</text>
<text x="265.40" y="132.70" font-size="14.0" font-weight="bold" text-anchor="start" fill="#000">C</text>
<text x="0.20" y="264.60" font-size="14.0" font-weight="bold" text-anchor="start" fill="#000">D</text>
<text x="265.30" y="264.70" font-size="14.0" font-weight="bold" text-anchor="start" fill="#000">E</text>
<text x="1.60" y="452.10" font-size="14.0" font-weight="bold" text-anchor="start" fill="#000">F</text>
<path d="M297.00 109.40 V7.30 H440.40 V109.40 H297.00" fill="none" stroke="#9a9a9a" stroke-width="1.0"/>
<line x1="295.00" y1="109.40" x2="297.00" y2="109.40" stroke="#999" stroke-width="0.8"/>
<line x1="295.00" y1="83.88" x2="297.00" y2="83.88" stroke="#999" stroke-width="0.8"/>
<line x1="295.00" y1="58.35" x2="297.00" y2="58.35" stroke="#999" stroke-width="0.8"/>
<line x1="295.00" y1="32.83" x2="297.00" y2="32.83" stroke="#999" stroke-width="0.8"/>
<line x1="295.00" y1="7.30" x2="297.00" y2="7.30" stroke="#999" stroke-width="0.8"/>
<rect x="306.05" y="65.80" width="6.80" height="43.60" fill="#c2c2c2" stroke="#8a8a8a" stroke-width="0.9"/>
<line x1="309.45" y1="61.40" x2="309.45" y2="65.80" stroke="#222" stroke-width="1.0"/>
<line x1="307.75" y1="61.40" x2="311.15" y2="61.40" stroke="#222" stroke-width="1.0"/>
<rect x="317.70" y="52.50" width="6.90" height="56.90" fill="url(#hB)" stroke="#111" stroke-width="1.0"/>
<line x1="321.15" y1="47.30" x2="321.15" y2="52.50" stroke="#222" stroke-width="1.0"/>
<line x1="319.45" y1="47.30" x2="322.85" y2="47.30" stroke="#222" stroke-width="1.0"/>
<rect x="341.55" y="81.10" width="6.80" height="28.30" fill="#c2c2c2" stroke="#8a8a8a" stroke-width="0.9"/>
<line x1="344.95" y1="76.20" x2="344.95" y2="81.10" stroke="#222" stroke-width="1.0"/>
<line x1="343.25" y1="76.20" x2="346.65" y2="76.20" stroke="#222" stroke-width="1.0"/>
<rect x="353.20" y="81.50" width="6.90" height="27.90" fill="url(#hB)" stroke="#111" stroke-width="1.0"/>
<line x1="356.65" y1="77.40" x2="356.65" y2="81.50" stroke="#222" stroke-width="1.0"/>
<line x1="354.95" y1="77.40" x2="358.35" y2="77.40" stroke="#222" stroke-width="1.0"/>
<rect x="377.05" y="82.30" width="6.80" height="27.10" fill="#c2c2c2" stroke="#8a8a8a" stroke-width="0.9"/>
<line x1="380.45" y1="80.50" x2="380.45" y2="82.30" stroke="#222" stroke-width="1.0"/>
<line x1="378.75" y1="80.50" x2="382.15" y2="80.50" stroke="#222" stroke-width="1.0"/>
<rect x="388.70" y="73.80" width="6.90" height="35.60" fill="url(#hB)" stroke="#111" stroke-width="1.0"/>
<line x1="392.15" y1="71.20" x2="392.15" y2="73.80" stroke="#222" stroke-width="1.0"/>
<line x1="390.45" y1="71.20" x2="393.85" y2="71.20" stroke="#222" stroke-width="1.0"/>
<rect x="412.55" y="39.20" width="6.80" height="70.20" fill="#c2c2c2" stroke="#8a8a8a" stroke-width="0.9"/>
<line x1="415.95" y1="33.50" x2="415.95" y2="39.20" stroke="#222" stroke-width="1.0"/>
<line x1="414.25" y1="33.50" x2="417.65" y2="33.50" stroke="#222" stroke-width="1.0"/>
<rect x="424.20" y="26.30" width="6.90" height="83.10" fill="url(#hB)" stroke="#111" stroke-width="1.0"/>
<line x1="427.65" y1="23.70" x2="427.65" y2="26.30" stroke="#222" stroke-width="1.0"/>
<line x1="425.95" y1="23.70" x2="429.35" y2="23.70" stroke="#222" stroke-width="1.0"/>
<line x1="297.00" y1="109.40" x2="297.00" y2="110.90" stroke="#aaa" stroke-width="0.6"/>
<line x1="308.95" y1="109.40" x2="308.95" y2="110.90" stroke="#aaa" stroke-width="0.6"/>
<line x1="320.90" y1="109.40" x2="320.90" y2="110.90" stroke="#aaa" stroke-width="0.6"/>
<line x1="332.85" y1="109.40" x2="332.85" y2="110.90" stroke="#aaa" stroke-width="0.6"/>
<line x1="344.80" y1="109.40" x2="344.80" y2="110.90" stroke="#aaa" stroke-width="0.6"/>
<line x1="356.75" y1="109.40" x2="356.75" y2="110.90" stroke="#aaa" stroke-width="0.6"/>
<line x1="368.70" y1="109.40" x2="368.70" y2="110.90" stroke="#aaa" stroke-width="0.6"/>
<line x1="380.65" y1="109.40" x2="380.65" y2="110.90" stroke="#aaa" stroke-width="0.6"/>
<line x1="392.60" y1="109.40" x2="392.60" y2="110.90" stroke="#aaa" stroke-width="0.6"/>
<line x1="404.55" y1="109.40" x2="404.55" y2="110.90" stroke="#aaa" stroke-width="0.6"/>
<line x1="416.50" y1="109.40" x2="416.50" y2="110.90" stroke="#aaa" stroke-width="0.6"/>
<line x1="428.45" y1="109.40" x2="428.45" y2="110.90" stroke="#aaa" stroke-width="0.6"/>
<line x1="440.40" y1="109.40" x2="440.40" y2="110.90" stroke="#aaa" stroke-width="0.6"/>
<text x="293.90" y="111.00" font-size="4.5" font-weight="normal" text-anchor="end" fill="#666" stroke="#666" stroke-width="0.1">0</text>
<text x="293.90" y="85.47" font-size="4.5" font-weight="normal" text-anchor="end" fill="#666" stroke="#666" stroke-width="0.1" textLength="8.2" lengthAdjust="spacingAndGlyphs">2000</text>
<text x="293.90" y="59.95" font-size="4.5" font-weight="normal" text-anchor="end" fill="#666" stroke="#666" stroke-width="0.1" textLength="8.2" lengthAdjust="spacingAndGlyphs">4000</text>
<text x="293.90" y="34.43" font-size="4.5" font-weight="normal" text-anchor="end" fill="#666" stroke="#666" stroke-width="0.1" textLength="8.2" lengthAdjust="spacingAndGlyphs">6000</text>
<text x="293.90" y="8.90" font-size="4.5" font-weight="normal" text-anchor="end" fill="#666" stroke="#666" stroke-width="0.1" textLength="8.2" lengthAdjust="spacingAndGlyphs">8000</text>
<path d="M297.30 231.90 V128.70 H439.60 V231.90 H297.30" fill="none" stroke="#9a9a9a" stroke-width="1.0"/>
<line x1="295.30" y1="231.90" x2="297.30" y2="231.90" stroke="#999" stroke-width="0.8"/>
<line x1="295.30" y1="211.26" x2="297.30" y2="211.26" stroke="#999" stroke-width="0.8"/>
<line x1="295.30" y1="190.62" x2="297.30" y2="190.62" stroke="#999" stroke-width="0.8"/>
<line x1="295.30" y1="169.98" x2="297.30" y2="169.98" stroke="#999" stroke-width="0.8"/>
<line x1="295.30" y1="149.34" x2="297.30" y2="149.34" stroke="#999" stroke-width="0.8"/>
<line x1="295.30" y1="128.70" x2="297.30" y2="128.70" stroke="#999" stroke-width="0.8"/>
<rect x="306.35" y="199.00" width="6.80" height="32.90" fill="#c2c2c2" stroke="#8a8a8a" stroke-width="0.9"/>
<line x1="309.75" y1="194.40" x2="309.75" y2="199.00" stroke="#222" stroke-width="1.0"/>
<line x1="308.05" y1="194.40" x2="311.45" y2="194.40" stroke="#222" stroke-width="1.0"/>
<rect x="318.00" y="190.20" width="6.90" height="41.70" fill="url(#hB)" stroke="#111" stroke-width="1.0"/>
<line x1="321.45" y1="187.50" x2="321.45" y2="190.20" stroke="#222" stroke-width="1.0"/>
<line x1="319.75" y1="187.50" x2="323.15" y2="187.50" stroke="#222" stroke-width="1.0"/>
<rect x="341.45" y="194.60" width="6.80" height="37.30" fill="#c2c2c2" stroke="#8a8a8a" stroke-width="0.9"/>
<line x1="344.85" y1="189.70" x2="344.85" y2="194.60" stroke="#222" stroke-width="1.0"/>
<line x1="343.15" y1="189.70" x2="346.55" y2="189.70" stroke="#222" stroke-width="1.0"/>
<rect x="353.10" y="194.60" width="6.90" height="37.30" fill="url(#hB)" stroke="#111" stroke-width="1.0"/>
<line x1="356.55" y1="193.80" x2="356.55" y2="194.60" stroke="#222" stroke-width="1.0"/>
<line x1="354.85" y1="193.80" x2="358.25" y2="193.80" stroke="#222" stroke-width="1.0"/>
<rect x="376.65" y="186.20" width="6.80" height="45.70" fill="#c2c2c2" stroke="#8a8a8a" stroke-width="0.9"/>
<line x1="380.05" y1="180.50" x2="380.05" y2="186.20" stroke="#222" stroke-width="1.0"/>
<line x1="378.35" y1="180.50" x2="381.75" y2="180.50" stroke="#222" stroke-width="1.0"/>
<rect x="388.30" y="180.30" width="6.90" height="51.60" fill="url(#hB)" stroke="#111" stroke-width="1.0"/>
<line x1="391.75" y1="177.70" x2="391.75" y2="180.30" stroke="#222" stroke-width="1.0"/>
<line x1="390.05" y1="177.70" x2="393.45" y2="177.70" stroke="#222" stroke-width="1.0"/>
<rect x="411.75" y="158.30" width="6.80" height="73.60" fill="#c2c2c2" stroke="#8a8a8a" stroke-width="0.9"/>
<line x1="415.15" y1="148.00" x2="415.15" y2="158.30" stroke="#222" stroke-width="1.0"/>
<line x1="413.45" y1="148.00" x2="416.85" y2="148.00" stroke="#222" stroke-width="1.0"/>
<rect x="423.40" y="166.50" width="6.90" height="65.40" fill="url(#hB)" stroke="#111" stroke-width="1.0"/>
<line x1="426.85" y1="162.90" x2="426.85" y2="166.50" stroke="#222" stroke-width="1.0"/>
<line x1="425.15" y1="162.90" x2="428.55" y2="162.90" stroke="#222" stroke-width="1.0"/>
<line x1="297.30" y1="231.90" x2="297.30" y2="233.40" stroke="#aaa" stroke-width="0.6"/>
<line x1="309.16" y1="231.90" x2="309.16" y2="233.40" stroke="#aaa" stroke-width="0.6"/>
<line x1="321.02" y1="231.90" x2="321.02" y2="233.40" stroke="#aaa" stroke-width="0.6"/>
<line x1="332.88" y1="231.90" x2="332.88" y2="233.40" stroke="#aaa" stroke-width="0.6"/>
<line x1="344.73" y1="231.90" x2="344.73" y2="233.40" stroke="#aaa" stroke-width="0.6"/>
<line x1="356.59" y1="231.90" x2="356.59" y2="233.40" stroke="#aaa" stroke-width="0.6"/>
<line x1="368.45" y1="231.90" x2="368.45" y2="233.40" stroke="#aaa" stroke-width="0.6"/>
<line x1="380.31" y1="231.90" x2="380.31" y2="233.40" stroke="#aaa" stroke-width="0.6"/>
<line x1="392.17" y1="231.90" x2="392.17" y2="233.40" stroke="#aaa" stroke-width="0.6"/>
<line x1="404.03" y1="231.90" x2="404.03" y2="233.40" stroke="#aaa" stroke-width="0.6"/>
<line x1="415.88" y1="231.90" x2="415.88" y2="233.40" stroke="#aaa" stroke-width="0.6"/>
<line x1="427.74" y1="231.90" x2="427.74" y2="233.40" stroke="#aaa" stroke-width="0.6"/>
<line x1="439.60" y1="231.90" x2="439.60" y2="233.40" stroke="#aaa" stroke-width="0.6"/>
<text x="294.30" y="233.50" font-size="4.5" font-weight="normal" text-anchor="end" fill="#7a7a7a" stroke="#7a7a7a" stroke-width="0.1" textLength="5.6" lengthAdjust="spacingAndGlyphs">0.0</text>
<text x="294.30" y="212.86" font-size="4.5" font-weight="normal" text-anchor="end" fill="#7a7a7a" stroke="#7a7a7a" stroke-width="0.1" textLength="5.6" lengthAdjust="spacingAndGlyphs">0.2</text>
<text x="294.30" y="192.22" font-size="4.5" font-weight="normal" text-anchor="end" fill="#7a7a7a" stroke="#7a7a7a" stroke-width="0.1" textLength="5.6" lengthAdjust="spacingAndGlyphs">0.4</text>
<text x="294.30" y="171.58" font-size="4.5" font-weight="normal" text-anchor="end" fill="#7a7a7a" stroke="#7a7a7a" stroke-width="0.1" textLength="5.6" lengthAdjust="spacingAndGlyphs">0.6</text>
<text x="294.30" y="150.94" font-size="4.5" font-weight="normal" text-anchor="end" fill="#7a7a7a" stroke="#7a7a7a" stroke-width="0.1" textLength="5.6" lengthAdjust="spacingAndGlyphs">0.8</text>
<text x="294.30" y="130.30" font-size="4.5" font-weight="normal" text-anchor="end" fill="#7a7a7a" stroke="#7a7a7a" stroke-width="0.1" textLength="5.6" lengthAdjust="spacingAndGlyphs">1.0</text>
<polygon points="321.30,39.80 322.00,41.29 323.64,41.15 322.70,42.50 323.64,43.85 322.00,43.71 321.30,45.20 320.60,43.71 318.96,43.85 319.90,42.50 318.96,41.15 320.60,41.29" fill="#000"/>
<polygon points="391.80,63.90 392.50,65.39 394.14,65.25 393.20,66.60 394.14,67.95 392.50,67.81 391.80,69.30 391.10,67.81 389.46,67.95 390.40,66.60 389.46,65.25 391.10,65.39" fill="#000"/>
<polygon points="427.10,15.80 427.80,17.29 429.44,17.15 428.50,18.50 429.44,19.85 427.80,19.71 427.10,21.20 426.40,19.71 424.76,19.85 425.70,18.50 424.76,17.15 426.40,17.29" fill="#000"/>
<polygon points="322.10,180.20 322.80,181.69 324.44,181.55 323.50,182.90 324.44,184.25 322.80,184.11 322.10,185.60 321.40,184.11 319.76,184.25 320.70,182.90 319.76,181.55 321.40,181.69" fill="#000"/>
<polygon points="391.80,170.30 392.50,171.79 394.14,171.65 393.20,173.00 394.14,174.35 392.50,174.21 391.80,175.70 391.10,174.21 389.46,174.35 390.40,173.00 389.46,171.65 391.10,171.79" fill="#000"/>
<polygon points="426.80,155.70 427.50,157.19 429.14,157.05 428.20,158.40 429.14,159.75 427.50,159.61 426.80,161.10 426.10,159.61 424.46,159.75 425.40,158.40 424.46,157.05 426.10,157.19" fill="#000"/>
<text x="283.20" y="62.60" font-size="8.9" font-weight="normal" text-anchor="middle" fill="#000" stroke="#000" stroke-width="0.25" transform="rotate(-90 283.20 62.60)" textLength="66" lengthAdjust="spacingAndGlyphs">Mitotracker Green</text>
<text x="285.40" y="184.20" font-size="13.0" font-weight="normal" text-anchor="middle" fill="#000" stroke="#000" stroke-width="0.12" transform="rotate(-90 285.40 184.20)" textLength="26" lengthAdjust="spacingAndGlyphs">&#916;&#968;m</text>
<text x="309.50" y="42.70" font-size="7.3" transform="rotate(-50 309.50 42.70)" stroke="#000" stroke-width="0.2"><tspan textLength="21" lengthAdjust="spacingAndGlyphs">LT-HSC</tspan></text>
<text x="342.70" y="72.30" font-size="7.3" transform="rotate(-50 342.70 72.30)" stroke="#000" stroke-width="0.2"><tspan textLength="21.3" lengthAdjust="spacingAndGlyphs">ST-HSC</tspan><tspan dx="0.6" dy="-2.04" font-size="4.53" stroke-width="0.10" textLength="12.6" lengthAdjust="spacingAndGlyphs">c-kit hi</tspan></text>
<text x="379.40" y="70.80" font-size="7.3" transform="rotate(-50 379.40 70.80)" stroke="#000" stroke-width="0.2"><tspan textLength="22" lengthAdjust="spacingAndGlyphs">ST-HSC</tspan><tspan dx="0.6" dy="-2.04" font-size="4.53" stroke-width="0.10" textLength="13" lengthAdjust="spacingAndGlyphs">c-kit lo</tspan></text>
<text x="413.40" y="28.20" font-size="7.3" transform="rotate(-50 413.40 28.20)" stroke="#000" stroke-width="0.2"><tspan textLength="26.3" lengthAdjust="spacingAndGlyphs">MPP (LK)</tspan></text>
<text x="310.70" y="178.00" font-size="7.3" transform="rotate(-50 310.70 178.00)" stroke="#000" stroke-width="0.2"><tspan textLength="20.3" lengthAdjust="spacingAndGlyphs">LT-HSC</tspan></text>
<text x="343.70" y="181.20" font-size="7.3" transform="rotate(-50 343.70 181.20)" stroke="#000" stroke-width="0.2"><tspan textLength="22" lengthAdjust="spacingAndGlyphs">ST-HSC</tspan><tspan dx="0.6" dy="-2.04" font-size="4.53" stroke-width="0.10" textLength="13" lengthAdjust="spacingAndGlyphs">c-kit hi</tspan></text>
<text x="377.00" y="175.80" font-size="7.3" transform="rotate(-50 377.00 175.80)" stroke="#000" stroke-width="0.2"><tspan textLength="22.5" lengthAdjust="spacingAndGlyphs">ST-HSC</tspan><tspan dx="0.6" dy="-2.04" font-size="4.53" stroke-width="0.10" textLength="14" lengthAdjust="spacingAndGlyphs">c-kit lo</tspan></text>
<text x="409.70" y="151.40" font-size="7.3" transform="rotate(-50 409.70 151.40)" stroke="#000" stroke-width="0.2"><tspan textLength="26.9" lengthAdjust="spacingAndGlyphs">MPP (LK)</tspan></text>
<text x="60.80" y="343.90" font-size="9.8" transform="rotate(-46 60.80 343.90)" stroke="#000" stroke-width="0.25"><tspan textLength="27.8" lengthAdjust="spacingAndGlyphs">LT-HSC</tspan></text>
<text x="109.50" y="304.60" font-size="9.8" transform="rotate(-46 109.50 304.60)" stroke="#000" stroke-width="0.25"><tspan textLength="29.3" lengthAdjust="spacingAndGlyphs">ST-HSC</tspan><tspan dx="0.6" dy="-2.74" font-size="6.08" stroke-width="0.12" textLength="17.4" lengthAdjust="spacingAndGlyphs">c-kit hi</tspan></text>
<text x="168.50" y="306.90" font-size="9.8" transform="rotate(-46 168.50 306.90)" stroke="#000" stroke-width="0.25"><tspan textLength="30.3" lengthAdjust="spacingAndGlyphs">ST-HSC</tspan><tspan dx="0.6" dy="-2.74" font-size="6.08" stroke-width="0.12" textLength="18" lengthAdjust="spacingAndGlyphs">c-kit lo</tspan></text>
<text x="213.30" y="333.60" font-size="9.8" transform="rotate(-46 213.30 333.60)" stroke="#000" stroke-width="0.25"><tspan textLength="35.9" lengthAdjust="spacingAndGlyphs">MPP (LK)</tspan></text>
<text x="332.20" y="289.80" font-size="9.8" transform="rotate(-46 332.20 289.80)" stroke="#000" stroke-width="0.25"><tspan textLength="29.9" lengthAdjust="spacingAndGlyphs">LT-HSC</tspan></text>
<text x="380.80" y="350.80" font-size="9.8" transform="rotate(-46 380.80 350.80)" stroke="#000" stroke-width="0.25"><tspan textLength="31" lengthAdjust="spacingAndGlyphs">ST-HSC</tspan><tspan dx="0.6" dy="-2.74" font-size="6.08" stroke-width="0.12" textLength="18.4" lengthAdjust="spacingAndGlyphs">c-kit hi</tspan></text>
<text x="431.30" y="340.00" font-size="9.8" transform="rotate(-46 431.30 340.00)" stroke="#000" stroke-width="0.25"><tspan textLength="31.8" lengthAdjust="spacingAndGlyphs">ST-HSC</tspan><tspan dx="0.6" dy="-2.74" font-size="6.08" stroke-width="0.12" textLength="18.8" lengthAdjust="spacingAndGlyphs">c-kit lo</tspan></text>
<text x="481.00" y="350.40" font-size="9.8" transform="rotate(-46 481.00 350.40)" stroke="#000" stroke-width="0.25"><tspan textLength="39.9" lengthAdjust="spacingAndGlyphs">MPP (LK)</tspan></text>
<text x="303.20" y="117.00" font-size="6.7" font-weight="normal" text-anchor="start" fill="#111" stroke="#111" stroke-width="0.35" textLength="9.4" lengthAdjust="spacingAndGlyphs">WT</text>
<text x="318.10" y="117.00" font-size="6.7" font-weight="normal" text-anchor="start" fill="#111" stroke="#111" stroke-width="0.35" textLength="8.8" lengthAdjust="spacingAndGlyphs">KO</text>
<text x="307.80" y="240.20" font-size="6.7" font-weight="normal" text-anchor="start" fill="#111" stroke="#111" stroke-width="0.35" textLength="9.4" lengthAdjust="spacingAndGlyphs">WT</text>
<text x="318.80" y="240.20" font-size="6.7" font-weight="normal" text-anchor="start" fill="#111" stroke="#111" stroke-width="0.35" textLength="9.4" lengthAdjust="spacingAndGlyphs">KO</text>
<text x="338.70" y="117.00" font-size="6.7" font-weight="normal" text-anchor="start" fill="#111" stroke="#111" stroke-width="0.35" textLength="9.4" lengthAdjust="spacingAndGlyphs">WT</text>
<text x="353.60" y="117.00" font-size="6.7" font-weight="normal" text-anchor="start" fill="#111" stroke="#111" stroke-width="0.35" textLength="8.8" lengthAdjust="spacingAndGlyphs">KO</text>
<text x="342.90" y="240.20" font-size="6.7" font-weight="normal" text-anchor="start" fill="#111" stroke="#111" stroke-width="0.35" textLength="9.4" lengthAdjust="spacingAndGlyphs">WT</text>
<text x="353.90" y="240.20" font-size="6.7" font-weight="normal" text-anchor="start" fill="#111" stroke="#111" stroke-width="0.35" textLength="9.4" lengthAdjust="spacingAndGlyphs">KO</text>
<text x="374.20" y="117.00" font-size="6.7" font-weight="normal" text-anchor="start" fill="#111" stroke="#111" stroke-width="0.35" textLength="9.4" lengthAdjust="spacingAndGlyphs">WT</text>
<text x="389.10" y="117.00" font-size="6.7" font-weight="normal" text-anchor="start" fill="#111" stroke="#111" stroke-width="0.35" textLength="8.8" lengthAdjust="spacingAndGlyphs">KO</text>
<text x="378.10" y="240.20" font-size="6.7" font-weight="normal" text-anchor="start" fill="#111" stroke="#111" stroke-width="0.35" textLength="9.4" lengthAdjust="spacingAndGlyphs">WT</text>
<text x="389.10" y="240.20" font-size="6.7" font-weight="normal" text-anchor="start" fill="#111" stroke="#111" stroke-width="0.35" textLength="9.4" lengthAdjust="spacingAndGlyphs">KO</text>
<text x="409.70" y="117.00" font-size="6.7" font-weight="normal" text-anchor="start" fill="#111" stroke="#111" stroke-width="0.35" textLength="9.4" lengthAdjust="spacingAndGlyphs">WT</text>
<text x="424.60" y="117.00" font-size="6.7" font-weight="normal" text-anchor="start" fill="#111" stroke="#111" stroke-width="0.35" textLength="8.8" lengthAdjust="spacingAndGlyphs">KO</text>
<text x="413.20" y="240.20" font-size="6.7" font-weight="normal" text-anchor="start" fill="#111" stroke="#111" stroke-width="0.35" textLength="9.4" lengthAdjust="spacingAndGlyphs">WT</text>
<text x="424.20" y="240.20" font-size="6.7" font-weight="normal" text-anchor="start" fill="#111" stroke="#111" stroke-width="0.35" textLength="9.4" lengthAdjust="spacingAndGlyphs">KO</text>
<path d="M40.80 401.30 V270.40 H241.00 V401.30 H40.80" fill="none" stroke="#9a9a9a" stroke-width="1.0"/>
<line x1="38.80" y1="401.30" x2="40.80" y2="401.30" stroke="#999" stroke-width="0.8"/>
<text x="36.60" y="403.20" font-size="5.3" font-weight="normal" text-anchor="end" fill="#666" stroke="#666" stroke-width="0.12">0.00</text>
<line x1="38.80" y1="375.12" x2="40.80" y2="375.12" stroke="#999" stroke-width="0.8"/>
<text x="36.60" y="377.02" font-size="5.3" font-weight="normal" text-anchor="end" fill="#666" stroke="#666" stroke-width="0.12">0.05</text>
<line x1="38.80" y1="348.94" x2="40.80" y2="348.94" stroke="#999" stroke-width="0.8"/>
<text x="36.60" y="350.84" font-size="5.3" font-weight="normal" text-anchor="end" fill="#666" stroke="#666" stroke-width="0.12">0.10</text>
<line x1="38.80" y1="322.76" x2="40.80" y2="322.76" stroke="#999" stroke-width="0.8"/>
<text x="36.60" y="324.66" font-size="5.3" font-weight="normal" text-anchor="end" fill="#666" stroke="#666" stroke-width="0.12">0.15</text>
<line x1="38.80" y1="296.58" x2="40.80" y2="296.58" stroke="#999" stroke-width="0.8"/>
<text x="36.60" y="298.48" font-size="5.3" font-weight="normal" text-anchor="end" fill="#666" stroke="#666" stroke-width="0.12">0.20</text>
<line x1="38.80" y1="270.40" x2="40.80" y2="270.40" stroke="#999" stroke-width="0.8"/>
<text x="36.60" y="272.30" font-size="5.3" font-weight="normal" text-anchor="end" fill="#666" stroke="#666" stroke-width="0.12">0.25</text>
<line x1="40.80" y1="401.30" x2="40.80" y2="403.30" stroke="#999" stroke-width="0.7"/>
<line x1="90.85" y1="401.30" x2="90.85" y2="403.30" stroke="#999" stroke-width="0.7"/>
<line x1="140.90" y1="401.30" x2="140.90" y2="403.30" stroke="#999" stroke-width="0.7"/>
<line x1="190.95" y1="401.30" x2="190.95" y2="403.30" stroke="#999" stroke-width="0.7"/>
<line x1="241.00" y1="401.30" x2="241.00" y2="403.30" stroke="#999" stroke-width="0.7"/>
<rect x="53.10" y="348.50" width="10.50" height="52.80" fill="#c2c2c2" stroke="#8a8a8a" stroke-width="0.9"/>
<line x1="58.35" y1="347.60" x2="58.35" y2="348.50" stroke="#222" stroke-width="1.0"/>
<line x1="56.10" y1="347.60" x2="60.60" y2="347.60" stroke="#222" stroke-width="1.0"/>
<rect x="69.20" y="353.80" width="10.50" height="47.50" fill="url(#hD)" stroke="#111" stroke-width="1.0"/>
<line x1="74.45" y1="350.80" x2="74.45" y2="353.80" stroke="#222" stroke-width="1.0"/>
<line x1="72.20" y1="350.80" x2="76.70" y2="350.80" stroke="#222" stroke-width="1.0"/>
<text x="49.90" y="411.50" font-size="9.1" font-weight="normal" text-anchor="start" fill="#000" stroke="#000" stroke-width="0.3" textLength="13.6" lengthAdjust="spacingAndGlyphs">WT</text>
<text x="70.30" y="411.50" font-size="9.1" font-weight="normal" text-anchor="start" fill="#000" stroke="#000" stroke-width="0.3" textLength="10.8" lengthAdjust="spacingAndGlyphs">KO</text>
<rect x="102.30" y="306.90" width="10.50" height="94.40" fill="#c2c2c2" stroke="#8a8a8a" stroke-width="0.9"/>
<line x1="107.55" y1="301.50" x2="107.55" y2="306.90" stroke="#222" stroke-width="1.0"/>
<line x1="105.30" y1="301.50" x2="109.80" y2="301.50" stroke="#222" stroke-width="1.0"/>
<rect x="119.20" y="312.00" width="10.50" height="89.30" fill="url(#hD)" stroke="#111" stroke-width="1.0"/>
<line x1="124.45" y1="309.20" x2="124.45" y2="312.00" stroke="#222" stroke-width="1.0"/>
<line x1="122.20" y1="309.20" x2="126.70" y2="309.20" stroke="#222" stroke-width="1.0"/>
<text x="99.10" y="411.50" font-size="9.1" font-weight="normal" text-anchor="start" fill="#000" stroke="#000" stroke-width="0.3" textLength="13.6" lengthAdjust="spacingAndGlyphs">WT</text>
<text x="120.30" y="411.50" font-size="9.1" font-weight="normal" text-anchor="start" fill="#000" stroke="#000" stroke-width="0.3" textLength="10.8" lengthAdjust="spacingAndGlyphs">KO</text>
<rect x="152.30" y="280.30" width="10.50" height="121.00" fill="#c2c2c2" stroke="#8a8a8a" stroke-width="0.9"/>
<line x1="157.55" y1="272.80" x2="157.55" y2="280.30" stroke="#222" stroke-width="1.0"/>
<line x1="155.30" y1="272.80" x2="159.80" y2="272.80" stroke="#222" stroke-width="1.0"/>
<rect x="169.20" y="316.90" width="10.50" height="84.40" fill="url(#hD)" stroke="#111" stroke-width="1.0"/>
<line x1="174.45" y1="314.20" x2="174.45" y2="316.90" stroke="#222" stroke-width="1.0"/>
<line x1="172.20" y1="314.20" x2="176.70" y2="314.20" stroke="#222" stroke-width="1.0"/>
<text x="149.10" y="411.50" font-size="9.1" font-weight="normal" text-anchor="start" fill="#000" stroke="#000" stroke-width="0.3" textLength="13.6" lengthAdjust="spacingAndGlyphs">WT</text>
<text x="170.30" y="411.50" font-size="9.1" font-weight="normal" text-anchor="start" fill="#000" stroke="#000" stroke-width="0.3" textLength="10.8" lengthAdjust="spacingAndGlyphs">KO</text>
<rect x="201.20" y="338.20" width="10.50" height="63.10" fill="#c2c2c2" stroke="#8a8a8a" stroke-width="0.9"/>
<line x1="206.45" y1="327.70" x2="206.45" y2="338.20" stroke="#222" stroke-width="1.0"/>
<line x1="204.20" y1="327.70" x2="208.70" y2="327.70" stroke="#222" stroke-width="1.0"/>
<rect x="218.50" y="359.20" width="10.50" height="42.10" fill="url(#hD)" stroke="#111" stroke-width="1.0"/>
<line x1="223.75" y1="358.60" x2="223.75" y2="359.20" stroke="#222" stroke-width="1.0"/>
<line x1="221.50" y1="358.60" x2="226.00" y2="358.60" stroke="#222" stroke-width="1.0"/>
<text x="198.00" y="411.50" font-size="9.1" font-weight="normal" text-anchor="start" fill="#000" stroke="#000" stroke-width="0.3" textLength="13.6" lengthAdjust="spacingAndGlyphs">WT</text>
<text x="219.60" y="411.50" font-size="9.1" font-weight="normal" text-anchor="start" fill="#000" stroke="#000" stroke-width="0.3" textLength="10.8" lengthAdjust="spacingAndGlyphs">KO</text>
<path d="M178.50 302.70L178.50 310.50M175.12 304.65L181.88 308.55M175.12 308.55L181.88 304.65" stroke="#000" stroke-width="1.9" stroke-linecap="butt" fill="none"/>
<path d="M223.80 334.30L223.80 342.10M220.42 336.25L227.18 340.15M220.42 340.15L227.18 336.25" stroke="#000" stroke-width="1.9" stroke-linecap="butt" fill="none"/>
<text x="22.6" y="404.3" font-size="9.4" transform="rotate(-90 22.6 404.3)" stroke="#000" stroke-width="0.3"><tspan textLength="110" lengthAdjust="spacingAndGlyphs">Ave. Activity/Mass Ratio</tspan><tspan font-size="6.3" dx="3" stroke-width="0.2" textLength="15" lengthAdjust="spacingAndGlyphs">(X10</tspan><tspan font-size="4.4" dy="-3.2" stroke-width="0.15" textLength="3.4" lengthAdjust="spacingAndGlyphs">-3</tspan><tspan font-size="6.3" dy="3.2" stroke-width="0.2">)</tspan></text>
<path d="M313.80 400.30 V271.20 H516.50 V400.30 H313.80" fill="none" stroke="#9a9a9a" stroke-width="1.0"/>
<line x1="311.80" y1="400.30" x2="313.80" y2="400.30" stroke="#999" stroke-width="0.8"/>
<text x="309.30" y="402.20" font-size="5.3" font-weight="normal" text-anchor="end" fill="#555" stroke="#555" stroke-width="0.15">0</text>
<line x1="311.80" y1="381.86" x2="313.80" y2="381.86" stroke="#999" stroke-width="0.8"/>
<text x="309.30" y="383.76" font-size="5.3" font-weight="normal" text-anchor="end" fill="#555" stroke="#555" stroke-width="0.15">2000</text>
<line x1="311.80" y1="363.41" x2="313.80" y2="363.41" stroke="#999" stroke-width="0.8"/>
<text x="309.30" y="365.31" font-size="5.3" font-weight="normal" text-anchor="end" fill="#555" stroke="#555" stroke-width="0.15">4000</text>
<line x1="311.80" y1="344.97" x2="313.80" y2="344.97" stroke="#999" stroke-width="0.8"/>
<text x="309.30" y="346.87" font-size="5.3" font-weight="normal" text-anchor="end" fill="#555" stroke="#555" stroke-width="0.15">6000</text>
<line x1="311.80" y1="326.53" x2="313.80" y2="326.53" stroke="#999" stroke-width="0.8"/>
<text x="309.30" y="328.43" font-size="5.3" font-weight="normal" text-anchor="end" fill="#555" stroke="#555" stroke-width="0.15">8000</text>
<line x1="311.80" y1="308.09" x2="313.80" y2="308.09" stroke="#999" stroke-width="0.8"/>
<text x="309.30" y="309.99" font-size="5.3" font-weight="normal" text-anchor="end" fill="#555" stroke="#555" stroke-width="0.15">10000</text>
<line x1="311.80" y1="289.64" x2="313.80" y2="289.64" stroke="#999" stroke-width="0.8"/>
<text x="309.30" y="291.54" font-size="5.3" font-weight="normal" text-anchor="end" fill="#555" stroke="#555" stroke-width="0.15">12000</text>
<line x1="311.80" y1="271.20" x2="313.80" y2="271.20" stroke="#999" stroke-width="0.8"/>
<text x="309.30" y="273.10" font-size="5.3" font-weight="normal" text-anchor="end" fill="#555" stroke="#555" stroke-width="0.15">14000</text>
<line x1="315.00" y1="400.30" x2="315.00" y2="402.30" stroke="#999" stroke-width="0.7"/>
<line x1="331.75" y1="400.30" x2="331.75" y2="402.30" stroke="#999" stroke-width="0.7"/>
<line x1="348.50" y1="400.30" x2="348.50" y2="402.30" stroke="#999" stroke-width="0.7"/>
<line x1="365.25" y1="400.30" x2="365.25" y2="402.30" stroke="#999" stroke-width="0.7"/>
<line x1="382.00" y1="400.30" x2="382.00" y2="402.30" stroke="#999" stroke-width="0.7"/>
<line x1="398.75" y1="400.30" x2="398.75" y2="402.30" stroke="#999" stroke-width="0.7"/>
<line x1="415.50" y1="400.30" x2="415.50" y2="402.30" stroke="#999" stroke-width="0.7"/>
<line x1="432.25" y1="400.30" x2="432.25" y2="402.30" stroke="#999" stroke-width="0.7"/>
<line x1="449.00" y1="400.30" x2="449.00" y2="402.30" stroke="#999" stroke-width="0.7"/>
<line x1="465.75" y1="400.30" x2="465.75" y2="402.30" stroke="#999" stroke-width="0.7"/>
<line x1="482.50" y1="400.30" x2="482.50" y2="402.30" stroke="#999" stroke-width="0.7"/>
<line x1="499.25" y1="400.30" x2="499.25" y2="402.30" stroke="#999" stroke-width="0.7"/>
<line x1="516.00" y1="400.30" x2="516.00" y2="402.30" stroke="#999" stroke-width="0.7"/>
<rect x="327.20" y="294.60" width="9.70" height="105.70" fill="#c2c2c2" stroke="#8a8a8a" stroke-width="0.9"/>
<line x1="332.05" y1="292.60" x2="332.05" y2="294.60" stroke="#222" stroke-width="1.0"/>
<line x1="329.80" y1="292.60" x2="334.30" y2="292.60" stroke="#222" stroke-width="1.0"/>
<rect x="343.40" y="298.20" width="10.40" height="102.10" fill="url(#hD)" stroke="#111" stroke-width="1.0"/>
<line x1="348.60" y1="297.40" x2="348.60" y2="298.20" stroke="#222" stroke-width="1.0"/>
<line x1="346.35" y1="297.40" x2="350.85" y2="297.40" stroke="#222" stroke-width="1.0"/>
<text x="324.00" y="415.40" font-size="9.6" font-weight="normal" text-anchor="start" fill="#000" stroke="#000" stroke-width="0.28" textLength="16.0" lengthAdjust="spacingAndGlyphs">WT</text>
<text x="343.20" y="415.40" font-size="9.6" font-weight="normal" text-anchor="start" fill="#000" stroke="#000" stroke-width="0.28" textLength="11.8" lengthAdjust="spacingAndGlyphs">KO</text>
<rect x="377.20" y="380.50" width="9.70" height="19.80" fill="#c2c2c2" stroke="#8a8a8a" stroke-width="0.9"/>
<line x1="382.05" y1="377.40" x2="382.05" y2="380.50" stroke="#222" stroke-width="1.0"/>
<line x1="379.80" y1="377.40" x2="384.30" y2="377.40" stroke="#222" stroke-width="1.0"/>
<rect x="393.60" y="368.20" width="10.40" height="32.10" fill="url(#hD)" stroke="#111" stroke-width="1.0"/>
<line x1="398.80" y1="363.30" x2="398.80" y2="368.20" stroke="#222" stroke-width="1.0"/>
<line x1="396.55" y1="363.30" x2="401.05" y2="363.30" stroke="#222" stroke-width="1.0"/>
<text x="374.00" y="415.40" font-size="9.6" font-weight="normal" text-anchor="start" fill="#000" stroke="#000" stroke-width="0.28" textLength="16.0" lengthAdjust="spacingAndGlyphs">WT</text>
<text x="393.40" y="415.40" font-size="9.6" font-weight="normal" text-anchor="start" fill="#000" stroke="#000" stroke-width="0.28" textLength="11.8" lengthAdjust="spacingAndGlyphs">KO</text>
<rect x="427.80" y="371.50" width="9.70" height="28.80" fill="#c2c2c2" stroke="#8a8a8a" stroke-width="0.9"/>
<line x1="432.65" y1="367.40" x2="432.65" y2="371.50" stroke="#222" stroke-width="1.0"/>
<line x1="430.40" y1="367.40" x2="434.90" y2="367.40" stroke="#222" stroke-width="1.0"/>
<rect x="444.30" y="348.80" width="10.40" height="51.50" fill="url(#hD)" stroke="#111" stroke-width="1.0"/>
<line x1="449.50" y1="343.80" x2="449.50" y2="348.80" stroke="#222" stroke-width="1.0"/>
<line x1="447.25" y1="343.80" x2="451.75" y2="343.80" stroke="#222" stroke-width="1.0"/>
<text x="424.60" y="415.40" font-size="9.6" font-weight="normal" text-anchor="start" fill="#000" stroke="#000" stroke-width="0.28" textLength="16.0" lengthAdjust="spacingAndGlyphs">WT</text>
<text x="444.10" y="415.40" font-size="9.6" font-weight="normal" text-anchor="start" fill="#000" stroke="#000" stroke-width="0.28" textLength="11.8" lengthAdjust="spacingAndGlyphs">KO</text>
<rect x="478.00" y="382.00" width="9.70" height="18.30" fill="#c2c2c2" stroke="#8a8a8a" stroke-width="0.9"/>
<line x1="482.85" y1="380.80" x2="482.85" y2="382.00" stroke="#222" stroke-width="1.0"/>
<line x1="480.60" y1="380.80" x2="485.10" y2="380.80" stroke="#222" stroke-width="1.0"/>
<rect x="494.30" y="361.80" width="10.40" height="38.50" fill="url(#hD)" stroke="#111" stroke-width="1.0"/>
<line x1="499.50" y1="358.50" x2="499.50" y2="361.80" stroke="#222" stroke-width="1.0"/>
<line x1="497.25" y1="358.50" x2="501.75" y2="358.50" stroke="#222" stroke-width="1.0"/>
<text x="474.80" y="415.40" font-size="9.6" font-weight="normal" text-anchor="start" fill="#000" stroke="#000" stroke-width="0.28" textLength="16.0" lengthAdjust="spacingAndGlyphs">WT</text>
<text x="494.10" y="415.40" font-size="9.6" font-weight="normal" text-anchor="start" fill="#000" stroke="#000" stroke-width="0.28" textLength="11.8" lengthAdjust="spacingAndGlyphs">KO</text>
<path d="M399.20 350.90L399.20 358.30M396.00 352.75L402.40 356.45M396.00 356.45L402.40 352.75" stroke="#000" stroke-width="1.8" stroke-linecap="butt" fill="none"/>
<path d="M449.70 333.20L449.70 340.60M446.50 335.05L452.90 338.75M446.50 338.75L452.90 335.05" stroke="#000" stroke-width="1.8" stroke-linecap="butt" fill="none"/>
<path d="M499.50 347.80L499.50 355.20M496.30 349.65L502.70 353.35M496.30 353.35L502.70 349.65" stroke="#000" stroke-width="1.8" stroke-linecap="butt" fill="none"/>
<text x="343.20" y="290.90" font-size="8.8" font-weight="normal" text-anchor="start" fill="#000" stroke="#000" stroke-width="0.3" textLength="16.8" lengthAdjust="spacingAndGlyphs">N.S.</text>
<text x="290.00" y="329.60" font-size="17.8" font-weight="normal" text-anchor="middle" fill="#000" stroke="#000" stroke-width="0.4" transform="rotate(-90 290.00 329.60)" textLength="29.6" lengthAdjust="spacingAndGlyphs">ROS</text>
<path d="M30.50 608.00 V457.70 H245.40 V608.00 H30.50" fill="none" stroke="#888" stroke-width="1.0"/>
<line x1="28.50" y1="608.00" x2="30.50" y2="608.00" stroke="#888" stroke-width="0.8"/>
<text x="26.20" y="610.00" font-size="5.8" font-weight="normal" text-anchor="end" fill="#444" stroke="#444" stroke-width="0.18">0</text>
<line x1="28.50" y1="570.42" x2="30.50" y2="570.42" stroke="#888" stroke-width="0.8"/>
<text x="26.20" y="572.42" font-size="5.8" font-weight="normal" text-anchor="end" fill="#444" stroke="#444" stroke-width="0.18">50</text>
<line x1="28.50" y1="532.85" x2="30.50" y2="532.85" stroke="#888" stroke-width="0.8"/>
<text x="26.20" y="534.85" font-size="5.8" font-weight="normal" text-anchor="end" fill="#444" stroke="#444" stroke-width="0.18">100</text>
<line x1="28.50" y1="495.27" x2="30.50" y2="495.27" stroke="#888" stroke-width="0.8"/>
<text x="26.20" y="497.27" font-size="5.8" font-weight="normal" text-anchor="end" fill="#444" stroke="#444" stroke-width="0.18">150</text>
<line x1="28.50" y1="457.70" x2="30.50" y2="457.70" stroke="#888" stroke-width="0.8"/>
<text x="26.20" y="459.70" font-size="5.8" font-weight="normal" text-anchor="end" fill="#444" stroke="#444" stroke-width="0.18">200</text>
<line x1="33.80" y1="608.00" x2="33.80" y2="610.00" stroke="#888" stroke-width="0.7"/>
<line x1="47.70" y1="608.00" x2="47.70" y2="610.00" stroke="#888" stroke-width="0.7"/>
<line x1="61.60" y1="608.00" x2="61.60" y2="610.00" stroke="#888" stroke-width="0.7"/>
<line x1="75.50" y1="608.00" x2="75.50" y2="610.00" stroke="#888" stroke-width="0.7"/>
<line x1="89.40" y1="608.00" x2="89.40" y2="610.00" stroke="#888" stroke-width="0.7"/>
<line x1="103.30" y1="608.00" x2="103.30" y2="610.00" stroke="#888" stroke-width="0.7"/>
<line x1="117.20" y1="608.00" x2="117.20" y2="610.00" stroke="#888" stroke-width="0.7"/>
<line x1="131.10" y1="608.00" x2="131.10" y2="610.00" stroke="#888" stroke-width="0.7"/>
<line x1="145.00" y1="608.00" x2="145.00" y2="610.00" stroke="#888" stroke-width="0.7"/>
<line x1="158.90" y1="608.00" x2="158.90" y2="610.00" stroke="#888" stroke-width="0.7"/>
<line x1="172.80" y1="608.00" x2="172.80" y2="610.00" stroke="#888" stroke-width="0.7"/>
<line x1="186.70" y1="608.00" x2="186.70" y2="610.00" stroke="#888" stroke-width="0.7"/>
<line x1="200.60" y1="608.00" x2="200.60" y2="610.00" stroke="#888" stroke-width="0.7"/>
<line x1="214.50" y1="608.00" x2="214.50" y2="610.00" stroke="#888" stroke-width="0.7"/>
<line x1="228.40" y1="608.00" x2="228.40" y2="610.00" stroke="#888" stroke-width="0.7"/>
<line x1="242.30" y1="608.00" x2="242.30" y2="610.00" stroke="#888" stroke-width="0.7"/>
<rect x="43.30" y="517.82" width="8.80" height="90.18" fill="#c2c2c2" stroke="#8a8a8a" stroke-width="0.9"/>
<rect x="57.20" y="472.73" width="8.50" height="135.27" fill="url(#hF)" stroke="#111" stroke-width="1.0"/>
<text x="42.30" y="617.10" font-size="7.2" font-weight="normal" text-anchor="start" fill="#000" stroke="#000" stroke-width="0.25" textLength="9.8" lengthAdjust="spacingAndGlyphs">WT</text>
<text x="56.30" y="617.10" font-size="7.2" font-weight="normal" text-anchor="start" fill="#000" stroke="#000" stroke-width="0.25" textLength="7.4" lengthAdjust="spacingAndGlyphs">-/-</text>
<line x1="38.50" y1="620.30" x2="70.40" y2="620.30" stroke="#000" stroke-width="1.0"/>
<text x="54.60" y="626.30" font-size="6.5" font-weight="bold" text-anchor="middle" fill="#000" stroke="#000" stroke-width="0.15" textLength="15.4" lengthAdjust="spacingAndGlyphs">Basal</text>
<text x="54.60" y="635.30" font-size="6.5" font-weight="bold" text-anchor="middle" fill="#000" stroke="#000" stroke-width="0.15" textLength="12.6" lengthAdjust="spacingAndGlyphs">OCR</text>
<rect x="84.60" y="525.34" width="8.80" height="82.66" fill="#c2c2c2" stroke="#8a8a8a" stroke-width="0.9"/>
<rect x="98.50" y="521.58" width="8.50" height="86.42" fill="url(#hF)" stroke="#111" stroke-width="1.0"/>
<text x="83.60" y="617.10" font-size="7.2" font-weight="normal" text-anchor="start" fill="#000" stroke="#000" stroke-width="0.25" textLength="9.8" lengthAdjust="spacingAndGlyphs">WT</text>
<text x="97.60" y="617.10" font-size="7.2" font-weight="normal" text-anchor="start" fill="#000" stroke="#000" stroke-width="0.25" textLength="7.4" lengthAdjust="spacingAndGlyphs">-/-</text>
<line x1="79.80" y1="620.30" x2="111.70" y2="620.30" stroke="#000" stroke-width="1.0"/>
<text x="95.90" y="626.30" font-size="6.5" font-weight="bold" text-anchor="middle" fill="#000" stroke="#000" stroke-width="0.15" textLength="22.3" lengthAdjust="spacingAndGlyphs">Oligo-A</text>
<text x="95.90" y="635.30" font-size="6.5" font-weight="bold" text-anchor="middle" fill="#000" stroke="#000" stroke-width="0.15" textLength="12.6" lengthAdjust="spacingAndGlyphs">OCR</text>
<rect x="168.30" y="547.13" width="8.80" height="60.87" fill="#c2c2c2" stroke="#8a8a8a" stroke-width="0.9"/>
<rect x="182.60" y="467.47" width="8.50" height="140.53" fill="url(#hF)" stroke="#111" stroke-width="1.0"/>
<text x="167.30" y="617.10" font-size="7.2" font-weight="normal" text-anchor="start" fill="#000" stroke="#000" stroke-width="0.25" textLength="9.8" lengthAdjust="spacingAndGlyphs">WT</text>
<text x="181.70" y="617.10" font-size="7.2" font-weight="normal" text-anchor="start" fill="#000" stroke="#000" stroke-width="0.25" textLength="7.4" lengthAdjust="spacingAndGlyphs">-/-</text>
<line x1="163.50" y1="620.30" x2="195.80" y2="620.30" stroke="#000" stroke-width="1.0"/>
<text x="179.80" y="626.30" font-size="6.5" font-weight="bold" text-anchor="middle" fill="#000" stroke="#000" stroke-width="0.15" textLength="15.4" lengthAdjust="spacingAndGlyphs">Basal</text>
<text x="179.80" y="635.30" font-size="6.5" font-weight="bold" text-anchor="middle" fill="#000" stroke="#000" stroke-width="0.15" textLength="12.6" lengthAdjust="spacingAndGlyphs">OCR</text>
<rect x="210.00" y="543.37" width="8.80" height="64.63" fill="#c2c2c2" stroke="#8a8a8a" stroke-width="0.9"/>
<rect x="224.90" y="541.87" width="8.50" height="66.13" fill="url(#hF)" stroke="#111" stroke-width="1.0"/>
<text x="209.00" y="617.10" font-size="7.2" font-weight="normal" text-anchor="start" fill="#000" stroke="#000" stroke-width="0.25" textLength="9.8" lengthAdjust="spacingAndGlyphs">WT</text>
<text x="224.00" y="617.10" font-size="7.2" font-weight="normal" text-anchor="start" fill="#000" stroke="#000" stroke-width="0.25" textLength="7.4" lengthAdjust="spacingAndGlyphs">-/-</text>
<line x1="205.20" y1="620.30" x2="238.10" y2="620.30" stroke="#000" stroke-width="1.0"/>
<text x="221.80" y="626.30" font-size="6.5" font-weight="bold" text-anchor="middle" fill="#000" stroke="#000" stroke-width="0.15" textLength="22.3" lengthAdjust="spacingAndGlyphs">Oligo-A</text>
<text x="221.80" y="635.30" font-size="6.5" font-weight="bold" text-anchor="middle" fill="#000" stroke="#000" stroke-width="0.15" textLength="12.6" lengthAdjust="spacingAndGlyphs">OCR</text>
<line x1="38.50" y1="639.00" x2="111.30" y2="639.00" stroke="#000" stroke-width="1.6"/>
<line x1="164.40" y1="639.00" x2="236.50" y2="639.00" stroke="#000" stroke-width="1.6"/>
<text x="75.00" y="650.00" font-size="7.4" font-weight="bold" text-anchor="middle" fill="#000" textLength="19.2" lengthAdjust="spacingAndGlyphs">Exp 1</text>
<text x="198.10" y="650.00" font-size="7.4" font-weight="bold" text-anchor="middle" fill="#000" textLength="19.2" lengthAdjust="spacingAndGlyphs">Exp 2</text>
<text x="13.6" y="527.7" font-size="7.4" font-weight="bold" text-anchor="middle" transform="rotate(-90 13.6 527.7)"><tspan>OCR (pMoles/min/10</tspan><tspan font-size="4.4" dy="-2.6">5</tspan><tspan dy="2.6"> cells)</tspan></text>
</svg>
</body></html>
